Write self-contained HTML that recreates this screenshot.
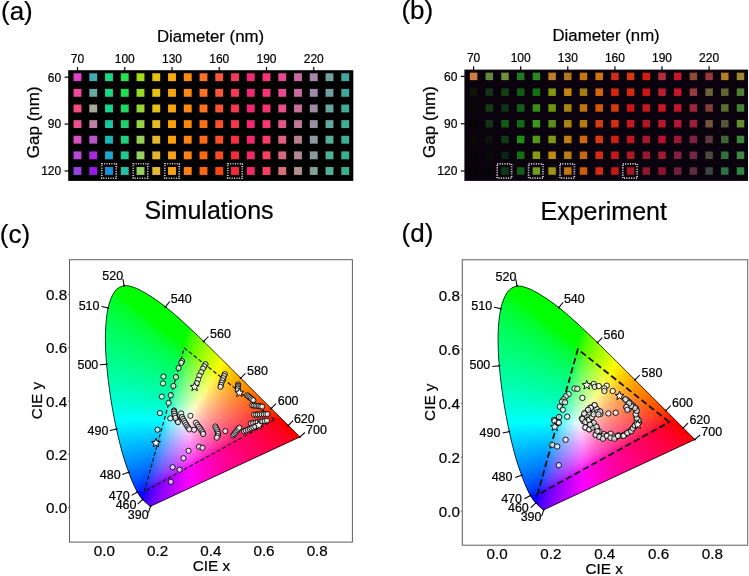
<!DOCTYPE html>
<html><head><meta charset="utf-8"><title>figure</title>
<style>html,body{margin:0;padding:0;background:#fff}svg{display:block}svg{will-change:transform}g.t{filter:grayscale(1)}text{font-family:"Liberation Sans",sans-serif;fill:#000;stroke:#000;stroke-width:0.22px}</style></head><body>
<svg width="749" height="576" viewBox="0 0 749 576">
<defs>
<linearGradient id="g0" gradientUnits="userSpaceOnUse" x1="164.2" x2="183.4" y1="0" y2="0"><stop offset="0" stop-color="#5300ff"/><stop offset="1" stop-color="#6e00ff"/></linearGradient>
<linearGradient id="g1" gradientUnits="userSpaceOnUse" x1="155.7" x2="199.6" y1="0" y2="0"><stop offset="0" stop-color="#4200ff"/><stop offset="0.5" stop-color="#6400ff"/><stop offset="1" stop-color="#8000ff"/></linearGradient>
<linearGradient id="g2" gradientUnits="userSpaceOnUse" x1="147.2" x2="215.7" y1="0" y2="0"><stop offset="0" stop-color="#2b00ff"/><stop offset="0.3333" stop-color="#5700ff"/><stop offset="0.6667" stop-color="#7600ff"/><stop offset="1" stop-color="#9100ff"/></linearGradient>
<linearGradient id="g3" gradientUnits="userSpaceOnUse" x1="139.7" x2="231.9" y1="0" y2="0"><stop offset="0" stop-color="#0000ff"/><stop offset="0.25" stop-color="#4800ff"/><stop offset="0.5" stop-color="#6b00ff"/><stop offset="0.75" stop-color="#8800ff"/><stop offset="1" stop-color="#a200ff"/></linearGradient>
<linearGradient id="g4" gradientUnits="userSpaceOnUse" x1="133.5" x2="248.0" y1="0" y2="0"><stop offset="0" stop-color="#0000ff"/><stop offset="0.2" stop-color="#3800ff"/><stop offset="0.4" stop-color="#6000ff"/><stop offset="0.6" stop-color="#7f00ff"/><stop offset="0.8" stop-color="#9900ff"/><stop offset="1" stop-color="#b200ff"/></linearGradient>
<linearGradient id="g5" gradientUnits="userSpaceOnUse" x1="128.3" x2="264.2" y1="0" y2="0"><stop offset="0" stop-color="#0000ff"/><stop offset="0.1667" stop-color="#2400ff"/><stop offset="0.3333" stop-color="#5400ff"/><stop offset="0.5" stop-color="#7500ff"/><stop offset="0.6667" stop-color="#9100ff"/><stop offset="0.8333" stop-color="#aa00ff"/><stop offset="1" stop-color="#c200ff"/></linearGradient>
<linearGradient id="g6" gradientUnits="userSpaceOnUse" x1="123.5" x2="280.3" y1="0" y2="0"><stop offset="0" stop-color="#0012ff"/><stop offset="0.1429" stop-color="#0000ff"/><stop offset="0.2857" stop-color="#4800ff"/><stop offset="0.4286" stop-color="#6c00ff"/><stop offset="0.5714" stop-color="#8900ff"/><stop offset="0.7143" stop-color="#a300ff"/><stop offset="0.8571" stop-color="#bb00ff"/><stop offset="1" stop-color="#d200ff"/></linearGradient>
<linearGradient id="g7" gradientUnits="userSpaceOnUse" x1="119.0" x2="296.5" y1="0" y2="0"><stop offset="0" stop-color="#0025ff"/><stop offset="0.125" stop-color="#000aff"/><stop offset="0.25" stop-color="#3a00ff"/><stop offset="0.375" stop-color="#6200ff"/><stop offset="0.5" stop-color="#8100ff"/><stop offset="0.625" stop-color="#9c00ff"/><stop offset="0.75" stop-color="#b400ff"/><stop offset="0.875" stop-color="#cb00ff"/><stop offset="1" stop-color="#e200ff"/></linearGradient>
<linearGradient id="g8" gradientUnits="userSpaceOnUse" x1="115.2" x2="312.6" y1="0" y2="0"><stop offset="0" stop-color="#0032ff"/><stop offset="0.125" stop-color="#001fff"/><stop offset="0.25" stop-color="#3900ff"/><stop offset="0.375" stop-color="#6500ff"/><stop offset="0.5" stop-color="#8700ff"/><stop offset="0.625" stop-color="#a400ff"/><stop offset="0.75" stop-color="#bf00ff"/><stop offset="0.875" stop-color="#d900ff"/><stop offset="1" stop-color="#f200ff"/></linearGradient>
<linearGradient id="g9" gradientUnits="userSpaceOnUse" x1="111.5" x2="328.8" y1="0" y2="0"><stop offset="0" stop-color="#003cff"/><stop offset="0.1111" stop-color="#002eff"/><stop offset="0.2222" stop-color="#2719ff"/><stop offset="0.3333" stop-color="#5a00ff"/><stop offset="0.4444" stop-color="#7e00ff"/><stop offset="0.5556" stop-color="#9c00ff"/><stop offset="0.6667" stop-color="#b700ff"/><stop offset="0.7778" stop-color="#d100ff"/><stop offset="0.8889" stop-color="#ea00ff"/><stop offset="1" stop-color="#ff00fb"/></linearGradient>
<linearGradient id="g10" gradientUnits="userSpaceOnUse" x1="107.7" x2="344.9" y1="0" y2="0"><stop offset="0" stop-color="#0046ff"/><stop offset="0.1" stop-color="#003aff"/><stop offset="0.2" stop-color="#002aff"/><stop offset="0.3" stop-color="#4f11ff"/><stop offset="0.4" stop-color="#7500ff"/><stop offset="0.5" stop-color="#9400ff"/><stop offset="0.6" stop-color="#b000ff"/><stop offset="0.7" stop-color="#ca00ff"/><stop offset="0.8" stop-color="#e300ff"/><stop offset="0.9" stop-color="#fc00ff"/><stop offset="1" stop-color="#ff00eb"/></linearGradient>
<linearGradient id="g11" gradientUnits="userSpaceOnUse" x1="104.3" x2="361.1" y1="0" y2="0"><stop offset="0" stop-color="#004eff"/><stop offset="0.09091" stop-color="#0044ff"/><stop offset="0.1818" stop-color="#0037ff"/><stop offset="0.2727" stop-color="#4227ff"/><stop offset="0.3636" stop-color="#6b00ff"/><stop offset="0.4545" stop-color="#8c00ff"/><stop offset="0.5455" stop-color="#a800ff"/><stop offset="0.6364" stop-color="#c300ff"/><stop offset="0.7273" stop-color="#dc00ff"/><stop offset="0.8182" stop-color="#f500ff"/><stop offset="0.9091" stop-color="#ff00f1"/><stop offset="1" stop-color="#ff00dd"/></linearGradient>
<linearGradient id="g12" gradientUnits="userSpaceOnUse" x1="101.3" x2="377.3" y1="0" y2="0"><stop offset="0" stop-color="#0056ff"/><stop offset="0.08333" stop-color="#004dff"/><stop offset="0.1667" stop-color="#0042ff"/><stop offset="0.25" stop-color="#3435ff"/><stop offset="0.3333" stop-color="#6222ff"/><stop offset="0.4167" stop-color="#8400ff"/><stop offset="0.5" stop-color="#a100ff"/><stop offset="0.5833" stop-color="#bc00ff"/><stop offset="0.6667" stop-color="#d600ff"/><stop offset="0.75" stop-color="#ee00ff"/><stop offset="0.8333" stop-color="#ff00f7"/><stop offset="0.9167" stop-color="#ff00e2"/><stop offset="1" stop-color="#ff00d0"/></linearGradient>
<linearGradient id="g13" gradientUnits="userSpaceOnUse" x1="98.3" x2="393.4" y1="0" y2="0"><stop offset="0" stop-color="#005dff"/><stop offset="0.08333" stop-color="#0054ff"/><stop offset="0.1667" stop-color="#0049ff"/><stop offset="0.25" stop-color="#343dff"/><stop offset="0.3333" stop-color="#652cff"/><stop offset="0.4167" stop-color="#890fff"/><stop offset="0.5" stop-color="#a800ff"/><stop offset="0.5833" stop-color="#c500ff"/><stop offset="0.6667" stop-color="#e000ff"/><stop offset="0.75" stop-color="#fb00ff"/><stop offset="0.8333" stop-color="#ff00ea"/><stop offset="0.9167" stop-color="#ff00d6"/><stop offset="1" stop-color="#ff00c4"/></linearGradient>
<linearGradient id="g14" gradientUnits="userSpaceOnUse" x1="95.4" x2="409.6" y1="0" y2="0"><stop offset="0" stop-color="#0064ff"/><stop offset="0.07692" stop-color="#005cff"/><stop offset="0.1538" stop-color="#0052ff"/><stop offset="0.2308" stop-color="#2047ff"/><stop offset="0.3077" stop-color="#5a3aff"/><stop offset="0.3846" stop-color="#8028ff"/><stop offset="0.4615" stop-color="#a000ff"/><stop offset="0.5385" stop-color="#bd00ff"/><stop offset="0.6154" stop-color="#d900ff"/><stop offset="0.6923" stop-color="#f400ff"/><stop offset="0.7692" stop-color="#ff00f1"/><stop offset="0.8462" stop-color="#ff00db"/><stop offset="0.9231" stop-color="#ff00c9"/><stop offset="1" stop-color="#ff00b9"/></linearGradient>
<linearGradient id="g15" gradientUnits="userSpaceOnUse" x1="92.4" x2="425.7" y1="0" y2="0"><stop offset="0" stop-color="#006aff"/><stop offset="0.07143" stop-color="#0063ff"/><stop offset="0.1429" stop-color="#005aff"/><stop offset="0.2143" stop-color="#0051ff"/><stop offset="0.2857" stop-color="#4f45ff"/><stop offset="0.3571" stop-color="#7737ff"/><stop offset="0.4286" stop-color="#9823ff"/><stop offset="0.5" stop-color="#b600ff"/><stop offset="0.5714" stop-color="#d200ff"/><stop offset="0.6429" stop-color="#ed00ff"/><stop offset="0.7143" stop-color="#ff00f7"/><stop offset="0.7857" stop-color="#ff00e0"/><stop offset="0.8571" stop-color="#ff00cd"/><stop offset="0.9286" stop-color="#ff00bd"/><stop offset="1" stop-color="#ff00af"/></linearGradient>
<linearGradient id="g16" gradientUnits="userSpaceOnUse" x1="89.4" x2="441.9" y1="0" y2="0"><stop offset="0" stop-color="#0070ff"/><stop offset="0.06667" stop-color="#006aff"/><stop offset="0.1333" stop-color="#0062ff"/><stop offset="0.2" stop-color="#005aff"/><stop offset="0.2667" stop-color="#4250ff"/><stop offset="0.3333" stop-color="#6e44ff"/><stop offset="0.4" stop-color="#9034ff"/><stop offset="0.4667" stop-color="#af1eff"/><stop offset="0.5333" stop-color="#cb00ff"/><stop offset="0.6" stop-color="#e700ff"/><stop offset="0.6667" stop-color="#ff00fd"/><stop offset="0.7333" stop-color="#ff00e5"/><stop offset="0.8" stop-color="#ff00d1"/><stop offset="0.8667" stop-color="#ff00c1"/><stop offset="0.9333" stop-color="#ff00b2"/><stop offset="1" stop-color="#ff00a5"/></linearGradient>
<linearGradient id="g17" gradientUnits="userSpaceOnUse" x1="86.5" x2="458.0" y1="0" y2="0"><stop offset="0" stop-color="#0076ff"/><stop offset="0.06667" stop-color="#0070ff"/><stop offset="0.1333" stop-color="#0068ff"/><stop offset="0.2" stop-color="#0060ff"/><stop offset="0.2667" stop-color="#4356ff"/><stop offset="0.3333" stop-color="#714aff"/><stop offset="0.4" stop-color="#953cff"/><stop offset="0.4667" stop-color="#b627ff"/><stop offset="0.5333" stop-color="#d400ff"/><stop offset="0.6" stop-color="#f100ff"/><stop offset="0.6667" stop-color="#ff00f2"/><stop offset="0.7333" stop-color="#ff00db"/><stop offset="0.8" stop-color="#ff00c7"/><stop offset="0.8667" stop-color="#ff00b7"/><stop offset="0.9333" stop-color="#ff00a8"/><stop offset="1" stop-color="#ff009c"/></linearGradient>
<linearGradient id="g18" gradientUnits="userSpaceOnUse" x1="84.0" x2="474.2" y1="0" y2="0"><stop offset="0" stop-color="#007cff"/><stop offset="0.0625" stop-color="#0076ff"/><stop offset="0.125" stop-color="#006fff"/><stop offset="0.1875" stop-color="#0068ff"/><stop offset="0.25" stop-color="#335fff"/><stop offset="0.3125" stop-color="#6755ff"/><stop offset="0.375" stop-color="#8d48ff"/><stop offset="0.4375" stop-color="#ae39ff"/><stop offset="0.5" stop-color="#cd21ff"/><stop offset="0.5625" stop-color="#ea00ff"/><stop offset="0.625" stop-color="#ff00f8"/><stop offset="0.6875" stop-color="#ff00e0"/><stop offset="0.75" stop-color="#ff00cc"/><stop offset="0.8125" stop-color="#ff00bb"/><stop offset="0.875" stop-color="#ff00ac"/><stop offset="0.9375" stop-color="#ff009f"/><stop offset="1" stop-color="#ff0093"/></linearGradient>
<linearGradient id="g19" gradientUnits="userSpaceOnUse" x1="81.6" x2="490.3" y1="0" y2="0"><stop offset="0" stop-color="#0082ff"/><stop offset="0.05882" stop-color="#007cff"/><stop offset="0.1176" stop-color="#0076ff"/><stop offset="0.1765" stop-color="#006fff"/><stop offset="0.2353" stop-color="#1f67ff"/><stop offset="0.2941" stop-color="#5d5eff"/><stop offset="0.3529" stop-color="#8553ff"/><stop offset="0.4118" stop-color="#a746ff"/><stop offset="0.4706" stop-color="#c635ff"/><stop offset="0.5294" stop-color="#e31aff"/><stop offset="0.5882" stop-color="#ff00fe"/><stop offset="0.6471" stop-color="#ff00e5"/><stop offset="0.7059" stop-color="#ff00d0"/><stop offset="0.7647" stop-color="#ff00be"/><stop offset="0.8235" stop-color="#ff00af"/><stop offset="0.8824" stop-color="#ff00a1"/><stop offset="0.9412" stop-color="#ff0095"/><stop offset="1" stop-color="#ff008a"/></linearGradient>
<linearGradient id="g20" gradientUnits="userSpaceOnUse" x1="79.1" x2="506.5" y1="0" y2="0"><stop offset="0" stop-color="#0088ff"/><stop offset="0.05556" stop-color="#0082ff"/><stop offset="0.1111" stop-color="#007dff"/><stop offset="0.1667" stop-color="#0076ff"/><stop offset="0.2222" stop-color="#006fff"/><stop offset="0.2778" stop-color="#5267ff"/><stop offset="0.3333" stop-color="#7c5dff"/><stop offset="0.3889" stop-color="#9f52ff"/><stop offset="0.4444" stop-color="#bf44ff"/><stop offset="0.5" stop-color="#dd32ff"/><stop offset="0.5556" stop-color="#fa11ff"/><stop offset="0.6111" stop-color="#ff00ea"/><stop offset="0.6667" stop-color="#ff00d4"/><stop offset="0.7222" stop-color="#ff00c1"/><stop offset="0.7778" stop-color="#ff00b2"/><stop offset="0.8333" stop-color="#ff00a4"/><stop offset="0.8889" stop-color="#ff0097"/><stop offset="0.9444" stop-color="#ff008c"/><stop offset="1" stop-color="#ff0082"/></linearGradient>
<linearGradient id="g21" gradientUnits="userSpaceOnUse" x1="76.6" x2="522.7" y1="0" y2="0"><stop offset="0" stop-color="#008dff"/><stop offset="0.05556" stop-color="#0088ff"/><stop offset="0.1111" stop-color="#0082ff"/><stop offset="0.1667" stop-color="#007cff"/><stop offset="0.2222" stop-color="#0075ff"/><stop offset="0.2778" stop-color="#546dff"/><stop offset="0.3333" stop-color="#8063ff"/><stop offset="0.3889" stop-color="#a558ff"/><stop offset="0.4444" stop-color="#c64bff"/><stop offset="0.5" stop-color="#e539ff"/><stop offset="0.5556" stop-color="#ff1dfa"/><stop offset="0.6111" stop-color="#ff00e0"/><stop offset="0.6667" stop-color="#ff00cb"/><stop offset="0.7222" stop-color="#ff00b9"/><stop offset="0.7778" stop-color="#ff00a9"/><stop offset="0.8333" stop-color="#ff009c"/><stop offset="0.8889" stop-color="#ff008f"/><stop offset="0.9444" stop-color="#ff0084"/><stop offset="1" stop-color="#ff007a"/></linearGradient>
<linearGradient id="g22" gradientUnits="userSpaceOnUse" x1="74.1" x2="538.8" y1="0" y2="0"><stop offset="0" stop-color="#0093ff"/><stop offset="0.05263" stop-color="#008eff"/><stop offset="0.1053" stop-color="#0088ff"/><stop offset="0.1579" stop-color="#0083ff"/><stop offset="0.2105" stop-color="#007cff"/><stop offset="0.2632" stop-color="#4775ff"/><stop offset="0.3158" stop-color="#776cff"/><stop offset="0.3684" stop-color="#9d63ff"/><stop offset="0.4211" stop-color="#bf57ff"/><stop offset="0.4737" stop-color="#de49ff"/><stop offset="0.5263" stop-color="#fd35ff"/><stop offset="0.5789" stop-color="#ff12e5"/><stop offset="0.6316" stop-color="#ff00cf"/><stop offset="0.6842" stop-color="#ff00bc"/><stop offset="0.7368" stop-color="#ff00ac"/><stop offset="0.7895" stop-color="#ff009e"/><stop offset="0.8421" stop-color="#ff0092"/><stop offset="0.8947" stop-color="#ff0086"/><stop offset="0.9474" stop-color="#ff007c"/><stop offset="1" stop-color="#ff0072"/></linearGradient>
<linearGradient id="g23" gradientUnits="userSpaceOnUse" x1="71.6" x2="555.0" y1="0" y2="0"><stop offset="0" stop-color="#0098ff"/><stop offset="0.05" stop-color="#0093ff"/><stop offset="0.1" stop-color="#008fff"/><stop offset="0.15" stop-color="#0089ff"/><stop offset="0.2" stop-color="#0083ff"/><stop offset="0.25" stop-color="#377cff"/><stop offset="0.3" stop-color="#6d75ff"/><stop offset="0.35" stop-color="#956cff"/><stop offset="0.4" stop-color="#b762ff"/><stop offset="0.45" stop-color="#d756ff"/><stop offset="0.5" stop-color="#f746ff"/><stop offset="0.55" stop-color="#ff2deb"/><stop offset="0.6" stop-color="#ff00d3"/><stop offset="0.65" stop-color="#ff00c0"/><stop offset="0.7" stop-color="#ff00af"/><stop offset="0.75" stop-color="#ff00a1"/><stop offset="0.8" stop-color="#ff0094"/><stop offset="0.85" stop-color="#ff0088"/><stop offset="0.9" stop-color="#ff007e"/><stop offset="0.95" stop-color="#ff0074"/><stop offset="1" stop-color="#ff006b"/></linearGradient>
<linearGradient id="g24" gradientUnits="userSpaceOnUse" x1="69.1" x2="571.1" y1="0" y2="0"><stop offset="0" stop-color="#009dff"/><stop offset="0.04762" stop-color="#0099ff"/><stop offset="0.09524" stop-color="#0094ff"/><stop offset="0.1429" stop-color="#0090ff"/><stop offset="0.1905" stop-color="#008aff"/><stop offset="0.2381" stop-color="#2384ff"/><stop offset="0.2857" stop-color="#627dff"/><stop offset="0.3333" stop-color="#8c75ff"/><stop offset="0.381" stop-color="#b06cff"/><stop offset="0.4286" stop-color="#d162ff"/><stop offset="0.4762" stop-color="#f055ff"/><stop offset="0.5238" stop-color="#ff40f0"/><stop offset="0.5714" stop-color="#ff26d7"/><stop offset="0.619" stop-color="#ff00c3"/><stop offset="0.6667" stop-color="#ff00b2"/><stop offset="0.7143" stop-color="#ff00a3"/><stop offset="0.7619" stop-color="#ff0096"/><stop offset="0.8095" stop-color="#ff008a"/><stop offset="0.8571" stop-color="#ff007f"/><stop offset="0.9048" stop-color="#ff0075"/><stop offset="0.9524" stop-color="#ff006c"/><stop offset="1" stop-color="#ff0063"/></linearGradient>
<linearGradient id="g25" gradientUnits="userSpaceOnUse" x1="66.6" x2="587.3" y1="0" y2="0"><stop offset="0" stop-color="#00a2ff"/><stop offset="0.04762" stop-color="#009eff"/><stop offset="0.09524" stop-color="#009aff"/><stop offset="0.1429" stop-color="#0095ff"/><stop offset="0.1905" stop-color="#0090ff"/><stop offset="0.2381" stop-color="#228aff"/><stop offset="0.2857" stop-color="#6583ff"/><stop offset="0.3333" stop-color="#907bff"/><stop offset="0.381" stop-color="#b572ff"/><stop offset="0.4286" stop-color="#d868ff"/><stop offset="0.4762" stop-color="#f95bff"/><stop offset="0.5238" stop-color="#ff44e7"/><stop offset="0.5714" stop-color="#ff2bcf"/><stop offset="0.619" stop-color="#ff00bb"/><stop offset="0.6667" stop-color="#ff00aa"/><stop offset="0.7143" stop-color="#ff009b"/><stop offset="0.7619" stop-color="#ff008e"/><stop offset="0.8095" stop-color="#ff0083"/><stop offset="0.8571" stop-color="#ff0078"/><stop offset="0.9048" stop-color="#ff006e"/><stop offset="0.9524" stop-color="#ff0065"/><stop offset="1" stop-color="#ff005c"/></linearGradient>
<linearGradient id="g26" gradientUnits="userSpaceOnUse" x1="64.3" x2="603.4" y1="0" y2="0"><stop offset="0" stop-color="#00a8ff"/><stop offset="0.04545" stop-color="#00a4ff"/><stop offset="0.09091" stop-color="#00a0ff"/><stop offset="0.1364" stop-color="#009bff"/><stop offset="0.1818" stop-color="#0096ff"/><stop offset="0.2273" stop-color="#0091ff"/><stop offset="0.2727" stop-color="#598bff"/><stop offset="0.3182" stop-color="#8784ff"/><stop offset="0.3636" stop-color="#ae7cff"/><stop offset="0.4091" stop-color="#d172ff"/><stop offset="0.4545" stop-color="#f267ff"/><stop offset="0.5" stop-color="#ff53ec"/><stop offset="0.5455" stop-color="#ff3cd3"/><stop offset="0.5909" stop-color="#ff24be"/><stop offset="0.6364" stop-color="#ff00ad"/><stop offset="0.6818" stop-color="#ff009e"/><stop offset="0.7273" stop-color="#ff0090"/><stop offset="0.7727" stop-color="#ff0084"/><stop offset="0.8182" stop-color="#ff0079"/><stop offset="0.8636" stop-color="#ff006f"/><stop offset="0.9091" stop-color="#ff0066"/><stop offset="0.9545" stop-color="#ff005d"/><stop offset="1" stop-color="#ff0055"/></linearGradient>
<linearGradient id="g27" gradientUnits="userSpaceOnUse" x1="62.4" x2="619.6" y1="0" y2="0"><stop offset="0" stop-color="#00adff"/><stop offset="0.04348" stop-color="#00a9ff"/><stop offset="0.08696" stop-color="#00a5ff"/><stop offset="0.1304" stop-color="#00a1ff"/><stop offset="0.1739" stop-color="#009dff"/><stop offset="0.2174" stop-color="#0098ff"/><stop offset="0.2609" stop-color="#4d92ff"/><stop offset="0.3043" stop-color="#7f8cff"/><stop offset="0.3478" stop-color="#a685ff"/><stop offset="0.3913" stop-color="#ca7cff"/><stop offset="0.4348" stop-color="#ec73ff"/><stop offset="0.4783" stop-color="#ff62f2"/><stop offset="0.5217" stop-color="#ff4bd7"/><stop offset="0.5652" stop-color="#ff35c2"/><stop offset="0.6087" stop-color="#ff1daf"/><stop offset="0.6522" stop-color="#ff00a0"/><stop offset="0.6957" stop-color="#ff0092"/><stop offset="0.7391" stop-color="#ff0086"/><stop offset="0.7826" stop-color="#ff007b"/><stop offset="0.8261" stop-color="#ff0071"/><stop offset="0.8696" stop-color="#ff0067"/><stop offset="0.913" stop-color="#ff005e"/><stop offset="0.9565" stop-color="#ff0056"/><stop offset="1" stop-color="#ff004d"/></linearGradient>
<linearGradient id="g28" gradientUnits="userSpaceOnUse" x1="60.5" x2="635.7" y1="0" y2="0"><stop offset="0" stop-color="#00b2ff"/><stop offset="0.04167" stop-color="#00aeff"/><stop offset="0.08333" stop-color="#00abff"/><stop offset="0.125" stop-color="#00a7ff"/><stop offset="0.1667" stop-color="#00a3ff"/><stop offset="0.2083" stop-color="#009eff"/><stop offset="0.25" stop-color="#3f99ff"/><stop offset="0.2917" stop-color="#7593ff"/><stop offset="0.3333" stop-color="#9f8dff"/><stop offset="0.375" stop-color="#c386ff"/><stop offset="0.4167" stop-color="#e67dff"/><stop offset="0.4583" stop-color="#ff6ff7"/><stop offset="0.5" stop-color="#ff58db"/><stop offset="0.5417" stop-color="#ff44c5"/><stop offset="0.5833" stop-color="#ff2fb2"/><stop offset="0.625" stop-color="#ff16a2"/><stop offset="0.6667" stop-color="#ff0094"/><stop offset="0.7083" stop-color="#ff0087"/><stop offset="0.75" stop-color="#ff007c"/><stop offset="0.7917" stop-color="#ff0072"/><stop offset="0.8333" stop-color="#ff0068"/><stop offset="0.875" stop-color="#ff005f"/><stop offset="0.9167" stop-color="#ff0056"/><stop offset="0.9583" stop-color="#ff004e"/><stop offset="1" stop-color="#ff0046"/></linearGradient>
<linearGradient id="g29" gradientUnits="userSpaceOnUse" x1="58.7" x2="651.9" y1="0" y2="0"><stop offset="0" stop-color="#00b7ff"/><stop offset="0.04167" stop-color="#00b4ff"/><stop offset="0.08333" stop-color="#00b0ff"/><stop offset="0.125" stop-color="#00adff"/><stop offset="0.1667" stop-color="#00a8ff"/><stop offset="0.2083" stop-color="#00a4ff"/><stop offset="0.25" stop-color="#419fff"/><stop offset="0.2917" stop-color="#7999ff"/><stop offset="0.3333" stop-color="#a493ff"/><stop offset="0.375" stop-color="#ca8cff"/><stop offset="0.4167" stop-color="#ee83ff"/><stop offset="0.4583" stop-color="#ff71ee"/><stop offset="0.5" stop-color="#ff5bd3"/><stop offset="0.5417" stop-color="#ff46bd"/><stop offset="0.5833" stop-color="#ff32aa"/><stop offset="0.625" stop-color="#ff1b9b"/><stop offset="0.6667" stop-color="#ff008d"/><stop offset="0.7083" stop-color="#ff0080"/><stop offset="0.75" stop-color="#ff0075"/><stop offset="0.7917" stop-color="#ff006b"/><stop offset="0.8333" stop-color="#ff0061"/><stop offset="0.875" stop-color="#ff0058"/><stop offset="0.9167" stop-color="#ff004f"/><stop offset="0.9583" stop-color="#ff0047"/><stop offset="1" stop-color="#ff003e"/></linearGradient>
<linearGradient id="g30" gradientUnits="userSpaceOnUse" x1="56.8" x2="668.0" y1="0" y2="0"><stop offset="0" stop-color="#00bcff"/><stop offset="0.04" stop-color="#00b9ff"/><stop offset="0.08" stop-color="#00b6ff"/><stop offset="0.12" stop-color="#00b2ff"/><stop offset="0.16" stop-color="#00afff"/><stop offset="0.2" stop-color="#00abff"/><stop offset="0.24" stop-color="#2fa6ff"/><stop offset="0.28" stop-color="#6fa1ff"/><stop offset="0.32" stop-color="#9c9bff"/><stop offset="0.36" stop-color="#c395ff"/><stop offset="0.4" stop-color="#e88dff"/><stop offset="0.44" stop-color="#ff7ff3"/><stop offset="0.48" stop-color="#ff67d7"/><stop offset="0.52" stop-color="#ff53c0"/><stop offset="0.56" stop-color="#ff40ad"/><stop offset="0.6" stop-color="#ff2c9d"/><stop offset="0.64" stop-color="#ff148e"/><stop offset="0.68" stop-color="#ff0082"/><stop offset="0.72" stop-color="#ff0076"/><stop offset="0.76" stop-color="#ff006c"/><stop offset="0.8" stop-color="#ff0062"/><stop offset="0.84" stop-color="#ff0059"/><stop offset="0.88" stop-color="#ff0050"/><stop offset="0.92" stop-color="#ff0047"/><stop offset="0.96" stop-color="#ff003f"/><stop offset="1" stop-color="#ff0036"/></linearGradient>
<linearGradient id="g31" gradientUnits="userSpaceOnUse" x1="55.0" x2="684.2" y1="0" y2="0"><stop offset="0" stop-color="#00c1ff"/><stop offset="0.03846" stop-color="#00beff"/><stop offset="0.07692" stop-color="#00bbff"/><stop offset="0.1154" stop-color="#00b8ff"/><stop offset="0.1538" stop-color="#00b5ff"/><stop offset="0.1923" stop-color="#00b1ff"/><stop offset="0.2308" stop-color="#13adff"/><stop offset="0.2692" stop-color="#64a8ff"/><stop offset="0.3077" stop-color="#94a3ff"/><stop offset="0.3462" stop-color="#bc9dff"/><stop offset="0.3846" stop-color="#e197ff"/><stop offset="0.4231" stop-color="#ff8cf9"/><stop offset="0.4615" stop-color="#ff73db"/><stop offset="0.5" stop-color="#ff5ec3"/><stop offset="0.5385" stop-color="#ff4caf"/><stop offset="0.5769" stop-color="#ff3a9f"/><stop offset="0.6154" stop-color="#ff2790"/><stop offset="0.6538" stop-color="#ff0c83"/><stop offset="0.6923" stop-color="#ff0077"/><stop offset="0.7308" stop-color="#ff006d"/><stop offset="0.7692" stop-color="#ff0063"/><stop offset="0.8077" stop-color="#ff0059"/><stop offset="0.8462" stop-color="#ff0050"/><stop offset="0.8846" stop-color="#ff0047"/><stop offset="0.9231" stop-color="#ff003f"/><stop offset="0.9615" stop-color="#ff0036"/><stop offset="1" stop-color="#ff002d"/></linearGradient>
<linearGradient id="g32" gradientUnits="userSpaceOnUse" x1="53.1" x2="700.4" y1="0" y2="0"><stop offset="0" stop-color="#00c6ff"/><stop offset="0.03846" stop-color="#00c3ff"/><stop offset="0.07692" stop-color="#00c1ff"/><stop offset="0.1154" stop-color="#00beff"/><stop offset="0.1538" stop-color="#00baff"/><stop offset="0.1923" stop-color="#00b7ff"/><stop offset="0.2308" stop-color="#15b3ff"/><stop offset="0.2692" stop-color="#68afff"/><stop offset="0.3077" stop-color="#98aaff"/><stop offset="0.3462" stop-color="#c2a4ff"/><stop offset="0.3846" stop-color="#e99eff"/><stop offset="0.4231" stop-color="#ff8df0"/><stop offset="0.4615" stop-color="#ff75d3"/><stop offset="0.5" stop-color="#ff60bc"/><stop offset="0.5385" stop-color="#ff4da8"/><stop offset="0.5769" stop-color="#ff3c98"/><stop offset="0.6154" stop-color="#ff2989"/><stop offset="0.6538" stop-color="#ff127c"/><stop offset="0.6923" stop-color="#ff0071"/><stop offset="0.7308" stop-color="#ff0066"/><stop offset="0.7692" stop-color="#ff005c"/><stop offset="0.8077" stop-color="#ff0052"/><stop offset="0.8462" stop-color="#ff0049"/><stop offset="0.8846" stop-color="#ff0040"/><stop offset="0.9231" stop-color="#ff0037"/><stop offset="0.9615" stop-color="#ff002e"/><stop offset="1" stop-color="#ff0023"/></linearGradient>
<linearGradient id="g33" gradientUnits="userSpaceOnUse" x1="51.3" x2="716.5" y1="0" y2="0"><stop offset="0" stop-color="#00cbff"/><stop offset="0.03704" stop-color="#00c8ff"/><stop offset="0.07407" stop-color="#00c6ff"/><stop offset="0.1111" stop-color="#00c3ff"/><stop offset="0.1481" stop-color="#00c1ff"/><stop offset="0.1852" stop-color="#00bdff"/><stop offset="0.2222" stop-color="#00baff"/><stop offset="0.2593" stop-color="#5bb6ff"/><stop offset="0.2963" stop-color="#8fb1ff"/><stop offset="0.3333" stop-color="#baacff"/><stop offset="0.3704" stop-color="#e2a7ff"/><stop offset="0.4074" stop-color="#ff9bf6"/><stop offset="0.4444" stop-color="#ff81d7"/><stop offset="0.4815" stop-color="#ff6bbf"/><stop offset="0.5185" stop-color="#ff59ab"/><stop offset="0.5556" stop-color="#ff479a"/><stop offset="0.5926" stop-color="#ff378b"/><stop offset="0.6296" stop-color="#ff247e"/><stop offset="0.6667" stop-color="#ff0972"/><stop offset="0.7037" stop-color="#ff0067"/><stop offset="0.7407" stop-color="#ff005d"/><stop offset="0.7778" stop-color="#ff0053"/><stop offset="0.8148" stop-color="#ff0049"/><stop offset="0.8519" stop-color="#ff0040"/><stop offset="0.8889" stop-color="#ff0037"/><stop offset="0.9259" stop-color="#ff002e"/><stop offset="0.963" stop-color="#ff0023"/><stop offset="1" stop-color="#ff0017"/></linearGradient>
<linearGradient id="g34" gradientUnits="userSpaceOnUse" x1="49.4" x2="732.7" y1="0" y2="0"><stop offset="0" stop-color="#00d0ff"/><stop offset="0.03571" stop-color="#00ceff"/><stop offset="0.07143" stop-color="#00ccff"/><stop offset="0.1071" stop-color="#00c9ff"/><stop offset="0.1429" stop-color="#00c7ff"/><stop offset="0.1786" stop-color="#00c4ff"/><stop offset="0.2143" stop-color="#00c1ff"/><stop offset="0.25" stop-color="#4dbdff"/><stop offset="0.2857" stop-color="#86b9ff"/><stop offset="0.3214" stop-color="#b3b5ff"/><stop offset="0.3571" stop-color="#dbb0ff"/><stop offset="0.3929" stop-color="#ffa8fc"/><stop offset="0.4286" stop-color="#ff8ddb"/><stop offset="0.4643" stop-color="#ff76c2"/><stop offset="0.5" stop-color="#ff63ad"/><stop offset="0.5357" stop-color="#ff529b"/><stop offset="0.5714" stop-color="#ff428c"/><stop offset="0.6071" stop-color="#ff327f"/><stop offset="0.6429" stop-color="#ff2073"/><stop offset="0.6786" stop-color="#ff0067"/><stop offset="0.7143" stop-color="#ff005d"/><stop offset="0.75" stop-color="#ff0053"/><stop offset="0.7857" stop-color="#ff004a"/><stop offset="0.8214" stop-color="#ff0041"/><stop offset="0.8571" stop-color="#ff0037"/><stop offset="0.8929" stop-color="#ff002e"/><stop offset="0.9286" stop-color="#ff0023"/><stop offset="0.9643" stop-color="#ff0017"/><stop offset="1" stop-color="#ff0000"/></linearGradient>
<linearGradient id="g35" gradientUnits="userSpaceOnUse" x1="47.6" x2="737.7" y1="0" y2="0"><stop offset="0" stop-color="#00d5ff"/><stop offset="0.03571" stop-color="#00d3ff"/><stop offset="0.07143" stop-color="#00d1ff"/><stop offset="0.1071" stop-color="#00cfff"/><stop offset="0.1429" stop-color="#00cdff"/><stop offset="0.1786" stop-color="#00caff"/><stop offset="0.2143" stop-color="#00c7ff"/><stop offset="0.25" stop-color="#48c4ff"/><stop offset="0.2857" stop-color="#84c0ff"/><stop offset="0.3214" stop-color="#b2bcff"/><stop offset="0.3571" stop-color="#dcb8ff"/><stop offset="0.3929" stop-color="#ffaffa"/><stop offset="0.4286" stop-color="#ff93d9"/><stop offset="0.4643" stop-color="#ff7cbf"/><stop offset="0.5" stop-color="#ff69aa"/><stop offset="0.5357" stop-color="#ff5799"/><stop offset="0.5714" stop-color="#ff4789"/><stop offset="0.6071" stop-color="#ff387c"/><stop offset="0.6429" stop-color="#ff276f"/><stop offset="0.6786" stop-color="#ff1264"/><stop offset="0.7143" stop-color="#ff005a"/><stop offset="0.75" stop-color="#ff0050"/><stop offset="0.7857" stop-color="#ff0046"/><stop offset="0.8214" stop-color="#ff003c"/><stop offset="0.8571" stop-color="#ff0033"/><stop offset="0.8929" stop-color="#ff0028"/><stop offset="0.9286" stop-color="#ff001d"/><stop offset="0.9643" stop-color="#ff000d"/><stop offset="1" stop-color="#ff0000"/></linearGradient>
<linearGradient id="g36" gradientUnits="userSpaceOnUse" x1="45.7" x2="734.0" y1="0" y2="0"><stop offset="0" stop-color="#00daff"/><stop offset="0.03571" stop-color="#00d8ff"/><stop offset="0.07143" stop-color="#00d6ff"/><stop offset="0.1071" stop-color="#00d5ff"/><stop offset="0.1429" stop-color="#00d3ff"/><stop offset="0.1786" stop-color="#00d0ff"/><stop offset="0.2143" stop-color="#00ceff"/><stop offset="0.25" stop-color="#3acbff"/><stop offset="0.2857" stop-color="#7cc8ff"/><stop offset="0.3214" stop-color="#acc4ff"/><stop offset="0.3571" stop-color="#d7c0ff"/><stop offset="0.3929" stop-color="#ffbbfe"/><stop offset="0.4286" stop-color="#ff9ddb"/><stop offset="0.4643" stop-color="#ff85c0"/><stop offset="0.5" stop-color="#ff71ab"/><stop offset="0.5357" stop-color="#ff6099"/><stop offset="0.5714" stop-color="#ff5089"/><stop offset="0.6071" stop-color="#ff417b"/><stop offset="0.6429" stop-color="#ff326f"/><stop offset="0.6786" stop-color="#ff2163"/><stop offset="0.7143" stop-color="#ff0559"/><stop offset="0.75" stop-color="#ff004f"/><stop offset="0.7857" stop-color="#ff0045"/><stop offset="0.8214" stop-color="#ff003b"/><stop offset="0.8571" stop-color="#ff0031"/><stop offset="0.8929" stop-color="#ff0026"/><stop offset="0.9286" stop-color="#ff001a"/><stop offset="0.9643" stop-color="#ff0005"/><stop offset="1" stop-color="#ff0000"/></linearGradient>
<linearGradient id="g37" gradientUnits="userSpaceOnUse" x1="43.9" x2="726.5" y1="0" y2="0"><stop offset="0" stop-color="#00dfff"/><stop offset="0.03571" stop-color="#00ddff"/><stop offset="0.07143" stop-color="#00dcff"/><stop offset="0.1071" stop-color="#00daff"/><stop offset="0.1429" stop-color="#00d9ff"/><stop offset="0.1786" stop-color="#00d7ff"/><stop offset="0.2143" stop-color="#00d4ff"/><stop offset="0.25" stop-color="#22d2ff"/><stop offset="0.2857" stop-color="#71cfff"/><stop offset="0.3214" stop-color="#a4ccff"/><stop offset="0.3571" stop-color="#d0c9ff"/><stop offset="0.3929" stop-color="#fac5ff"/><stop offset="0.4286" stop-color="#ffa9df"/><stop offset="0.4643" stop-color="#ff90c3"/><stop offset="0.5" stop-color="#ff7bad"/><stop offset="0.5357" stop-color="#ff699a"/><stop offset="0.5714" stop-color="#ff598a"/><stop offset="0.6071" stop-color="#ff4a7c"/><stop offset="0.6429" stop-color="#ff3c6f"/><stop offset="0.6786" stop-color="#ff2d64"/><stop offset="0.7143" stop-color="#ff1c59"/><stop offset="0.75" stop-color="#ff004f"/><stop offset="0.7857" stop-color="#ff0045"/><stop offset="0.8214" stop-color="#ff003b"/><stop offset="0.8571" stop-color="#ff0031"/><stop offset="0.8929" stop-color="#ff0026"/><stop offset="0.9286" stop-color="#ff0019"/><stop offset="0.9643" stop-color="#ff0000"/><stop offset="1" stop-color="#ff0000"/></linearGradient>
<linearGradient id="g38" gradientUnits="userSpaceOnUse" x1="42.0" x2="718.9" y1="0" y2="0"><stop offset="0" stop-color="#00e4ff"/><stop offset="0.03571" stop-color="#00e3ff"/><stop offset="0.07143" stop-color="#00e1ff"/><stop offset="0.1071" stop-color="#00e0ff"/><stop offset="0.1429" stop-color="#00dfff"/><stop offset="0.1786" stop-color="#00ddff"/><stop offset="0.2143" stop-color="#00dbff"/><stop offset="0.25" stop-color="#00d9ff"/><stop offset="0.2857" stop-color="#65d7ff"/><stop offset="0.3214" stop-color="#9bd4ff"/><stop offset="0.3571" stop-color="#c9d2ff"/><stop offset="0.3929" stop-color="#f3ceff"/><stop offset="0.4286" stop-color="#ffb5e4"/><stop offset="0.4643" stop-color="#ff9ac7"/><stop offset="0.5" stop-color="#ff85af"/><stop offset="0.5357" stop-color="#ff729c"/><stop offset="0.5714" stop-color="#ff628b"/><stop offset="0.6071" stop-color="#ff537d"/><stop offset="0.6429" stop-color="#ff4670"/><stop offset="0.6786" stop-color="#ff3864"/><stop offset="0.7143" stop-color="#ff2959"/><stop offset="0.75" stop-color="#ff184f"/><stop offset="0.7857" stop-color="#ff0044"/><stop offset="0.8214" stop-color="#ff003a"/><stop offset="0.8571" stop-color="#ff0030"/><stop offset="0.8929" stop-color="#ff0025"/><stop offset="0.9286" stop-color="#ff0018"/><stop offset="0.9643" stop-color="#ff0000"/><stop offset="1" stop-color="#ff0000"/></linearGradient>
<linearGradient id="g39" gradientUnits="userSpaceOnUse" x1="40.5" x2="711.4" y1="0" y2="0"><stop offset="0" stop-color="#00e9ff"/><stop offset="0.03704" stop-color="#00e8ff"/><stop offset="0.07407" stop-color="#00e7ff"/><stop offset="0.1111" stop-color="#00e6ff"/><stop offset="0.1481" stop-color="#00e5ff"/><stop offset="0.1852" stop-color="#00e3ff"/><stop offset="0.2222" stop-color="#00e2ff"/><stop offset="0.2593" stop-color="#00e0ff"/><stop offset="0.2963" stop-color="#6bdeff"/><stop offset="0.3333" stop-color="#a2dcff"/><stop offset="0.3704" stop-color="#d2d9ff"/><stop offset="0.4074" stop-color="#fed6ff"/><stop offset="0.4444" stop-color="#ffb4da"/><stop offset="0.4815" stop-color="#ff9abe"/><stop offset="0.5185" stop-color="#ff85a7"/><stop offset="0.5556" stop-color="#ff7294"/><stop offset="0.5926" stop-color="#ff6284"/><stop offset="0.6296" stop-color="#ff5375"/><stop offset="0.6667" stop-color="#ff4668"/><stop offset="0.7037" stop-color="#ff385d"/><stop offset="0.7407" stop-color="#ff2a51"/><stop offset="0.7778" stop-color="#ff1847"/><stop offset="0.8148" stop-color="#ff003c"/><stop offset="0.8519" stop-color="#ff0031"/><stop offset="0.8889" stop-color="#ff0026"/><stop offset="0.9259" stop-color="#ff0018"/><stop offset="0.963" stop-color="#ff0000"/><stop offset="1" stop-color="#ff0000"/></linearGradient>
<linearGradient id="g40" gradientUnits="userSpaceOnUse" x1="39.1" x2="703.9" y1="0" y2="0"><stop offset="0" stop-color="#00eeff"/><stop offset="0.03704" stop-color="#00edff"/><stop offset="0.07407" stop-color="#00edff"/><stop offset="0.1111" stop-color="#00ecff"/><stop offset="0.1481" stop-color="#00ebff"/><stop offset="0.1852" stop-color="#00eaff"/><stop offset="0.2222" stop-color="#00e8ff"/><stop offset="0.2593" stop-color="#00e7ff"/><stop offset="0.2963" stop-color="#5ee6ff"/><stop offset="0.3333" stop-color="#99e4ff"/><stop offset="0.3704" stop-color="#cae2ff"/><stop offset="0.4074" stop-color="#f8e0ff"/><stop offset="0.4444" stop-color="#ffc1de"/><stop offset="0.4815" stop-color="#ffa5c0"/><stop offset="0.5185" stop-color="#ff8ea9"/><stop offset="0.5556" stop-color="#ff7b95"/><stop offset="0.5926" stop-color="#ff6b85"/><stop offset="0.6296" stop-color="#ff5c76"/><stop offset="0.6667" stop-color="#ff4e69"/><stop offset="0.7037" stop-color="#ff415d"/><stop offset="0.7407" stop-color="#ff3451"/><stop offset="0.7778" stop-color="#ff2646"/><stop offset="0.8148" stop-color="#ff143c"/><stop offset="0.8519" stop-color="#ff0031"/><stop offset="0.8889" stop-color="#ff0025"/><stop offset="0.9259" stop-color="#ff0017"/><stop offset="0.963" stop-color="#ff0000"/><stop offset="1" stop-color="#ff0000"/></linearGradient>
<linearGradient id="g41" gradientUnits="userSpaceOnUse" x1="37.7" x2="696.3" y1="0" y2="0"><stop offset="0" stop-color="#00f3ff"/><stop offset="0.03704" stop-color="#00f3ff"/><stop offset="0.07407" stop-color="#00f2ff"/><stop offset="0.1111" stop-color="#00f1ff"/><stop offset="0.1481" stop-color="#00f1ff"/><stop offset="0.1852" stop-color="#00f0ff"/><stop offset="0.2222" stop-color="#00efff"/><stop offset="0.2593" stop-color="#00eeff"/><stop offset="0.2963" stop-color="#4eedff"/><stop offset="0.3333" stop-color="#8fecff"/><stop offset="0.3704" stop-color="#c2ebff"/><stop offset="0.4074" stop-color="#f1e9ff"/><stop offset="0.4444" stop-color="#ffcee3"/><stop offset="0.4815" stop-color="#ffb0c4"/><stop offset="0.5185" stop-color="#ff98ab"/><stop offset="0.5556" stop-color="#ff8497"/><stop offset="0.5926" stop-color="#ff7486"/><stop offset="0.6296" stop-color="#ff6577"/><stop offset="0.6667" stop-color="#ff5769"/><stop offset="0.7037" stop-color="#ff4a5d"/><stop offset="0.7407" stop-color="#ff3d51"/><stop offset="0.7778" stop-color="#ff3046"/><stop offset="0.8148" stop-color="#ff223b"/><stop offset="0.8519" stop-color="#ff0f30"/><stop offset="0.8889" stop-color="#ff0024"/><stop offset="0.9259" stop-color="#ff0015"/><stop offset="0.963" stop-color="#ff0000"/><stop offset="1" stop-color="#ff0000"/></linearGradient>
<linearGradient id="g42" gradientUnits="userSpaceOnUse" x1="36.3" x2="688.8" y1="0" y2="0"><stop offset="0" stop-color="#00f8ff"/><stop offset="0.03704" stop-color="#00f8ff"/><stop offset="0.07407" stop-color="#00f8ff"/><stop offset="0.1111" stop-color="#00f7ff"/><stop offset="0.1481" stop-color="#00f7ff"/><stop offset="0.1852" stop-color="#00f6ff"/><stop offset="0.2222" stop-color="#00f6ff"/><stop offset="0.2593" stop-color="#00f5ff"/><stop offset="0.2963" stop-color="#3cf5ff"/><stop offset="0.3333" stop-color="#84f4ff"/><stop offset="0.3704" stop-color="#baf3ff"/><stop offset="0.4074" stop-color="#eaf2ff"/><stop offset="0.4444" stop-color="#ffdce8"/><stop offset="0.4815" stop-color="#ffbbc7"/><stop offset="0.5185" stop-color="#ffa2ad"/><stop offset="0.5556" stop-color="#ff8e99"/><stop offset="0.5926" stop-color="#ff7c87"/><stop offset="0.6296" stop-color="#ff6d78"/><stop offset="0.6667" stop-color="#ff5f6a"/><stop offset="0.7037" stop-color="#ff525d"/><stop offset="0.7407" stop-color="#ff4651"/><stop offset="0.7778" stop-color="#ff3a46"/><stop offset="0.8148" stop-color="#ff2d3b"/><stop offset="0.8519" stop-color="#ff1f30"/><stop offset="0.8889" stop-color="#ff0a23"/><stop offset="0.9259" stop-color="#ff0014"/><stop offset="0.963" stop-color="#ff0000"/><stop offset="1" stop-color="#ff0000"/></linearGradient>
<linearGradient id="g43" gradientUnits="userSpaceOnUse" x1="34.9" x2="681.3" y1="0" y2="0"><stop offset="0" stop-color="#00feff"/><stop offset="0.03846" stop-color="#00feff"/><stop offset="0.07692" stop-color="#00fdff"/><stop offset="0.1154" stop-color="#00fdff"/><stop offset="0.1538" stop-color="#00fdff"/><stop offset="0.1923" stop-color="#00fdff"/><stop offset="0.2308" stop-color="#00fdff"/><stop offset="0.2692" stop-color="#00fdff"/><stop offset="0.3077" stop-color="#45fcff"/><stop offset="0.3462" stop-color="#8dfcff"/><stop offset="0.3846" stop-color="#c4fcff"/><stop offset="0.4231" stop-color="#f6fcff"/><stop offset="0.4615" stop-color="#ffd9dc"/><stop offset="0.5" stop-color="#ffb9bd"/><stop offset="0.5385" stop-color="#ffa1a4"/><stop offset="0.5769" stop-color="#ff8c8f"/><stop offset="0.6154" stop-color="#ff7b7e"/><stop offset="0.6538" stop-color="#ff6c6f"/><stop offset="0.6923" stop-color="#ff5e61"/><stop offset="0.7308" stop-color="#ff5155"/><stop offset="0.7692" stop-color="#ff4549"/><stop offset="0.8077" stop-color="#ff393d"/><stop offset="0.8462" stop-color="#ff2c31"/><stop offset="0.8846" stop-color="#ff1e24"/><stop offset="0.9231" stop-color="#ff0714"/><stop offset="0.9615" stop-color="#ff0000"/><stop offset="1" stop-color="#ff0000"/></linearGradient>
<linearGradient id="g44" gradientUnits="userSpaceOnUse" x1="33.5" x2="673.8" y1="0" y2="0"><stop offset="0" stop-color="#00fffb"/><stop offset="0.03846" stop-color="#00fffb"/><stop offset="0.07692" stop-color="#00fffb"/><stop offset="0.1154" stop-color="#00fffb"/><stop offset="0.1538" stop-color="#00fffb"/><stop offset="0.1923" stop-color="#00fffa"/><stop offset="0.2308" stop-color="#00fffa"/><stop offset="0.2692" stop-color="#00fffa"/><stop offset="0.3077" stop-color="#2dfffa"/><stop offset="0.3462" stop-color="#7ffffa"/><stop offset="0.3846" stop-color="#b7fff9"/><stop offset="0.4231" stop-color="#e9fff9"/><stop offset="0.4615" stop-color="#ffe7e1"/><stop offset="0.5" stop-color="#ffc5c0"/><stop offset="0.5385" stop-color="#ffaba6"/><stop offset="0.5769" stop-color="#ff9691"/><stop offset="0.6154" stop-color="#ff847f"/><stop offset="0.6538" stop-color="#ff7470"/><stop offset="0.6923" stop-color="#ff6662"/><stop offset="0.7308" stop-color="#ff5955"/><stop offset="0.7692" stop-color="#ff4d48"/><stop offset="0.8077" stop-color="#ff413c"/><stop offset="0.8462" stop-color="#ff3530"/><stop offset="0.8846" stop-color="#ff2923"/><stop offset="0.9231" stop-color="#ff1b12"/><stop offset="0.9615" stop-color="#ff0000"/><stop offset="1" stop-color="#ff0000"/></linearGradient>
<linearGradient id="g45" gradientUnits="userSpaceOnUse" x1="32.1" x2="666.3" y1="0" y2="0"><stop offset="0" stop-color="#00fff6"/><stop offset="0.03846" stop-color="#00fff6"/><stop offset="0.07692" stop-color="#00fff5"/><stop offset="0.1154" stop-color="#00fff5"/><stop offset="0.1538" stop-color="#00fff5"/><stop offset="0.1923" stop-color="#00fff4"/><stop offset="0.2308" stop-color="#00fff4"/><stop offset="0.2692" stop-color="#00fff3"/><stop offset="0.3077" stop-color="#00fff3"/><stop offset="0.3462" stop-color="#6efff2"/><stop offset="0.3846" stop-color="#a8fff1"/><stop offset="0.4231" stop-color="#d9fff0"/><stop offset="0.4615" stop-color="#fff6e7"/><stop offset="0.5" stop-color="#ffd1c4"/><stop offset="0.5385" stop-color="#ffb6a8"/><stop offset="0.5769" stop-color="#ff9f93"/><stop offset="0.6154" stop-color="#ff8c80"/><stop offset="0.6538" stop-color="#ff7c70"/><stop offset="0.6923" stop-color="#ff6e62"/><stop offset="0.7308" stop-color="#ff6155"/><stop offset="0.7692" stop-color="#ff5548"/><stop offset="0.8077" stop-color="#ff493c"/><stop offset="0.8462" stop-color="#ff3e30"/><stop offset="0.8846" stop-color="#ff3222"/><stop offset="0.9231" stop-color="#ff2610"/><stop offset="0.9615" stop-color="#ff1800"/><stop offset="1" stop-color="#ff0000"/></linearGradient>
<linearGradient id="g46" gradientUnits="userSpaceOnUse" x1="30.7" x2="658.7" y1="0" y2="0"><stop offset="0" stop-color="#00fff1"/><stop offset="0.03846" stop-color="#00fff1"/><stop offset="0.07692" stop-color="#00fff0"/><stop offset="0.1154" stop-color="#00fff0"/><stop offset="0.1538" stop-color="#00ffef"/><stop offset="0.1923" stop-color="#00ffee"/><stop offset="0.2308" stop-color="#00ffed"/><stop offset="0.2692" stop-color="#00ffed"/><stop offset="0.3077" stop-color="#00ffec"/><stop offset="0.3462" stop-color="#5dffeb"/><stop offset="0.3846" stop-color="#99ffe9"/><stop offset="0.4231" stop-color="#caffe8"/><stop offset="0.4615" stop-color="#f7ffe6"/><stop offset="0.5" stop-color="#ffdfc8"/><stop offset="0.5385" stop-color="#ffc1ab"/><stop offset="0.5769" stop-color="#ffa994"/><stop offset="0.6154" stop-color="#ff9581"/><stop offset="0.6538" stop-color="#ff8571"/><stop offset="0.6923" stop-color="#ff7662"/><stop offset="0.7308" stop-color="#ff6955"/><stop offset="0.7692" stop-color="#ff5c48"/><stop offset="0.8077" stop-color="#ff513c"/><stop offset="0.8462" stop-color="#ff462f"/><stop offset="0.8846" stop-color="#ff3b21"/><stop offset="0.9231" stop-color="#ff300d"/><stop offset="0.9615" stop-color="#ff2400"/><stop offset="1" stop-color="#ff1500"/></linearGradient>
<linearGradient id="g47" gradientUnits="userSpaceOnUse" x1="29.3" x2="651.1" y1="0" y2="0"><stop offset="0" stop-color="#00ffec"/><stop offset="0.04" stop-color="#00ffec"/><stop offset="0.08" stop-color="#00ffeb"/><stop offset="0.12" stop-color="#00ffea"/><stop offset="0.16" stop-color="#00ffe9"/><stop offset="0.2" stop-color="#00ffe8"/><stop offset="0.24" stop-color="#00ffe7"/><stop offset="0.28" stop-color="#00ffe6"/><stop offset="0.32" stop-color="#00ffe5"/><stop offset="0.36" stop-color="#64ffe3"/><stop offset="0.4" stop-color="#9effe1"/><stop offset="0.44" stop-color="#cfffdf"/><stop offset="0.48" stop-color="#fcffdd"/><stop offset="0.52" stop-color="#ffdbbb"/><stop offset="0.56" stop-color="#ffbea0"/><stop offset="0.6" stop-color="#ffa68a"/><stop offset="0.64" stop-color="#ff9378"/><stop offset="0.68" stop-color="#ff8368"/><stop offset="0.72" stop-color="#ff7459"/><stop offset="0.76" stop-color="#ff674b"/><stop offset="0.8" stop-color="#ff5b3e"/><stop offset="0.84" stop-color="#ff4f31"/><stop offset="0.88" stop-color="#ff4422"/><stop offset="0.92" stop-color="#ff390d"/><stop offset="0.96" stop-color="#ff2e00"/><stop offset="1" stop-color="#ff2200"/></linearGradient>
<linearGradient id="g48" gradientUnits="userSpaceOnUse" x1="27.9" x2="643.6" y1="0" y2="0"><stop offset="0" stop-color="#00ffe8"/><stop offset="0.04" stop-color="#00ffe7"/><stop offset="0.08" stop-color="#00ffe6"/><stop offset="0.12" stop-color="#00ffe5"/><stop offset="0.16" stop-color="#00ffe4"/><stop offset="0.2" stop-color="#00ffe3"/><stop offset="0.24" stop-color="#00ffe1"/><stop offset="0.28" stop-color="#00ffe0"/><stop offset="0.32" stop-color="#00ffde"/><stop offset="0.36" stop-color="#53ffdc"/><stop offset="0.4" stop-color="#8fffda"/><stop offset="0.44" stop-color="#c0ffd8"/><stop offset="0.48" stop-color="#edffd5"/><stop offset="0.52" stop-color="#ffe8bf"/><stop offset="0.56" stop-color="#ffc9a3"/><stop offset="0.6" stop-color="#ffb08c"/><stop offset="0.64" stop-color="#ff9c79"/><stop offset="0.68" stop-color="#ff8b68"/><stop offset="0.72" stop-color="#ff7c59"/><stop offset="0.76" stop-color="#ff6e4b"/><stop offset="0.8" stop-color="#ff623e"/><stop offset="0.84" stop-color="#ff5730"/><stop offset="0.88" stop-color="#ff4c21"/><stop offset="0.92" stop-color="#ff410a"/><stop offset="0.96" stop-color="#ff3700"/><stop offset="1" stop-color="#ff2c00"/></linearGradient>
<linearGradient id="g49" gradientUnits="userSpaceOnUse" x1="26.5" x2="636.0" y1="0" y2="0"><stop offset="0" stop-color="#00ffe3"/><stop offset="0.04" stop-color="#00ffe2"/><stop offset="0.08" stop-color="#00ffe1"/><stop offset="0.12" stop-color="#00ffe0"/><stop offset="0.16" stop-color="#00ffdf"/><stop offset="0.2" stop-color="#00ffdd"/><stop offset="0.24" stop-color="#00ffdc"/><stop offset="0.28" stop-color="#00ffda"/><stop offset="0.32" stop-color="#00ffd8"/><stop offset="0.36" stop-color="#3fffd6"/><stop offset="0.4" stop-color="#81ffd4"/><stop offset="0.44" stop-color="#b2ffd1"/><stop offset="0.48" stop-color="#deffce"/><stop offset="0.52" stop-color="#fff6c4"/><stop offset="0.56" stop-color="#ffd5a5"/><stop offset="0.6" stop-color="#ffba8e"/><stop offset="0.64" stop-color="#ffa57a"/><stop offset="0.68" stop-color="#ff9369"/><stop offset="0.72" stop-color="#ff8459"/><stop offset="0.76" stop-color="#ff764b"/><stop offset="0.8" stop-color="#ff6a3d"/><stop offset="0.84" stop-color="#ff5e2f"/><stop offset="0.88" stop-color="#ff531f"/><stop offset="0.92" stop-color="#ff4905"/><stop offset="0.96" stop-color="#ff3f00"/><stop offset="1" stop-color="#ff3400"/></linearGradient>
<linearGradient id="g50" gradientUnits="userSpaceOnUse" x1="25.1" x2="628.5" y1="0" y2="0"><stop offset="0" stop-color="#00ffdf"/><stop offset="0.04" stop-color="#00ffde"/><stop offset="0.08" stop-color="#00ffdc"/><stop offset="0.12" stop-color="#00ffdb"/><stop offset="0.16" stop-color="#00ffda"/><stop offset="0.2" stop-color="#00ffd8"/><stop offset="0.24" stop-color="#00ffd6"/><stop offset="0.28" stop-color="#00ffd4"/><stop offset="0.32" stop-color="#00ffd2"/><stop offset="0.36" stop-color="#25ffd0"/><stop offset="0.4" stop-color="#71ffcd"/><stop offset="0.44" stop-color="#a4ffca"/><stop offset="0.48" stop-color="#cfffc7"/><stop offset="0.52" stop-color="#f8ffc3"/><stop offset="0.56" stop-color="#ffe1a8"/><stop offset="0.6" stop-color="#ffc58f"/><stop offset="0.64" stop-color="#ffaf7b"/><stop offset="0.68" stop-color="#ff9c69"/><stop offset="0.72" stop-color="#ff8c5a"/><stop offset="0.76" stop-color="#ff7e4b"/><stop offset="0.8" stop-color="#ff713d"/><stop offset="0.84" stop-color="#ff652e"/><stop offset="0.88" stop-color="#ff5a1e"/><stop offset="0.92" stop-color="#ff5000"/><stop offset="0.96" stop-color="#ff4600"/><stop offset="1" stop-color="#ff3c00"/></linearGradient>
<linearGradient id="g51" gradientUnits="userSpaceOnUse" x1="23.7" x2="621.0" y1="0" y2="0"><stop offset="0" stop-color="#00ffdb"/><stop offset="0.04167" stop-color="#00ffd9"/><stop offset="0.08333" stop-color="#00ffd8"/><stop offset="0.125" stop-color="#00ffd6"/><stop offset="0.1667" stop-color="#00ffd5"/><stop offset="0.2083" stop-color="#00ffd3"/><stop offset="0.25" stop-color="#00ffd1"/><stop offset="0.2917" stop-color="#00ffce"/><stop offset="0.3333" stop-color="#00ffcc"/><stop offset="0.375" stop-color="#34ffc9"/><stop offset="0.4167" stop-color="#79ffc6"/><stop offset="0.4583" stop-color="#aaffc2"/><stop offset="0.5" stop-color="#d6ffbe"/><stop offset="0.5417" stop-color="#ffffba"/><stop offset="0.5833" stop-color="#ffdc9c"/><stop offset="0.625" stop-color="#ffc184"/><stop offset="0.6667" stop-color="#ffab70"/><stop offset="0.7083" stop-color="#ff995e"/><stop offset="0.75" stop-color="#ff894e"/><stop offset="0.7917" stop-color="#ff7b3f"/><stop offset="0.8333" stop-color="#ff6e30"/><stop offset="0.875" stop-color="#ff631f"/><stop offset="0.9167" stop-color="#ff5800"/><stop offset="0.9583" stop-color="#ff4e00"/><stop offset="1" stop-color="#ff4400"/></linearGradient>
<linearGradient id="g52" gradientUnits="userSpaceOnUse" x1="22.3" x2="613.4" y1="0" y2="0"><stop offset="0" stop-color="#00ffd6"/><stop offset="0.04167" stop-color="#00ffd5"/><stop offset="0.08333" stop-color="#00ffd3"/><stop offset="0.125" stop-color="#00ffd2"/><stop offset="0.1667" stop-color="#00ffd0"/><stop offset="0.2083" stop-color="#00ffce"/><stop offset="0.25" stop-color="#00ffcc"/><stop offset="0.2917" stop-color="#00ffc9"/><stop offset="0.3333" stop-color="#00ffc6"/><stop offset="0.375" stop-color="#14ffc3"/><stop offset="0.4167" stop-color="#6affc0"/><stop offset="0.4583" stop-color="#9cffbc"/><stop offset="0.5" stop-color="#c8ffb8"/><stop offset="0.5417" stop-color="#f0ffb3"/><stop offset="0.5833" stop-color="#ffe99e"/><stop offset="0.625" stop-color="#ffcc85"/><stop offset="0.6667" stop-color="#ffb571"/><stop offset="0.7083" stop-color="#ffa15f"/><stop offset="0.75" stop-color="#ff914e"/><stop offset="0.7917" stop-color="#ff833f"/><stop offset="0.8333" stop-color="#ff762f"/><stop offset="0.875" stop-color="#ff6a1d"/><stop offset="0.9167" stop-color="#ff5f00"/><stop offset="0.9583" stop-color="#ff5500"/><stop offset="1" stop-color="#ff4b00"/></linearGradient>
<linearGradient id="g53" gradientUnits="userSpaceOnUse" x1="20.9" x2="605.9" y1="0" y2="0"><stop offset="0" stop-color="#00ffd2"/><stop offset="0.04167" stop-color="#00ffd1"/><stop offset="0.08333" stop-color="#00ffcf"/><stop offset="0.125" stop-color="#00ffcd"/><stop offset="0.1667" stop-color="#00ffcb"/><stop offset="0.2083" stop-color="#00ffc9"/><stop offset="0.25" stop-color="#00ffc7"/><stop offset="0.2917" stop-color="#00ffc4"/><stop offset="0.3333" stop-color="#00ffc1"/><stop offset="0.375" stop-color="#00ffbe"/><stop offset="0.4167" stop-color="#5affbb"/><stop offset="0.4583" stop-color="#8fffb7"/><stop offset="0.5" stop-color="#baffb2"/><stop offset="0.5417" stop-color="#e2ffad"/><stop offset="0.5833" stop-color="#fff6a1"/><stop offset="0.625" stop-color="#ffd787"/><stop offset="0.6667" stop-color="#ffbf72"/><stop offset="0.7083" stop-color="#ffaa5f"/><stop offset="0.75" stop-color="#ff994e"/><stop offset="0.7917" stop-color="#ff8a3f"/><stop offset="0.8333" stop-color="#ff7d2e"/><stop offset="0.875" stop-color="#ff711c"/><stop offset="0.9167" stop-color="#ff6600"/><stop offset="0.9583" stop-color="#ff5c00"/><stop offset="1" stop-color="#ff5200"/></linearGradient>
<linearGradient id="g54" gradientUnits="userSpaceOnUse" x1="19.5" x2="598.4" y1="0" y2="0"><stop offset="0" stop-color="#00ffce"/><stop offset="0.04167" stop-color="#00ffcd"/><stop offset="0.08333" stop-color="#00ffcb"/><stop offset="0.125" stop-color="#00ffc9"/><stop offset="0.1667" stop-color="#00ffc7"/><stop offset="0.2083" stop-color="#00ffc5"/><stop offset="0.25" stop-color="#00ffc2"/><stop offset="0.2917" stop-color="#00ffbf"/><stop offset="0.3333" stop-color="#00ffbc"/><stop offset="0.375" stop-color="#00ffb9"/><stop offset="0.4167" stop-color="#49ffb5"/><stop offset="0.4583" stop-color="#81ffb1"/><stop offset="0.5" stop-color="#acffac"/><stop offset="0.5417" stop-color="#d4ffa7"/><stop offset="0.5833" stop-color="#f9ffa1"/><stop offset="0.625" stop-color="#ffe389"/><stop offset="0.6667" stop-color="#ffc973"/><stop offset="0.7083" stop-color="#ffb460"/><stop offset="0.75" stop-color="#ffa24e"/><stop offset="0.7917" stop-color="#ff923e"/><stop offset="0.8333" stop-color="#ff852d"/><stop offset="0.875" stop-color="#ff781a"/><stop offset="0.9167" stop-color="#ff6d00"/><stop offset="0.9583" stop-color="#ff6300"/><stop offset="1" stop-color="#ff5900"/></linearGradient>
<linearGradient id="g55" gradientUnits="userSpaceOnUse" x1="18.6" x2="590.9" y1="0" y2="0"><stop offset="0" stop-color="#00ffcb"/><stop offset="0.04348" stop-color="#00ffc9"/><stop offset="0.08696" stop-color="#00ffc7"/><stop offset="0.1304" stop-color="#00ffc4"/><stop offset="0.1739" stop-color="#00ffc2"/><stop offset="0.2174" stop-color="#00ffc0"/><stop offset="0.2609" stop-color="#00ffbd"/><stop offset="0.3043" stop-color="#00ffba"/><stop offset="0.3478" stop-color="#00ffb6"/><stop offset="0.3913" stop-color="#00ffb2"/><stop offset="0.4348" stop-color="#54ffae"/><stop offset="0.4783" stop-color="#89ffa9"/><stop offset="0.5217" stop-color="#b4ffa4"/><stop offset="0.5652" stop-color="#dcff9e"/><stop offset="0.6087" stop-color="#fffd96"/><stop offset="0.6522" stop-color="#ffdd7c"/><stop offset="0.6957" stop-color="#ffc466"/><stop offset="0.7391" stop-color="#ffaf53"/><stop offset="0.7826" stop-color="#ff9e41"/><stop offset="0.8261" stop-color="#ff8e2f"/><stop offset="0.8696" stop-color="#ff811b"/><stop offset="0.913" stop-color="#ff7500"/><stop offset="0.9565" stop-color="#ff6a00"/><stop offset="1" stop-color="#ff6000"/></linearGradient>
<linearGradient id="g56" gradientUnits="userSpaceOnUse" x1="17.7" x2="583.4" y1="0" y2="0"><stop offset="0" stop-color="#00ffc7"/><stop offset="0.04348" stop-color="#00ffc5"/><stop offset="0.08696" stop-color="#00ffc3"/><stop offset="0.1304" stop-color="#00ffc0"/><stop offset="0.1739" stop-color="#00ffbe"/><stop offset="0.2174" stop-color="#00ffbb"/><stop offset="0.2609" stop-color="#00ffb8"/><stop offset="0.3043" stop-color="#00ffb5"/><stop offset="0.3478" stop-color="#00ffb1"/><stop offset="0.3913" stop-color="#00ffae"/><stop offset="0.4348" stop-color="#43ffa9"/><stop offset="0.4783" stop-color="#7cffa4"/><stop offset="0.5217" stop-color="#a8ff9f"/><stop offset="0.5652" stop-color="#ceff99"/><stop offset="0.6087" stop-color="#f3ff91"/><stop offset="0.6522" stop-color="#ffe97d"/><stop offset="0.6957" stop-color="#ffce66"/><stop offset="0.7391" stop-color="#ffb853"/><stop offset="0.7826" stop-color="#ffa641"/><stop offset="0.8261" stop-color="#ff962e"/><stop offset="0.8696" stop-color="#ff8818"/><stop offset="0.913" stop-color="#ff7c00"/><stop offset="0.9565" stop-color="#ff7100"/><stop offset="1" stop-color="#ff6600"/></linearGradient>
<linearGradient id="g57" gradientUnits="userSpaceOnUse" x1="16.8" x2="575.9" y1="0" y2="0"><stop offset="0" stop-color="#00ffc3"/><stop offset="0.04348" stop-color="#00ffc1"/><stop offset="0.08696" stop-color="#00ffbf"/><stop offset="0.1304" stop-color="#00ffbc"/><stop offset="0.1739" stop-color="#00ffba"/><stop offset="0.2174" stop-color="#00ffb7"/><stop offset="0.2609" stop-color="#00ffb4"/><stop offset="0.3043" stop-color="#00ffb1"/><stop offset="0.3478" stop-color="#00ffad"/><stop offset="0.3913" stop-color="#00ffa9"/><stop offset="0.4348" stop-color="#2fffa4"/><stop offset="0.4783" stop-color="#6eff9f"/><stop offset="0.5217" stop-color="#9bff9a"/><stop offset="0.5652" stop-color="#c2ff93"/><stop offset="0.6087" stop-color="#e6ff8c"/><stop offset="0.6522" stop-color="#fff67f"/><stop offset="0.6957" stop-color="#ffd967"/><stop offset="0.7391" stop-color="#ffc253"/><stop offset="0.7826" stop-color="#ffaf40"/><stop offset="0.8261" stop-color="#ff9e2d"/><stop offset="0.8696" stop-color="#ff9015"/><stop offset="0.913" stop-color="#ff8300"/><stop offset="0.9565" stop-color="#ff7800"/><stop offset="1" stop-color="#ff6d00"/></linearGradient>
<linearGradient id="g58" gradientUnits="userSpaceOnUse" x1="15.9" x2="568.3" y1="0" y2="0"><stop offset="0" stop-color="#00ffbf"/><stop offset="0.04348" stop-color="#00ffbd"/><stop offset="0.08696" stop-color="#00ffbb"/><stop offset="0.1304" stop-color="#00ffb8"/><stop offset="0.1739" stop-color="#00ffb6"/><stop offset="0.2174" stop-color="#00ffb3"/><stop offset="0.2609" stop-color="#00ffb0"/><stop offset="0.3043" stop-color="#00ffac"/><stop offset="0.3478" stop-color="#00ffa8"/><stop offset="0.3913" stop-color="#00ffa4"/><stop offset="0.4348" stop-color="#0fffa0"/><stop offset="0.4783" stop-color="#60ff9b"/><stop offset="0.5217" stop-color="#8eff95"/><stop offset="0.5652" stop-color="#b5ff8e"/><stop offset="0.6087" stop-color="#d9ff87"/><stop offset="0.6522" stop-color="#fbff7e"/><stop offset="0.6957" stop-color="#ffe468"/><stop offset="0.7391" stop-color="#ffcc53"/><stop offset="0.7826" stop-color="#ffb83f"/><stop offset="0.8261" stop-color="#ffa72c"/><stop offset="0.8696" stop-color="#ff9812"/><stop offset="0.913" stop-color="#ff8b00"/><stop offset="0.9565" stop-color="#ff7f00"/><stop offset="1" stop-color="#ff7400"/></linearGradient>
<linearGradient id="g59" gradientUnits="userSpaceOnUse" x1="15.0" x2="560.8" y1="0" y2="0"><stop offset="0" stop-color="#00ffbc"/><stop offset="0.04545" stop-color="#00ffb9"/><stop offset="0.09091" stop-color="#00ffb7"/><stop offset="0.1364" stop-color="#00ffb4"/><stop offset="0.1818" stop-color="#00ffb1"/><stop offset="0.2273" stop-color="#00ffae"/><stop offset="0.2727" stop-color="#00ffab"/><stop offset="0.3182" stop-color="#00ffa7"/><stop offset="0.3636" stop-color="#00ffa3"/><stop offset="0.4091" stop-color="#00ff9e"/><stop offset="0.4545" stop-color="#2aff99"/><stop offset="0.5" stop-color="#6bff93"/><stop offset="0.5455" stop-color="#97ff8d"/><stop offset="0.5909" stop-color="#beff85"/><stop offset="0.6364" stop-color="#e1ff7d"/><stop offset="0.6818" stop-color="#fffa70"/><stop offset="0.7273" stop-color="#ffdd59"/><stop offset="0.7727" stop-color="#ffc643"/><stop offset="0.8182" stop-color="#ffb22e"/><stop offset="0.8636" stop-color="#ffa213"/><stop offset="0.9091" stop-color="#ff9300"/><stop offset="0.9545" stop-color="#ff8600"/><stop offset="1" stop-color="#ff7b00"/></linearGradient>
<linearGradient id="g60" gradientUnits="userSpaceOnUse" x1="14.0" x2="553.2" y1="0" y2="0"><stop offset="0" stop-color="#00ffb8"/><stop offset="0.04545" stop-color="#00ffb6"/><stop offset="0.09091" stop-color="#00ffb3"/><stop offset="0.1364" stop-color="#00ffb0"/><stop offset="0.1818" stop-color="#00ffad"/><stop offset="0.2273" stop-color="#00ffaa"/><stop offset="0.2727" stop-color="#00ffa7"/><stop offset="0.3182" stop-color="#00ffa3"/><stop offset="0.3636" stop-color="#00ff9e"/><stop offset="0.4091" stop-color="#00ff9a"/><stop offset="0.4545" stop-color="#00ff95"/><stop offset="0.5" stop-color="#5dff8f"/><stop offset="0.5455" stop-color="#8bff88"/><stop offset="0.5909" stop-color="#b1ff81"/><stop offset="0.6364" stop-color="#d4ff78"/><stop offset="0.6818" stop-color="#f6ff6e"/><stop offset="0.7273" stop-color="#ffe959"/><stop offset="0.7727" stop-color="#ffd043"/><stop offset="0.8182" stop-color="#ffbb2d"/><stop offset="0.8636" stop-color="#ffaa0f"/><stop offset="0.9091" stop-color="#ff9b00"/><stop offset="0.9545" stop-color="#ff8e00"/><stop offset="1" stop-color="#ff8200"/></linearGradient>
<linearGradient id="g61" gradientUnits="userSpaceOnUse" x1="13.1" x2="545.7" y1="0" y2="0"><stop offset="0" stop-color="#00ffb5"/><stop offset="0.04545" stop-color="#00ffb2"/><stop offset="0.09091" stop-color="#00ffb0"/><stop offset="0.1364" stop-color="#00ffad"/><stop offset="0.1818" stop-color="#00ffaa"/><stop offset="0.2273" stop-color="#00ffa6"/><stop offset="0.2727" stop-color="#00ffa3"/><stop offset="0.3182" stop-color="#00ff9f"/><stop offset="0.3636" stop-color="#00ff9a"/><stop offset="0.4091" stop-color="#00ff96"/><stop offset="0.4545" stop-color="#00ff90"/><stop offset="0.5" stop-color="#4eff8a"/><stop offset="0.5455" stop-color="#7eff84"/><stop offset="0.5909" stop-color="#a5ff7c"/><stop offset="0.6364" stop-color="#c8ff73"/><stop offset="0.6818" stop-color="#e9ff69"/><stop offset="0.7273" stop-color="#fff559"/><stop offset="0.7727" stop-color="#ffda42"/><stop offset="0.8182" stop-color="#ffc52b"/><stop offset="0.8636" stop-color="#ffb309"/><stop offset="0.9091" stop-color="#ffa300"/><stop offset="0.9545" stop-color="#ff9500"/><stop offset="1" stop-color="#ff8900"/></linearGradient>
<linearGradient id="g62" gradientUnits="userSpaceOnUse" x1="12.2" x2="538.2" y1="0" y2="0"><stop offset="0" stop-color="#00ffb1"/><stop offset="0.04545" stop-color="#00ffaf"/><stop offset="0.09091" stop-color="#00ffac"/><stop offset="0.1364" stop-color="#00ffa9"/><stop offset="0.1818" stop-color="#00ffa6"/><stop offset="0.2273" stop-color="#00ffa3"/><stop offset="0.2727" stop-color="#00ff9f"/><stop offset="0.3182" stop-color="#00ff9b"/><stop offset="0.3636" stop-color="#00ff96"/><stop offset="0.4091" stop-color="#00ff92"/><stop offset="0.4545" stop-color="#00ff8c"/><stop offset="0.5" stop-color="#3dff86"/><stop offset="0.5455" stop-color="#71ff80"/><stop offset="0.5909" stop-color="#99ff78"/><stop offset="0.6364" stop-color="#bbff6f"/><stop offset="0.6818" stop-color="#dcff65"/><stop offset="0.7273" stop-color="#fcff58"/><stop offset="0.7727" stop-color="#ffe641"/><stop offset="0.8182" stop-color="#ffcf29"/><stop offset="0.8636" stop-color="#ffbc00"/><stop offset="0.9091" stop-color="#ffab00"/><stop offset="0.9545" stop-color="#ff9d00"/><stop offset="1" stop-color="#ff9000"/></linearGradient>
<linearGradient id="g63" gradientUnits="userSpaceOnUse" x1="11.3" x2="530.6" y1="0" y2="0"><stop offset="0" stop-color="#00ffae"/><stop offset="0.04762" stop-color="#00ffab"/><stop offset="0.09524" stop-color="#00ffa8"/><stop offset="0.1429" stop-color="#00ffa5"/><stop offset="0.1905" stop-color="#00ffa2"/><stop offset="0.2381" stop-color="#00ff9e"/><stop offset="0.2857" stop-color="#00ff9a"/><stop offset="0.3333" stop-color="#00ff96"/><stop offset="0.381" stop-color="#00ff91"/><stop offset="0.4286" stop-color="#00ff8b"/><stop offset="0.4762" stop-color="#00ff86"/><stop offset="0.5238" stop-color="#4cff7f"/><stop offset="0.5714" stop-color="#7cff77"/><stop offset="0.619" stop-color="#a2ff6e"/><stop offset="0.6667" stop-color="#c5ff64"/><stop offset="0.7143" stop-color="#e6ff58"/><stop offset="0.7619" stop-color="#fff846"/><stop offset="0.8095" stop-color="#ffde2c"/><stop offset="0.8571" stop-color="#ffc800"/><stop offset="0.9048" stop-color="#ffb500"/><stop offset="0.9524" stop-color="#ffa600"/><stop offset="1" stop-color="#ff9800"/></linearGradient>
<linearGradient id="g64" gradientUnits="userSpaceOnUse" x1="10.4" x2="523.1" y1="0" y2="0"><stop offset="0" stop-color="#00ffab"/><stop offset="0.04762" stop-color="#00ffa8"/><stop offset="0.09524" stop-color="#00ffa5"/><stop offset="0.1429" stop-color="#00ffa2"/><stop offset="0.1905" stop-color="#00ff9e"/><stop offset="0.2381" stop-color="#00ff9a"/><stop offset="0.2857" stop-color="#00ff96"/><stop offset="0.3333" stop-color="#00ff92"/><stop offset="0.381" stop-color="#00ff8d"/><stop offset="0.4286" stop-color="#00ff88"/><stop offset="0.4762" stop-color="#00ff82"/><stop offset="0.5238" stop-color="#3aff7b"/><stop offset="0.5714" stop-color="#6fff73"/><stop offset="0.619" stop-color="#96ff6a"/><stop offset="0.6667" stop-color="#b9ff60"/><stop offset="0.7143" stop-color="#d9ff54"/><stop offset="0.7619" stop-color="#f8ff44"/><stop offset="0.8095" stop-color="#ffe92a"/><stop offset="0.8571" stop-color="#ffd200"/><stop offset="0.9048" stop-color="#ffbe00"/><stop offset="0.9524" stop-color="#ffae00"/><stop offset="1" stop-color="#ff9f00"/></linearGradient>
<linearGradient id="g65" gradientUnits="userSpaceOnUse" x1="9.5" x2="515.6" y1="0" y2="0"><stop offset="0" stop-color="#00ffa7"/><stop offset="0.04762" stop-color="#00ffa5"/><stop offset="0.09524" stop-color="#00ffa1"/><stop offset="0.1429" stop-color="#00ff9e"/><stop offset="0.1905" stop-color="#00ff9b"/><stop offset="0.2381" stop-color="#00ff97"/><stop offset="0.2857" stop-color="#00ff93"/><stop offset="0.3333" stop-color="#00ff8e"/><stop offset="0.381" stop-color="#00ff89"/><stop offset="0.4286" stop-color="#00ff84"/><stop offset="0.4762" stop-color="#00ff7e"/><stop offset="0.5238" stop-color="#24ff77"/><stop offset="0.5714" stop-color="#61ff6f"/><stop offset="0.619" stop-color="#8aff67"/><stop offset="0.6667" stop-color="#adff5c"/><stop offset="0.7143" stop-color="#cdff50"/><stop offset="0.7619" stop-color="#ebff40"/><stop offset="0.8095" stop-color="#fff528"/><stop offset="0.8571" stop-color="#ffdc00"/><stop offset="0.9048" stop-color="#ffc800"/><stop offset="0.9524" stop-color="#ffb600"/><stop offset="1" stop-color="#ffa700"/></linearGradient>
<linearGradient id="g66" gradientUnits="userSpaceOnUse" x1="8.6" x2="508.1" y1="0" y2="0"><stop offset="0" stop-color="#00ffa4"/><stop offset="0.05" stop-color="#00ffa1"/><stop offset="0.1" stop-color="#00ff9e"/><stop offset="0.15" stop-color="#00ff9a"/><stop offset="0.2" stop-color="#00ff97"/><stop offset="0.25" stop-color="#00ff92"/><stop offset="0.3" stop-color="#00ff8e"/><stop offset="0.35" stop-color="#00ff89"/><stop offset="0.4" stop-color="#00ff84"/><stop offset="0.45" stop-color="#00ff7e"/><stop offset="0.5" stop-color="#00ff77"/><stop offset="0.55" stop-color="#3aff6f"/><stop offset="0.6" stop-color="#6eff66"/><stop offset="0.65" stop-color="#95ff5c"/><stop offset="0.7" stop-color="#b7ff50"/><stop offset="0.75" stop-color="#d7ff40"/><stop offset="0.8" stop-color="#f6ff2a"/><stop offset="0.85" stop-color="#ffeb00"/><stop offset="0.9" stop-color="#ffd400"/><stop offset="0.95" stop-color="#ffc000"/><stop offset="1" stop-color="#ffb000"/></linearGradient>
<linearGradient id="g67" gradientUnits="userSpaceOnUse" x1="7.7" x2="500.6" y1="0" y2="0"><stop offset="0" stop-color="#00ffa1"/><stop offset="0.05" stop-color="#00ff9e"/><stop offset="0.1" stop-color="#00ff9b"/><stop offset="0.15" stop-color="#00ff97"/><stop offset="0.2" stop-color="#00ff93"/><stop offset="0.25" stop-color="#00ff8f"/><stop offset="0.3" stop-color="#00ff8b"/><stop offset="0.35" stop-color="#00ff86"/><stop offset="0.4" stop-color="#00ff80"/><stop offset="0.45" stop-color="#00ff7a"/><stop offset="0.5" stop-color="#00ff73"/><stop offset="0.55" stop-color="#23ff6c"/><stop offset="0.6" stop-color="#61ff63"/><stop offset="0.65" stop-color="#89ff58"/><stop offset="0.7" stop-color="#abff4c"/><stop offset="0.75" stop-color="#cbff3c"/><stop offset="0.8" stop-color="#e9ff25"/><stop offset="0.85" stop-color="#fff700"/><stop offset="0.9" stop-color="#ffde00"/><stop offset="0.95" stop-color="#ffca00"/><stop offset="1" stop-color="#ffb800"/></linearGradient>
<linearGradient id="g68" gradientUnits="userSpaceOnUse" x1="6.7" x2="493.0" y1="0" y2="0"><stop offset="0" stop-color="#00ff9e"/><stop offset="0.05" stop-color="#00ff9b"/><stop offset="0.1" stop-color="#00ff97"/><stop offset="0.15" stop-color="#00ff94"/><stop offset="0.2" stop-color="#00ff90"/><stop offset="0.25" stop-color="#00ff8c"/><stop offset="0.3" stop-color="#00ff87"/><stop offset="0.35" stop-color="#00ff82"/><stop offset="0.4" stop-color="#00ff7d"/><stop offset="0.45" stop-color="#00ff77"/><stop offset="0.5" stop-color="#00ff70"/><stop offset="0.55" stop-color="#00ff68"/><stop offset="0.6" stop-color="#52ff5f"/><stop offset="0.65" stop-color="#7dff55"/><stop offset="0.7" stop-color="#a0ff48"/><stop offset="0.75" stop-color="#bfff38"/><stop offset="0.8" stop-color="#ddff20"/><stop offset="0.85" stop-color="#faff00"/><stop offset="0.9" stop-color="#ffe900"/><stop offset="0.95" stop-color="#ffd400"/><stop offset="1" stop-color="#ffc100"/></linearGradient>
<linearGradient id="g69" gradientUnits="userSpaceOnUse" x1="5.8" x2="485.5" y1="0" y2="0"><stop offset="0" stop-color="#00ff9b"/><stop offset="0.05" stop-color="#00ff98"/><stop offset="0.1" stop-color="#00ff94"/><stop offset="0.15" stop-color="#00ff91"/><stop offset="0.2" stop-color="#00ff8d"/><stop offset="0.25" stop-color="#00ff88"/><stop offset="0.3" stop-color="#00ff84"/><stop offset="0.35" stop-color="#00ff7f"/><stop offset="0.4" stop-color="#00ff79"/><stop offset="0.45" stop-color="#00ff73"/><stop offset="0.5" stop-color="#00ff6c"/><stop offset="0.55" stop-color="#00ff65"/><stop offset="0.6" stop-color="#42ff5c"/><stop offset="0.65" stop-color="#70ff51"/><stop offset="0.7" stop-color="#94ff45"/><stop offset="0.75" stop-color="#b3ff34"/><stop offset="0.8" stop-color="#d1ff1b"/><stop offset="0.85" stop-color="#edff00"/><stop offset="0.9" stop-color="#fff500"/><stop offset="0.95" stop-color="#ffde00"/><stop offset="1" stop-color="#ffcb00"/></linearGradient>
<linearGradient id="g70" gradientUnits="userSpaceOnUse" x1="4.9" x2="478.0" y1="0" y2="0"><stop offset="0" stop-color="#00ff98"/><stop offset="0.05263" stop-color="#00ff94"/><stop offset="0.1053" stop-color="#00ff91"/><stop offset="0.1579" stop-color="#00ff8d"/><stop offset="0.2105" stop-color="#00ff89"/><stop offset="0.2632" stop-color="#00ff84"/><stop offset="0.3158" stop-color="#00ff7f"/><stop offset="0.3684" stop-color="#00ff7a"/><stop offset="0.4211" stop-color="#00ff73"/><stop offset="0.4737" stop-color="#00ff6d"/><stop offset="0.5263" stop-color="#00ff65"/><stop offset="0.5789" stop-color="#00ff5c"/><stop offset="0.6316" stop-color="#53ff52"/><stop offset="0.6842" stop-color="#7dff45"/><stop offset="0.7368" stop-color="#9fff35"/><stop offset="0.7895" stop-color="#bfff1d"/><stop offset="0.8421" stop-color="#dcff00"/><stop offset="0.8947" stop-color="#f9ff00"/><stop offset="0.9474" stop-color="#ffeb00"/><stop offset="1" stop-color="#ffd500"/></linearGradient>
<linearGradient id="g71" gradientUnits="userSpaceOnUse" x1="4.1" x2="470.4" y1="0" y2="0"><stop offset="0" stop-color="#00ff95"/><stop offset="0.05263" stop-color="#00ff91"/><stop offset="0.1053" stop-color="#00ff8e"/><stop offset="0.1579" stop-color="#00ff8a"/><stop offset="0.2105" stop-color="#00ff85"/><stop offset="0.2632" stop-color="#00ff81"/><stop offset="0.3158" stop-color="#00ff7c"/><stop offset="0.3684" stop-color="#00ff76"/><stop offset="0.4211" stop-color="#00ff70"/><stop offset="0.4737" stop-color="#00ff69"/><stop offset="0.5263" stop-color="#00ff62"/><stop offset="0.5789" stop-color="#00ff59"/><stop offset="0.6316" stop-color="#43ff4e"/><stop offset="0.6842" stop-color="#70ff42"/><stop offset="0.7368" stop-color="#93ff32"/><stop offset="0.7895" stop-color="#b3ff18"/><stop offset="0.8421" stop-color="#d0ff00"/><stop offset="0.8947" stop-color="#ecff00"/><stop offset="0.9474" stop-color="#fff700"/><stop offset="1" stop-color="#ffdf00"/></linearGradient>
<linearGradient id="g72" gradientUnits="userSpaceOnUse" x1="3.9" x2="462.9" y1="0" y2="0"><stop offset="0" stop-color="#00ff92"/><stop offset="0.05263" stop-color="#00ff8e"/><stop offset="0.1053" stop-color="#00ff8b"/><stop offset="0.1579" stop-color="#00ff87"/><stop offset="0.2105" stop-color="#00ff82"/><stop offset="0.2632" stop-color="#00ff7e"/><stop offset="0.3158" stop-color="#00ff79"/><stop offset="0.3684" stop-color="#00ff73"/><stop offset="0.4211" stop-color="#00ff6d"/><stop offset="0.4737" stop-color="#00ff66"/><stop offset="0.5263" stop-color="#00ff5e"/><stop offset="0.5789" stop-color="#00ff55"/><stop offset="0.6316" stop-color="#31ff4b"/><stop offset="0.6842" stop-color="#63ff3e"/><stop offset="0.7368" stop-color="#88ff2e"/><stop offset="0.7895" stop-color="#a7ff11"/><stop offset="0.8421" stop-color="#c4ff00"/><stop offset="0.8947" stop-color="#e0ff00"/><stop offset="0.9474" stop-color="#fbff00"/><stop offset="1" stop-color="#ffea00"/></linearGradient>
<linearGradient id="g73" gradientUnits="userSpaceOnUse" x1="3.6" x2="455.3" y1="0" y2="0"><stop offset="0" stop-color="#00ff8f"/><stop offset="0.05263" stop-color="#00ff8b"/><stop offset="0.1053" stop-color="#00ff87"/><stop offset="0.1579" stop-color="#00ff83"/><stop offset="0.2105" stop-color="#00ff7f"/><stop offset="0.2632" stop-color="#00ff7a"/><stop offset="0.3158" stop-color="#00ff75"/><stop offset="0.3684" stop-color="#00ff70"/><stop offset="0.4211" stop-color="#00ff6a"/><stop offset="0.4737" stop-color="#00ff63"/><stop offset="0.5263" stop-color="#00ff5b"/><stop offset="0.5789" stop-color="#00ff52"/><stop offset="0.6316" stop-color="#17ff48"/><stop offset="0.6842" stop-color="#56ff3b"/><stop offset="0.7368" stop-color="#7cff2a"/><stop offset="0.7895" stop-color="#9cff08"/><stop offset="0.8421" stop-color="#b8ff00"/><stop offset="0.8947" stop-color="#d4ff00"/><stop offset="0.9474" stop-color="#eeff00"/><stop offset="1" stop-color="#fff600"/></linearGradient>
<linearGradient id="g74" gradientUnits="userSpaceOnUse" x1="3.3" x2="447.8" y1="0" y2="0"><stop offset="0" stop-color="#00ff8c"/><stop offset="0.05556" stop-color="#00ff88"/><stop offset="0.1111" stop-color="#00ff84"/><stop offset="0.1667" stop-color="#00ff80"/><stop offset="0.2222" stop-color="#00ff7b"/><stop offset="0.2778" stop-color="#00ff76"/><stop offset="0.3333" stop-color="#00ff70"/><stop offset="0.3889" stop-color="#00ff6a"/><stop offset="0.4444" stop-color="#00ff63"/><stop offset="0.5" stop-color="#00ff5c"/><stop offset="0.5556" stop-color="#00ff53"/><stop offset="0.6111" stop-color="#00ff49"/><stop offset="0.6667" stop-color="#35ff3c"/><stop offset="0.7222" stop-color="#65ff2b"/><stop offset="0.7778" stop-color="#89ff0d"/><stop offset="0.8333" stop-color="#a8ff00"/><stop offset="0.8889" stop-color="#c5ff00"/><stop offset="0.9444" stop-color="#e0ff00"/><stop offset="1" stop-color="#fbff00"/></linearGradient>
<linearGradient id="g75" gradientUnits="userSpaceOnUse" x1="3.0" x2="440.2" y1="0" y2="0"><stop offset="0" stop-color="#00ff89"/><stop offset="0.05556" stop-color="#00ff85"/><stop offset="0.1111" stop-color="#00ff81"/><stop offset="0.1667" stop-color="#00ff7d"/><stop offset="0.2222" stop-color="#00ff78"/><stop offset="0.2778" stop-color="#00ff73"/><stop offset="0.3333" stop-color="#00ff6d"/><stop offset="0.3889" stop-color="#00ff67"/><stop offset="0.4444" stop-color="#00ff60"/><stop offset="0.5" stop-color="#00ff59"/><stop offset="0.5556" stop-color="#00ff50"/><stop offset="0.6111" stop-color="#00ff45"/><stop offset="0.6667" stop-color="#1dff38"/><stop offset="0.7222" stop-color="#58ff27"/><stop offset="0.7778" stop-color="#7dff00"/><stop offset="0.8333" stop-color="#9cff00"/><stop offset="0.8889" stop-color="#b9ff00"/><stop offset="0.9444" stop-color="#d4ff00"/><stop offset="1" stop-color="#eeff00"/></linearGradient>
<linearGradient id="g76" gradientUnits="userSpaceOnUse" x1="2.8" x2="432.6" y1="0" y2="0"><stop offset="0" stop-color="#00ff86"/><stop offset="0.05556" stop-color="#00ff82"/><stop offset="0.1111" stop-color="#00ff7e"/><stop offset="0.1667" stop-color="#00ff7a"/><stop offset="0.2222" stop-color="#00ff75"/><stop offset="0.2778" stop-color="#00ff70"/><stop offset="0.3333" stop-color="#00ff6a"/><stop offset="0.3889" stop-color="#00ff64"/><stop offset="0.4444" stop-color="#00ff5d"/><stop offset="0.5" stop-color="#00ff55"/><stop offset="0.5556" stop-color="#00ff4d"/><stop offset="0.6111" stop-color="#00ff42"/><stop offset="0.6667" stop-color="#00ff35"/><stop offset="0.7222" stop-color="#49ff23"/><stop offset="0.7778" stop-color="#71ff00"/><stop offset="0.8333" stop-color="#91ff00"/><stop offset="0.8889" stop-color="#adff00"/><stop offset="0.9444" stop-color="#c8ff00"/><stop offset="1" stop-color="#e1ff00"/></linearGradient>
<linearGradient id="g77" gradientUnits="userSpaceOnUse" x1="2.5" x2="425.0" y1="0" y2="0"><stop offset="0" stop-color="#00ff83"/><stop offset="0.05882" stop-color="#00ff7f"/><stop offset="0.1176" stop-color="#00ff7b"/><stop offset="0.1765" stop-color="#00ff76"/><stop offset="0.2353" stop-color="#00ff71"/><stop offset="0.2941" stop-color="#00ff6b"/><stop offset="0.3529" stop-color="#00ff65"/><stop offset="0.4118" stop-color="#00ff5e"/><stop offset="0.4706" stop-color="#00ff57"/><stop offset="0.5294" stop-color="#00ff4e"/><stop offset="0.5882" stop-color="#00ff43"/><stop offset="0.6471" stop-color="#00ff37"/><stop offset="0.7059" stop-color="#25ff25"/><stop offset="0.7647" stop-color="#5bff00"/><stop offset="0.8235" stop-color="#7fff00"/><stop offset="0.8824" stop-color="#9eff00"/><stop offset="0.9412" stop-color="#baff00"/><stop offset="1" stop-color="#d5ff00"/></linearGradient>
<linearGradient id="g78" gradientUnits="userSpaceOnUse" x1="2.2" x2="417.4" y1="0" y2="0"><stop offset="0" stop-color="#00ff80"/><stop offset="0.05882" stop-color="#00ff7c"/><stop offset="0.1176" stop-color="#00ff78"/><stop offset="0.1765" stop-color="#00ff73"/><stop offset="0.2353" stop-color="#00ff6e"/><stop offset="0.2941" stop-color="#00ff68"/><stop offset="0.3529" stop-color="#00ff62"/><stop offset="0.4118" stop-color="#00ff5b"/><stop offset="0.4706" stop-color="#00ff53"/><stop offset="0.5294" stop-color="#00ff4b"/><stop offset="0.5882" stop-color="#00ff40"/><stop offset="0.6471" stop-color="#00ff33"/><stop offset="0.7059" stop-color="#00ff21"/><stop offset="0.7647" stop-color="#4cff00"/><stop offset="0.8235" stop-color="#73ff00"/><stop offset="0.8824" stop-color="#92ff00"/><stop offset="0.9412" stop-color="#afff00"/><stop offset="1" stop-color="#c9ff00"/></linearGradient>
<linearGradient id="g79" gradientUnits="userSpaceOnUse" x1="1.9" x2="409.7" y1="0" y2="0"><stop offset="0" stop-color="#00ff7d"/><stop offset="0.05882" stop-color="#00ff79"/><stop offset="0.1176" stop-color="#00ff75"/><stop offset="0.1765" stop-color="#00ff70"/><stop offset="0.2353" stop-color="#00ff6b"/><stop offset="0.2941" stop-color="#00ff65"/><stop offset="0.3529" stop-color="#00ff5f"/><stop offset="0.4118" stop-color="#00ff58"/><stop offset="0.4706" stop-color="#00ff50"/><stop offset="0.5294" stop-color="#00ff47"/><stop offset="0.5882" stop-color="#00ff3d"/><stop offset="0.6471" stop-color="#00ff30"/><stop offset="0.7059" stop-color="#00ff1d"/><stop offset="0.7647" stop-color="#3cff00"/><stop offset="0.8235" stop-color="#66ff00"/><stop offset="0.8824" stop-color="#86ff00"/><stop offset="0.9412" stop-color="#a3ff00"/><stop offset="1" stop-color="#bdff00"/></linearGradient>
<linearGradient id="g80" gradientUnits="userSpaceOnUse" x1="1.6" x2="402.1" y1="0" y2="0"><stop offset="0" stop-color="#00ff7a"/><stop offset="0.05882" stop-color="#00ff76"/><stop offset="0.1176" stop-color="#00ff72"/><stop offset="0.1765" stop-color="#00ff6d"/><stop offset="0.2353" stop-color="#00ff68"/><stop offset="0.2941" stop-color="#00ff62"/><stop offset="0.3529" stop-color="#00ff5c"/><stop offset="0.4118" stop-color="#00ff55"/><stop offset="0.4706" stop-color="#00ff4d"/><stop offset="0.5294" stop-color="#00ff44"/><stop offset="0.5882" stop-color="#00ff3a"/><stop offset="0.6471" stop-color="#00ff2c"/><stop offset="0.7059" stop-color="#00ff18"/><stop offset="0.7647" stop-color="#27ff00"/><stop offset="0.8235" stop-color="#58ff00"/><stop offset="0.8824" stop-color="#7aff00"/><stop offset="0.9412" stop-color="#97ff00"/><stop offset="1" stop-color="#b1ff00"/></linearGradient>
<linearGradient id="g81" gradientUnits="userSpaceOnUse" x1="1.4" x2="394.4" y1="0" y2="0"><stop offset="0" stop-color="#00ff77"/><stop offset="0.0625" stop-color="#00ff73"/><stop offset="0.125" stop-color="#00ff6e"/><stop offset="0.1875" stop-color="#00ff69"/><stop offset="0.25" stop-color="#00ff64"/><stop offset="0.3125" stop-color="#00ff5d"/><stop offset="0.375" stop-color="#00ff57"/><stop offset="0.4375" stop-color="#00ff4f"/><stop offset="0.5" stop-color="#00ff46"/><stop offset="0.5625" stop-color="#00ff3b"/><stop offset="0.625" stop-color="#00ff2e"/><stop offset="0.6875" stop-color="#00ff1b"/><stop offset="0.75" stop-color="#00ff00"/><stop offset="0.8125" stop-color="#40ff00"/><stop offset="0.875" stop-color="#69ff00"/><stop offset="0.9375" stop-color="#89ff00"/><stop offset="1" stop-color="#a5ff00"/></linearGradient>
<linearGradient id="g82" gradientUnits="userSpaceOnUse" x1="1.1" x2="386.8" y1="0" y2="0"><stop offset="0" stop-color="#00ff74"/><stop offset="0.0625" stop-color="#00ff70"/><stop offset="0.125" stop-color="#00ff6b"/><stop offset="0.1875" stop-color="#00ff66"/><stop offset="0.25" stop-color="#00ff61"/><stop offset="0.3125" stop-color="#00ff5a"/><stop offset="0.375" stop-color="#00ff54"/><stop offset="0.4375" stop-color="#00ff4c"/><stop offset="0.5" stop-color="#00ff43"/><stop offset="0.5625" stop-color="#00ff38"/><stop offset="0.625" stop-color="#00ff2b"/><stop offset="0.6875" stop-color="#00ff16"/><stop offset="0.75" stop-color="#00ff00"/><stop offset="0.8125" stop-color="#2dff00"/><stop offset="0.875" stop-color="#5bff00"/><stop offset="0.9375" stop-color="#7cff00"/><stop offset="1" stop-color="#99ff00"/></linearGradient>
<linearGradient id="g83" gradientUnits="userSpaceOnUse" x1="0.8" x2="379.1" y1="0" y2="0"><stop offset="0" stop-color="#00ff72"/><stop offset="0.0625" stop-color="#00ff6d"/><stop offset="0.125" stop-color="#00ff68"/><stop offset="0.1875" stop-color="#00ff63"/><stop offset="0.25" stop-color="#00ff5e"/><stop offset="0.3125" stop-color="#00ff58"/><stop offset="0.375" stop-color="#00ff51"/><stop offset="0.4375" stop-color="#00ff49"/><stop offset="0.5" stop-color="#00ff40"/><stop offset="0.5625" stop-color="#00ff35"/><stop offset="0.625" stop-color="#00ff27"/><stop offset="0.6875" stop-color="#00ff11"/><stop offset="0.75" stop-color="#00ff00"/><stop offset="0.8125" stop-color="#0dff00"/><stop offset="0.875" stop-color="#4cff00"/><stop offset="0.9375" stop-color="#70ff00"/><stop offset="1" stop-color="#8dff00"/></linearGradient>
<linearGradient id="g84" gradientUnits="userSpaceOnUse" x1="0.5" x2="371.4" y1="0" y2="0"><stop offset="0" stop-color="#00ff6f"/><stop offset="0.06667" stop-color="#00ff6a"/><stop offset="0.1333" stop-color="#00ff65"/><stop offset="0.2" stop-color="#00ff5f"/><stop offset="0.2667" stop-color="#00ff59"/><stop offset="0.3333" stop-color="#00ff52"/><stop offset="0.4" stop-color="#00ff4b"/><stop offset="0.4667" stop-color="#00ff42"/><stop offset="0.5333" stop-color="#00ff37"/><stop offset="0.6" stop-color="#00ff2a"/><stop offset="0.6667" stop-color="#00ff15"/><stop offset="0.7333" stop-color="#00ff00"/><stop offset="0.8" stop-color="#00ff00"/><stop offset="0.8667" stop-color="#34ff00"/><stop offset="0.9333" stop-color="#60ff00"/><stop offset="1" stop-color="#80ff00"/></linearGradient>
<linearGradient id="g85" gradientUnits="userSpaceOnUse" x1="0.3" x2="363.6" y1="0" y2="0"><stop offset="0" stop-color="#00ff6c"/><stop offset="0.06667" stop-color="#00ff67"/><stop offset="0.1333" stop-color="#00ff62"/><stop offset="0.2" stop-color="#00ff5d"/><stop offset="0.2667" stop-color="#00ff56"/><stop offset="0.3333" stop-color="#00ff50"/><stop offset="0.4" stop-color="#00ff48"/><stop offset="0.4667" stop-color="#00ff3f"/><stop offset="0.5333" stop-color="#00ff34"/><stop offset="0.6" stop-color="#00ff26"/><stop offset="0.6667" stop-color="#00ff10"/><stop offset="0.7333" stop-color="#00ff00"/><stop offset="0.8" stop-color="#00ff00"/><stop offset="0.8667" stop-color="#1bff00"/><stop offset="0.9333" stop-color="#51ff00"/><stop offset="1" stop-color="#73ff00"/></linearGradient>
<linearGradient id="g86" gradientUnits="userSpaceOnUse" x1="-0.0" x2="355.8" y1="0" y2="0"><stop offset="0" stop-color="#00ff69"/><stop offset="0.06667" stop-color="#00ff64"/><stop offset="0.1333" stop-color="#00ff5f"/><stop offset="0.2" stop-color="#00ff5a"/><stop offset="0.2667" stop-color="#00ff53"/><stop offset="0.3333" stop-color="#00ff4d"/><stop offset="0.4" stop-color="#00ff45"/><stop offset="0.4667" stop-color="#00ff3c"/><stop offset="0.5333" stop-color="#00ff31"/><stop offset="0.6" stop-color="#00ff23"/><stop offset="0.6667" stop-color="#00ff07"/><stop offset="0.7333" stop-color="#00ff00"/><stop offset="0.8" stop-color="#00ff00"/><stop offset="0.8667" stop-color="#00ff00"/><stop offset="0.9333" stop-color="#40ff00"/><stop offset="1" stop-color="#65ff00"/></linearGradient>
<linearGradient id="g87" gradientUnits="userSpaceOnUse" x1="-0.0" x2="348.0" y1="0" y2="0"><stop offset="0" stop-color="#00ff66"/><stop offset="0.07143" stop-color="#00ff61"/><stop offset="0.1429" stop-color="#00ff5c"/><stop offset="0.2143" stop-color="#00ff55"/><stop offset="0.2857" stop-color="#00ff4f"/><stop offset="0.3571" stop-color="#00ff47"/><stop offset="0.4286" stop-color="#00ff3e"/><stop offset="0.5" stop-color="#00ff33"/><stop offset="0.5714" stop-color="#00ff26"/><stop offset="0.6429" stop-color="#00ff0f"/><stop offset="0.7143" stop-color="#00ff00"/><stop offset="0.7857" stop-color="#00ff00"/><stop offset="0.8571" stop-color="#00ff00"/><stop offset="0.9286" stop-color="#27ff00"/><stop offset="1" stop-color="#56ff00"/></linearGradient>
<linearGradient id="g88" gradientUnits="userSpaceOnUse" x1="0.4" x2="340.1" y1="0" y2="0"><stop offset="0" stop-color="#00ff63"/><stop offset="0.07143" stop-color="#00ff5e"/><stop offset="0.1429" stop-color="#00ff59"/><stop offset="0.2143" stop-color="#00ff52"/><stop offset="0.2857" stop-color="#00ff4c"/><stop offset="0.3571" stop-color="#00ff44"/><stop offset="0.4286" stop-color="#00ff3b"/><stop offset="0.5" stop-color="#00ff30"/><stop offset="0.5714" stop-color="#00ff22"/><stop offset="0.6429" stop-color="#00ff06"/><stop offset="0.7143" stop-color="#00ff00"/><stop offset="0.7857" stop-color="#00ff00"/><stop offset="0.8571" stop-color="#00ff00"/><stop offset="0.9286" stop-color="#00ff00"/><stop offset="1" stop-color="#46ff00"/></linearGradient>
<linearGradient id="g89" gradientUnits="userSpaceOnUse" x1="1.2" x2="332.1" y1="0" y2="0"><stop offset="0" stop-color="#00ff60"/><stop offset="0.07143" stop-color="#00ff5b"/><stop offset="0.1429" stop-color="#00ff55"/><stop offset="0.2143" stop-color="#00ff4f"/><stop offset="0.2857" stop-color="#00ff48"/><stop offset="0.3571" stop-color="#00ff41"/><stop offset="0.4286" stop-color="#00ff38"/><stop offset="0.5" stop-color="#00ff2c"/><stop offset="0.5714" stop-color="#00ff1e"/><stop offset="0.6429" stop-color="#00ff00"/><stop offset="0.7143" stop-color="#00ff00"/><stop offset="0.7857" stop-color="#00ff00"/><stop offset="0.8571" stop-color="#00ff00"/><stop offset="0.9286" stop-color="#00ff00"/><stop offset="1" stop-color="#32ff00"/></linearGradient>
<linearGradient id="g90" gradientUnits="userSpaceOnUse" x1="2.0" x2="324.1" y1="0" y2="0"><stop offset="0" stop-color="#00ff5d"/><stop offset="0.07692" stop-color="#00ff58"/><stop offset="0.1538" stop-color="#00ff51"/><stop offset="0.2308" stop-color="#00ff4b"/><stop offset="0.3077" stop-color="#00ff43"/><stop offset="0.3846" stop-color="#00ff3a"/><stop offset="0.4615" stop-color="#00ff2f"/><stop offset="0.5385" stop-color="#00ff21"/><stop offset="0.6154" stop-color="#00ff05"/><stop offset="0.6923" stop-color="#00ff00"/><stop offset="0.7692" stop-color="#00ff00"/><stop offset="0.8462" stop-color="#00ff00"/><stop offset="0.9231" stop-color="#00ff00"/><stop offset="1" stop-color="#14ff00"/></linearGradient>
<linearGradient id="g91" gradientUnits="userSpaceOnUse" x1="2.8" x2="316.1" y1="0" y2="0"><stop offset="0" stop-color="#00ff5a"/><stop offset="0.07692" stop-color="#00ff54"/><stop offset="0.1538" stop-color="#00ff4e"/><stop offset="0.2308" stop-color="#00ff47"/><stop offset="0.3077" stop-color="#00ff40"/><stop offset="0.3846" stop-color="#00ff37"/><stop offset="0.4615" stop-color="#00ff2c"/><stop offset="0.5385" stop-color="#00ff1d"/><stop offset="0.6154" stop-color="#00ff00"/><stop offset="0.6923" stop-color="#00ff00"/><stop offset="0.7692" stop-color="#00ff00"/><stop offset="0.8462" stop-color="#00ff00"/><stop offset="0.9231" stop-color="#00ff00"/><stop offset="1" stop-color="#00ff00"/></linearGradient>
<linearGradient id="g92" gradientUnits="userSpaceOnUse" x1="3.6" x2="308.1" y1="0" y2="0"><stop offset="0" stop-color="#00ff57"/><stop offset="0.07692" stop-color="#00ff51"/><stop offset="0.1538" stop-color="#00ff4b"/><stop offset="0.2308" stop-color="#00ff44"/><stop offset="0.3077" stop-color="#00ff3c"/><stop offset="0.3846" stop-color="#00ff33"/><stop offset="0.4615" stop-color="#00ff28"/><stop offset="0.5385" stop-color="#00ff18"/><stop offset="0.6154" stop-color="#00ff00"/><stop offset="0.6923" stop-color="#00ff00"/><stop offset="0.7692" stop-color="#00ff00"/><stop offset="0.8462" stop-color="#00ff00"/><stop offset="0.9231" stop-color="#00ff00"/><stop offset="1" stop-color="#00ff00"/></linearGradient>
<linearGradient id="g93" gradientUnits="userSpaceOnUse" x1="4.4" x2="299.8" y1="0" y2="0"><stop offset="0" stop-color="#00ff54"/><stop offset="0.08333" stop-color="#00ff4e"/><stop offset="0.1667" stop-color="#00ff47"/><stop offset="0.25" stop-color="#00ff3f"/><stop offset="0.3333" stop-color="#00ff36"/><stop offset="0.4167" stop-color="#00ff2b"/><stop offset="0.5" stop-color="#00ff1d"/><stop offset="0.5833" stop-color="#00ff00"/><stop offset="0.6667" stop-color="#00ff00"/><stop offset="0.75" stop-color="#00ff00"/><stop offset="0.8333" stop-color="#00ff00"/><stop offset="0.9167" stop-color="#00ff00"/><stop offset="1" stop-color="#00ff00"/></linearGradient>
<linearGradient id="g94" gradientUnits="userSpaceOnUse" x1="5.2" x2="291.4" y1="0" y2="0"><stop offset="0" stop-color="#00ff50"/><stop offset="0.08333" stop-color="#00ff4a"/><stop offset="0.1667" stop-color="#00ff44"/><stop offset="0.25" stop-color="#00ff3c"/><stop offset="0.3333" stop-color="#00ff33"/><stop offset="0.4167" stop-color="#00ff28"/><stop offset="0.5" stop-color="#00ff18"/><stop offset="0.5833" stop-color="#00ff00"/><stop offset="0.6667" stop-color="#00ff00"/><stop offset="0.75" stop-color="#00ff00"/><stop offset="0.8333" stop-color="#00ff00"/><stop offset="0.9167" stop-color="#00ff00"/><stop offset="1" stop-color="#00ff00"/></linearGradient>
<linearGradient id="g95" gradientUnits="userSpaceOnUse" x1="5.9" x2="283.0" y1="0" y2="0"><stop offset="0" stop-color="#00ff4d"/><stop offset="0.08333" stop-color="#00ff47"/><stop offset="0.1667" stop-color="#00ff40"/><stop offset="0.25" stop-color="#00ff38"/><stop offset="0.3333" stop-color="#00ff2f"/><stop offset="0.4167" stop-color="#00ff24"/><stop offset="0.5" stop-color="#00ff12"/><stop offset="0.5833" stop-color="#00ff00"/><stop offset="0.6667" stop-color="#00ff00"/><stop offset="0.75" stop-color="#00ff00"/><stop offset="0.8333" stop-color="#00ff00"/><stop offset="0.9167" stop-color="#00ff00"/><stop offset="1" stop-color="#00ff00"/></linearGradient>
<linearGradient id="g96" gradientUnits="userSpaceOnUse" x1="6.7" x2="274.6" y1="0" y2="0"><stop offset="0" stop-color="#00ff4a"/><stop offset="0.09091" stop-color="#00ff43"/><stop offset="0.1818" stop-color="#00ff3b"/><stop offset="0.2727" stop-color="#00ff33"/><stop offset="0.3636" stop-color="#00ff27"/><stop offset="0.4545" stop-color="#00ff18"/><stop offset="0.5455" stop-color="#00ff00"/><stop offset="0.6364" stop-color="#00ff00"/><stop offset="0.7273" stop-color="#00ff00"/><stop offset="0.8182" stop-color="#00ff00"/><stop offset="0.9091" stop-color="#00ff00"/><stop offset="1" stop-color="#00ff00"/></linearGradient>
<linearGradient id="g97" gradientUnits="userSpaceOnUse" x1="7.5" x2="265.9" y1="0" y2="0"><stop offset="0" stop-color="#00ff46"/><stop offset="0.09091" stop-color="#00ff40"/><stop offset="0.1818" stop-color="#00ff38"/><stop offset="0.2727" stop-color="#00ff2f"/><stop offset="0.3636" stop-color="#00ff23"/><stop offset="0.4545" stop-color="#00ff12"/><stop offset="0.5455" stop-color="#00ff00"/><stop offset="0.6364" stop-color="#00ff00"/><stop offset="0.7273" stop-color="#00ff00"/><stop offset="0.8182" stop-color="#00ff00"/><stop offset="0.9091" stop-color="#00ff00"/><stop offset="1" stop-color="#00ff00"/></linearGradient>
<linearGradient id="g98" gradientUnits="userSpaceOnUse" x1="8.3" x2="256.9" y1="0" y2="0"><stop offset="0" stop-color="#00ff43"/><stop offset="0.1" stop-color="#00ff3b"/><stop offset="0.2" stop-color="#00ff33"/><stop offset="0.3" stop-color="#00ff28"/><stop offset="0.4" stop-color="#00ff19"/><stop offset="0.5" stop-color="#00ff00"/><stop offset="0.6" stop-color="#00ff00"/><stop offset="0.7" stop-color="#00ff00"/><stop offset="0.8" stop-color="#00ff00"/><stop offset="0.9" stop-color="#00ff00"/><stop offset="1" stop-color="#00ff00"/></linearGradient>
<linearGradient id="g99" gradientUnits="userSpaceOnUse" x1="9.1" x2="247.8" y1="0" y2="0"><stop offset="0" stop-color="#00ff3f"/><stop offset="0.1" stop-color="#00ff38"/><stop offset="0.2" stop-color="#00ff2f"/><stop offset="0.3" stop-color="#00ff24"/><stop offset="0.4" stop-color="#00ff14"/><stop offset="0.5" stop-color="#00ff00"/><stop offset="0.6" stop-color="#00ff00"/><stop offset="0.7" stop-color="#00ff00"/><stop offset="0.8" stop-color="#00ff00"/><stop offset="0.9" stop-color="#00ff00"/><stop offset="1" stop-color="#00ff00"/></linearGradient>
<linearGradient id="g100" gradientUnits="userSpaceOnUse" x1="9.9" x2="238.8" y1="0" y2="0"><stop offset="0" stop-color="#00ff3c"/><stop offset="0.1" stop-color="#00ff34"/><stop offset="0.2" stop-color="#00ff2b"/><stop offset="0.3" stop-color="#00ff1f"/><stop offset="0.4" stop-color="#00ff0c"/><stop offset="0.5" stop-color="#00ff00"/><stop offset="0.6" stop-color="#00ff00"/><stop offset="0.7" stop-color="#00ff00"/><stop offset="0.8" stop-color="#00ff00"/><stop offset="0.9" stop-color="#00ff00"/><stop offset="1" stop-color="#00ff00"/></linearGradient>
<linearGradient id="g101" gradientUnits="userSpaceOnUse" x1="12.9" x2="229.3" y1="0" y2="0"><stop offset="0" stop-color="#00ff37"/><stop offset="0.1111" stop-color="#00ff2e"/><stop offset="0.2222" stop-color="#00ff24"/><stop offset="0.3333" stop-color="#00ff14"/><stop offset="0.4444" stop-color="#00ff00"/><stop offset="0.5556" stop-color="#00ff00"/><stop offset="0.6667" stop-color="#00ff00"/><stop offset="0.7778" stop-color="#00ff00"/><stop offset="0.8889" stop-color="#00ff00"/><stop offset="1" stop-color="#00ff00"/></linearGradient>
<linearGradient id="g102" gradientUnits="userSpaceOnUse" x1="15.9" x2="219.2" y1="0" y2="0"><stop offset="0" stop-color="#00ff32"/><stop offset="0.1111" stop-color="#00ff29"/><stop offset="0.2222" stop-color="#00ff1e"/><stop offset="0.3333" stop-color="#00ff0b"/><stop offset="0.4444" stop-color="#00ff00"/><stop offset="0.5556" stop-color="#00ff00"/><stop offset="0.6667" stop-color="#00ff00"/><stop offset="0.7778" stop-color="#00ff00"/><stop offset="0.8889" stop-color="#00ff00"/><stop offset="1" stop-color="#00ff00"/></linearGradient>
<linearGradient id="g103" gradientUnits="userSpaceOnUse" x1="18.9" x2="209.1" y1="0" y2="0"><stop offset="0" stop-color="#00ff2d"/><stop offset="0.125" stop-color="#00ff23"/><stop offset="0.25" stop-color="#00ff13"/><stop offset="0.375" stop-color="#00ff00"/><stop offset="0.5" stop-color="#00ff00"/><stop offset="0.625" stop-color="#00ff00"/><stop offset="0.75" stop-color="#00ff00"/><stop offset="0.875" stop-color="#00ff00"/><stop offset="1" stop-color="#00ff00"/></linearGradient>
<linearGradient id="g104" gradientUnits="userSpaceOnUse" x1="22.0" x2="199.1" y1="0" y2="0"><stop offset="0" stop-color="#00ff28"/><stop offset="0.125" stop-color="#00ff1c"/><stop offset="0.25" stop-color="#00ff08"/><stop offset="0.375" stop-color="#00ff00"/><stop offset="0.5" stop-color="#00ff00"/><stop offset="0.625" stop-color="#00ff00"/><stop offset="0.75" stop-color="#00ff00"/><stop offset="0.875" stop-color="#00ff00"/><stop offset="1" stop-color="#00ff00"/></linearGradient>
<linearGradient id="g105" gradientUnits="userSpaceOnUse" x1="25.0" x2="187.6" y1="0" y2="0"><stop offset="0" stop-color="#00ff21"/><stop offset="0.1429" stop-color="#00ff12"/><stop offset="0.2857" stop-color="#00ff00"/><stop offset="0.4286" stop-color="#00ff00"/><stop offset="0.5714" stop-color="#00ff00"/><stop offset="0.7143" stop-color="#00ff00"/><stop offset="0.8571" stop-color="#00ff00"/><stop offset="1" stop-color="#00ff00"/></linearGradient>
<linearGradient id="g106" gradientUnits="userSpaceOnUse" x1="28.0" x2="175.8" y1="0" y2="0"><stop offset="0" stop-color="#00ff1a"/><stop offset="0.1667" stop-color="#00ff00"/><stop offset="0.3333" stop-color="#00ff00"/><stop offset="0.5" stop-color="#00ff00"/><stop offset="0.6667" stop-color="#00ff00"/><stop offset="0.8333" stop-color="#00ff00"/><stop offset="1" stop-color="#00ff00"/></linearGradient>
<linearGradient id="g107" gradientUnits="userSpaceOnUse" x1="31.1" x2="164.0" y1="0" y2="0"><stop offset="0" stop-color="#00ff10"/><stop offset="0.1667" stop-color="#00ff00"/><stop offset="0.3333" stop-color="#00ff00"/><stop offset="0.5" stop-color="#00ff00"/><stop offset="0.6667" stop-color="#00ff00"/><stop offset="0.8333" stop-color="#00ff00"/><stop offset="1" stop-color="#00ff00"/></linearGradient>
<linearGradient id="g108" gradientUnits="userSpaceOnUse" x1="34.1" x2="150.5" y1="0" y2="0"><stop offset="0" stop-color="#00ff00"/><stop offset="0.2" stop-color="#00ff00"/><stop offset="0.4" stop-color="#00ff00"/><stop offset="0.6" stop-color="#00ff00"/><stop offset="0.8" stop-color="#00ff00"/><stop offset="1" stop-color="#00ff00"/></linearGradient>
<linearGradient id="g109" gradientUnits="userSpaceOnUse" x1="43.8" x2="135.6" y1="0" y2="0"><stop offset="0" stop-color="#00ff00"/><stop offset="0.25" stop-color="#00ff00"/><stop offset="0.5" stop-color="#00ff00"/><stop offset="0.75" stop-color="#00ff00"/><stop offset="1" stop-color="#00ff00"/></linearGradient>
<linearGradient id="g110" gradientUnits="userSpaceOnUse" x1="56.0" x2="120.6" y1="0" y2="0"><stop offset="0" stop-color="#00ff00"/><stop offset="0.3333" stop-color="#00ff00"/><stop offset="0.6667" stop-color="#00ff00"/><stop offset="1" stop-color="#00ff00"/></linearGradient>
<linearGradient id="g111" gradientUnits="userSpaceOnUse" x1="68.2" x2="85.1" y1="0" y2="0"><stop offset="0" stop-color="#00ff00"/><stop offset="1" stop-color="#00ff00"/></linearGradient>
<clipPath id="lc"><path d="M173.8 -4.9 C173.8 -4.9 173.7 -4.9 173.6 -4.9 C173.5 -4.9 173.4 -4.8 173.3 -4.8 C173.2 -4.8 173.1 -4.8 173.0 -4.8 C172.9 -4.8 172.8 -4.8 172.6 -4.8 C172.4 -4.8 172.3 -4.8 172.1 -4.8 C171.9 -4.8 171.7 -4.9 171.4 -5.1 C171.1 -5.3 170.7 -5.5 170.3 -5.8 C169.9 -6.1 169.5 -6.4 168.9 -6.9 C168.3 -7.4 167.7 -7.9 166.9 -8.6 C166.2 -9.3 165.4 -10.0 164.4 -10.9 C163.4 -11.8 162.4 -12.7 161.1 -13.8 C159.8 -14.9 158.3 -16.2 156.6 -17.7 C154.9 -19.2 153.1 -20.7 151.0 -22.7 C148.9 -24.7 146.6 -26.8 144.0 -29.7 C141.4 -32.6 138.8 -35.2 135.5 -39.9 C132.2 -44.6 128.4 -50.0 124.1 -57.8 C119.8 -65.6 115.1 -74.3 109.6 -86.8 C104.1 -99.3 98.1 -113.7 91.3 -132.7 C84.5 -151.7 76.4 -173.6 68.7 -200.7 C61.1 -227.8 52.9 -259.7 45.4 -295.0 C37.9 -330.3 29.7 -372.1 23.5 -412.7 C17.3 -453.3 11.5 -498.0 8.2 -538.4 C4.9 -578.8 3.0 -619.5 3.9 -654.8 C4.8 -690.1 8.1 -724.0 13.9 -750.2 C19.7 -776.4 28.8 -798.1 38.9 -812.0 C49.0 -825.9 61.8 -831.4 74.3 -833.8 C86.9 -836.2 100.8 -830.9 114.2 -826.2 C127.6 -821.6 141.6 -813.3 154.7 -805.9 C167.8 -798.5 180.4 -790.2 192.9 -781.6 C205.4 -773.0 217.4 -763.8 229.6 -754.3 C241.8 -744.8 253.8 -734.6 265.8 -724.3 C277.8 -714.0 289.7 -703.2 301.6 -692.3 C313.5 -681.4 325.4 -670.2 337.3 -658.9 C349.2 -647.6 361.2 -636.0 373.1 -624.5 C385.0 -613.0 396.9 -601.2 408.7 -589.6 C420.5 -578.0 432.4 -566.3 444.1 -554.7 C455.8 -543.1 467.4 -531.6 478.8 -520.2 C490.2 -508.9 501.5 -497.6 512.5 -486.6 C523.5 -475.6 534.3 -464.8 544.8 -454.4 C555.2 -444.0 565.5 -433.9 575.2 -424.2 C584.9 -414.6 594.3 -405.1 602.9 -396.5 C611.5 -387.9 619.5 -380.0 627.0 -372.5 C634.5 -365.0 641.7 -357.8 648.2 -351.4 C654.7 -345.0 660.5 -339.3 665.8 -334.0 C671.1 -328.7 675.8 -324.0 680.1 -319.7 C684.4 -315.4 688.1 -311.7 691.5 -308.3 C694.9 -304.9 697.9 -302.0 700.6 -299.3 C703.3 -296.6 705.7 -294.2 707.9 -292.0 C710.1 -289.8 712.1 -287.8 714.0 -285.9 C715.9 -284.0 717.5 -282.4 719.0 -280.9 C720.5 -279.4 721.8 -278.1 723.0 -277.0 C724.2 -275.9 725.1 -274.9 726.0 -274.0 C726.9 -273.1 727.6 -272.4 728.3 -271.7 C729.0 -271.0 729.5 -270.5 730.0 -270.0 C730.5 -269.5 730.8 -269.2 731.1 -268.9 C731.4 -268.6 731.7 -268.3 732.0 -268.0 C732.3 -267.7 732.5 -267.5 732.7 -267.3 C732.9 -267.1 733.2 -266.8 733.4 -266.6 C733.6 -266.4 733.8 -266.2 734.0 -266.0 C734.2 -265.8 734.3 -265.7 734.4 -265.6 C734.5 -265.5 734.6 -265.5 734.6 -265.4 C734.6 -265.4 734.7 -265.3 734.7 -265.3 Z"/></clipPath>
<g id="cie"><g clip-path="url(#lc)"><rect x="134.2" y="-15.0" width="79.2" height="15.0" fill="url(#g0)"/>
<rect x="125.7" y="-22.5" width="103.8" height="15.0" fill="url(#g1)"/>
<rect x="117.2" y="-30.0" width="128.5" height="15.0" fill="url(#g2)"/>
<rect x="109.7" y="-37.5" width="152.1" height="15.0" fill="url(#g3)"/>
<rect x="103.5" y="-45.0" width="174.5" height="15.0" fill="url(#g4)"/>
<rect x="98.3" y="-52.5" width="195.9" height="15.0" fill="url(#g5)"/>
<rect x="93.5" y="-60.0" width="216.9" height="15.0" fill="url(#g6)"/>
<rect x="89.0" y="-67.5" width="237.5" height="15.0" fill="url(#g7)"/>
<rect x="85.2" y="-75.0" width="257.4" height="15.0" fill="url(#g8)"/>
<rect x="81.5" y="-82.5" width="277.3" height="15.0" fill="url(#g9)"/>
<rect x="77.7" y="-90.0" width="297.2" height="15.0" fill="url(#g10)"/>
<rect x="74.3" y="-97.5" width="316.8" height="15.0" fill="url(#g11)"/>
<rect x="71.3" y="-105.0" width="335.9" height="15.0" fill="url(#g12)"/>
<rect x="68.3" y="-112.5" width="355.1" height="15.0" fill="url(#g13)"/>
<rect x="65.4" y="-120.0" width="374.2" height="15.0" fill="url(#g14)"/>
<rect x="62.4" y="-127.5" width="393.4" height="15.0" fill="url(#g15)"/>
<rect x="59.4" y="-135.0" width="412.5" height="15.0" fill="url(#g16)"/>
<rect x="56.5" y="-142.5" width="431.5" height="15.0" fill="url(#g17)"/>
<rect x="54.0" y="-150.0" width="450.1" height="15.0" fill="url(#g18)"/>
<rect x="51.6" y="-157.5" width="468.8" height="15.0" fill="url(#g19)"/>
<rect x="49.1" y="-165.0" width="487.4" height="15.0" fill="url(#g20)"/>
<rect x="46.6" y="-172.5" width="506.1" height="15.0" fill="url(#g21)"/>
<rect x="44.1" y="-180.0" width="524.7" height="15.0" fill="url(#g22)"/>
<rect x="41.6" y="-187.5" width="543.4" height="15.0" fill="url(#g23)"/>
<rect x="39.1" y="-195.0" width="562.0" height="15.0" fill="url(#g24)"/>
<rect x="36.6" y="-202.5" width="580.7" height="15.0" fill="url(#g25)"/>
<rect x="34.3" y="-210.0" width="599.2" height="15.0" fill="url(#g26)"/>
<rect x="32.4" y="-217.5" width="617.2" height="15.0" fill="url(#g27)"/>
<rect x="30.5" y="-225.0" width="635.2" height="15.0" fill="url(#g28)"/>
<rect x="28.7" y="-232.5" width="653.2" height="15.0" fill="url(#g29)"/>
<rect x="26.8" y="-240.0" width="671.2" height="15.0" fill="url(#g30)"/>
<rect x="25.0" y="-247.5" width="689.2" height="15.0" fill="url(#g31)"/>
<rect x="23.1" y="-255.0" width="707.2" height="15.0" fill="url(#g32)"/>
<rect x="21.3" y="-262.5" width="725.2" height="15.0" fill="url(#g33)"/>
<rect x="19.4" y="-270.0" width="743.2" height="15.0" fill="url(#g34)"/>
<rect x="17.6" y="-277.5" width="750.2" height="15.0" fill="url(#g35)"/>
<rect x="15.7" y="-285.0" width="748.3" height="15.0" fill="url(#g36)"/>
<rect x="13.9" y="-292.5" width="742.6" height="15.0" fill="url(#g37)"/>
<rect x="12.0" y="-300.0" width="736.9" height="15.0" fill="url(#g38)"/>
<rect x="10.5" y="-307.5" width="730.9" height="15.0" fill="url(#g39)"/>
<rect x="9.1" y="-315.0" width="724.8" height="15.0" fill="url(#g40)"/>
<rect x="7.7" y="-322.5" width="718.6" height="15.0" fill="url(#g41)"/>
<rect x="6.3" y="-330.0" width="712.5" height="15.0" fill="url(#g42)"/>
<rect x="4.9" y="-337.5" width="706.4" height="15.0" fill="url(#g43)"/>
<rect x="3.5" y="-345.0" width="700.3" height="15.0" fill="url(#g44)"/>
<rect x="2.1" y="-352.5" width="694.2" height="15.0" fill="url(#g45)"/>
<rect x="0.7" y="-360.0" width="688.0" height="15.0" fill="url(#g46)"/>
<rect x="-0.7" y="-367.5" width="681.8" height="15.0" fill="url(#g47)"/>
<rect x="-2.1" y="-375.0" width="675.6" height="15.0" fill="url(#g48)"/>
<rect x="-3.5" y="-382.5" width="669.5" height="15.0" fill="url(#g49)"/>
<rect x="-4.9" y="-390.0" width="663.4" height="15.0" fill="url(#g50)"/>
<rect x="-6.3" y="-397.5" width="657.2" height="15.0" fill="url(#g51)"/>
<rect x="-7.7" y="-405.0" width="651.1" height="15.0" fill="url(#g52)"/>
<rect x="-9.1" y="-412.5" width="645.0" height="15.0" fill="url(#g53)"/>
<rect x="-10.5" y="-420.0" width="638.9" height="15.0" fill="url(#g54)"/>
<rect x="-11.4" y="-427.5" width="632.3" height="15.0" fill="url(#g55)"/>
<rect x="-12.3" y="-435.0" width="625.7" height="15.0" fill="url(#g56)"/>
<rect x="-13.2" y="-442.5" width="619.1" height="15.0" fill="url(#g57)"/>
<rect x="-14.1" y="-450.0" width="612.5" height="15.0" fill="url(#g58)"/>
<rect x="-15.0" y="-457.5" width="605.8" height="15.0" fill="url(#g59)"/>
<rect x="-16.0" y="-465.0" width="599.2" height="15.0" fill="url(#g60)"/>
<rect x="-16.9" y="-472.5" width="592.6" height="15.0" fill="url(#g61)"/>
<rect x="-17.8" y="-480.0" width="585.9" height="15.0" fill="url(#g62)"/>
<rect x="-18.7" y="-487.5" width="579.3" height="15.0" fill="url(#g63)"/>
<rect x="-19.6" y="-495.0" width="572.7" height="15.0" fill="url(#g64)"/>
<rect x="-20.5" y="-502.5" width="566.1" height="15.0" fill="url(#g65)"/>
<rect x="-21.4" y="-510.0" width="559.5" height="15.0" fill="url(#g66)"/>
<rect x="-22.3" y="-517.5" width="552.9" height="15.0" fill="url(#g67)"/>
<rect x="-23.3" y="-525.0" width="546.3" height="15.0" fill="url(#g68)"/>
<rect x="-24.2" y="-532.5" width="539.7" height="15.0" fill="url(#g69)"/>
<rect x="-25.1" y="-540.0" width="533.1" height="15.0" fill="url(#g70)"/>
<rect x="-25.9" y="-547.5" width="526.3" height="15.0" fill="url(#g71)"/>
<rect x="-26.1" y="-555.0" width="519.0" height="15.0" fill="url(#g72)"/>
<rect x="-26.4" y="-562.5" width="511.8" height="15.0" fill="url(#g73)"/>
<rect x="-26.7" y="-570.0" width="504.5" height="15.0" fill="url(#g74)"/>
<rect x="-27.0" y="-577.5" width="497.2" height="15.0" fill="url(#g75)"/>
<rect x="-27.2" y="-585.0" width="489.8" height="15.0" fill="url(#g76)"/>
<rect x="-27.5" y="-592.5" width="482.5" height="15.0" fill="url(#g77)"/>
<rect x="-27.8" y="-600.0" width="475.2" height="15.0" fill="url(#g78)"/>
<rect x="-28.1" y="-607.5" width="467.8" height="15.0" fill="url(#g79)"/>
<rect x="-28.4" y="-615.0" width="460.4" height="15.0" fill="url(#g80)"/>
<rect x="-28.6" y="-622.5" width="453.1" height="15.0" fill="url(#g81)"/>
<rect x="-28.9" y="-630.0" width="445.7" height="15.0" fill="url(#g82)"/>
<rect x="-29.2" y="-637.5" width="438.3" height="15.0" fill="url(#g83)"/>
<rect x="-29.5" y="-645.0" width="430.8" height="15.0" fill="url(#g84)"/>
<rect x="-29.7" y="-652.5" width="423.3" height="15.0" fill="url(#g85)"/>
<rect x="-30.0" y="-660.0" width="415.8" height="15.0" fill="url(#g86)"/>
<rect x="-30.0" y="-667.5" width="408.0" height="15.0" fill="url(#g87)"/>
<rect x="-29.6" y="-675.0" width="399.7" height="15.0" fill="url(#g88)"/>
<rect x="-28.8" y="-682.5" width="390.9" height="15.0" fill="url(#g89)"/>
<rect x="-28.0" y="-690.0" width="382.1" height="15.0" fill="url(#g90)"/>
<rect x="-27.2" y="-697.5" width="373.3" height="15.0" fill="url(#g91)"/>
<rect x="-26.4" y="-705.0" width="364.5" height="15.0" fill="url(#g92)"/>
<rect x="-25.6" y="-712.5" width="355.4" height="15.0" fill="url(#g93)"/>
<rect x="-24.8" y="-720.0" width="346.2" height="15.0" fill="url(#g94)"/>
<rect x="-24.1" y="-727.5" width="337.1" height="15.0" fill="url(#g95)"/>
<rect x="-23.3" y="-735.0" width="327.9" height="15.0" fill="url(#g96)"/>
<rect x="-22.5" y="-742.5" width="318.4" height="15.0" fill="url(#g97)"/>
<rect x="-21.7" y="-750.0" width="308.6" height="15.0" fill="url(#g98)"/>
<rect x="-20.9" y="-757.5" width="298.7" height="15.0" fill="url(#g99)"/>
<rect x="-20.1" y="-765.0" width="288.9" height="15.0" fill="url(#g100)"/>
<rect x="-17.1" y="-772.5" width="276.4" height="15.0" fill="url(#g101)"/>
<rect x="-14.1" y="-780.0" width="263.3" height="15.0" fill="url(#g102)"/>
<rect x="-11.1" y="-787.5" width="250.2" height="15.0" fill="url(#g103)"/>
<rect x="-8.0" y="-795.0" width="237.1" height="15.0" fill="url(#g104)"/>
<rect x="-5.0" y="-802.5" width="222.6" height="15.0" fill="url(#g105)"/>
<rect x="-2.0" y="-810.0" width="207.8" height="15.0" fill="url(#g106)"/>
<rect x="1.1" y="-817.5" width="193.0" height="15.0" fill="url(#g107)"/>
<rect x="4.1" y="-825.0" width="176.4" height="15.0" fill="url(#g108)"/>
<rect x="13.8" y="-832.5" width="151.7" height="15.0" fill="url(#g109)"/>
<rect x="26.0" y="-840.0" width="124.6" height="15.0" fill="url(#g110)"/>
<rect x="38.2" y="-847.5" width="76.9" height="15.0" fill="url(#g111)"/></g><path d="M173.8 -4.9 C173.8 -4.9 173.7 -4.9 173.6 -4.9 C173.5 -4.9 173.4 -4.8 173.3 -4.8 C173.2 -4.8 173.1 -4.8 173.0 -4.8 C172.9 -4.8 172.8 -4.8 172.6 -4.8 C172.4 -4.8 172.3 -4.8 172.1 -4.8 C171.9 -4.8 171.7 -4.9 171.4 -5.1 C171.1 -5.3 170.7 -5.5 170.3 -5.8 C169.9 -6.1 169.5 -6.4 168.9 -6.9 C168.3 -7.4 167.7 -7.9 166.9 -8.6 C166.2 -9.3 165.4 -10.0 164.4 -10.9 C163.4 -11.8 162.4 -12.7 161.1 -13.8 C159.8 -14.9 158.3 -16.2 156.6 -17.7 C154.9 -19.2 153.1 -20.7 151.0 -22.7 C148.9 -24.7 146.6 -26.8 144.0 -29.7 C141.4 -32.6 138.8 -35.2 135.5 -39.9 C132.2 -44.6 128.4 -50.0 124.1 -57.8 C119.8 -65.6 115.1 -74.3 109.6 -86.8 C104.1 -99.3 98.1 -113.7 91.3 -132.7 C84.5 -151.7 76.4 -173.6 68.7 -200.7 C61.1 -227.8 52.9 -259.7 45.4 -295.0 C37.9 -330.3 29.7 -372.1 23.5 -412.7 C17.3 -453.3 11.5 -498.0 8.2 -538.4 C4.9 -578.8 3.0 -619.5 3.9 -654.8 C4.8 -690.1 8.1 -724.0 13.9 -750.2 C19.7 -776.4 28.8 -798.1 38.9 -812.0 C49.0 -825.9 61.8 -831.4 74.3 -833.8 C86.9 -836.2 100.8 -830.9 114.2 -826.2 C127.6 -821.6 141.6 -813.3 154.7 -805.9 C167.8 -798.5 180.4 -790.2 192.9 -781.6 C205.4 -773.0 217.4 -763.8 229.6 -754.3 C241.8 -744.8 253.8 -734.6 265.8 -724.3 C277.8 -714.0 289.7 -703.2 301.6 -692.3 C313.5 -681.4 325.4 -670.2 337.3 -658.9 C349.2 -647.6 361.2 -636.0 373.1 -624.5 C385.0 -613.0 396.9 -601.2 408.7 -589.6 C420.5 -578.0 432.4 -566.3 444.1 -554.7 C455.8 -543.1 467.4 -531.6 478.8 -520.2 C490.2 -508.9 501.5 -497.6 512.5 -486.6 C523.5 -475.6 534.3 -464.8 544.8 -454.4 C555.2 -444.0 565.5 -433.9 575.2 -424.2 C584.9 -414.6 594.3 -405.1 602.9 -396.5 C611.5 -387.9 619.5 -380.0 627.0 -372.5 C634.5 -365.0 641.7 -357.8 648.2 -351.4 C654.7 -345.0 660.5 -339.3 665.8 -334.0 C671.1 -328.7 675.8 -324.0 680.1 -319.7 C684.4 -315.4 688.1 -311.7 691.5 -308.3 C694.9 -304.9 697.9 -302.0 700.6 -299.3 C703.3 -296.6 705.7 -294.2 707.9 -292.0 C710.1 -289.8 712.1 -287.8 714.0 -285.9 C715.9 -284.0 717.5 -282.4 719.0 -280.9 C720.5 -279.4 721.8 -278.1 723.0 -277.0 C724.2 -275.9 725.1 -274.9 726.0 -274.0 C726.9 -273.1 727.6 -272.4 728.3 -271.7 C729.0 -271.0 729.5 -270.5 730.0 -270.0 C730.5 -269.5 730.8 -269.2 731.1 -268.9 C731.4 -268.6 731.7 -268.3 732.0 -268.0 C732.3 -267.7 732.5 -267.5 732.7 -267.3 C732.9 -267.1 733.2 -266.8 733.4 -266.6 C733.6 -266.4 733.8 -266.2 734.0 -266.0 C734.2 -265.8 734.3 -265.7 734.4 -265.6 C734.5 -265.5 734.6 -265.5 734.6 -265.4 C734.6 -265.4 734.7 -265.3 734.7 -265.3 Z" fill="none" stroke="#000" stroke-width="2.9" stroke-linejoin="round"/></g>
<path id="star" d="M0.000 -1.000 L0.247 -0.340 L0.951 -0.309 L0.399 0.130 L0.588 0.809 L0.000 0.420 L-0.588 0.809 L-0.399 0.130 L-0.951 -0.309 L-0.247 -0.340 Z"/>
</defs>
<rect width="749" height="576" fill="#fff"/>
<rect x="68.2" y="70.2" width="285.1" height="110.7" fill="#000"/>
<rect x="73.55" y="73.25" width="7.90" height="7.90" fill="#E040C8"/>
<rect x="73.55" y="88.88" width="7.90" height="7.90" fill="#F04898"/>
<rect x="73.55" y="104.51" width="7.90" height="7.90" fill="#F84C80"/>
<rect x="73.55" y="120.14" width="7.90" height="7.90" fill="#EC5090"/>
<rect x="73.55" y="135.77" width="7.90" height="7.90" fill="#D850C0"/>
<rect x="73.55" y="151.40" width="7.90" height="7.90" fill="#B848D8"/>
<rect x="73.55" y="167.03" width="7.90" height="7.90" fill="#9840E0"/>
<rect x="89.30" y="73.25" width="7.90" height="7.90" fill="#40A8B0"/>
<rect x="89.30" y="88.88" width="7.90" height="7.90" fill="#68A8A0"/>
<rect x="89.30" y="104.51" width="7.90" height="7.90" fill="#A8A898"/>
<rect x="89.30" y="120.14" width="7.90" height="7.90" fill="#C080A0"/>
<rect x="89.30" y="135.77" width="7.90" height="7.90" fill="#B858C8"/>
<rect x="89.30" y="151.40" width="7.90" height="7.90" fill="#A828E0"/>
<rect x="89.30" y="167.03" width="7.90" height="7.90" fill="#9818E8"/>
<rect x="105.05" y="73.25" width="7.90" height="7.90" fill="#18D888"/>
<rect x="105.05" y="88.88" width="7.90" height="7.90" fill="#18D888"/>
<rect x="105.05" y="104.51" width="7.90" height="7.90" fill="#18D490"/>
<rect x="105.05" y="120.14" width="7.90" height="7.90" fill="#18C8A0"/>
<rect x="105.05" y="135.77" width="7.90" height="7.90" fill="#18B8B8"/>
<rect x="105.05" y="151.40" width="7.90" height="7.90" fill="#18A8C8"/>
<rect x="105.05" y="167.03" width="7.90" height="7.90" fill="#1890D8"/>
<rect x="120.80" y="73.25" width="7.90" height="7.90" fill="#28E050"/>
<rect x="120.80" y="88.88" width="7.90" height="7.90" fill="#20E050"/>
<rect x="120.80" y="104.51" width="7.90" height="7.90" fill="#20D860"/>
<rect x="120.80" y="120.14" width="7.90" height="7.90" fill="#20D070"/>
<rect x="120.80" y="135.77" width="7.90" height="7.90" fill="#20D080"/>
<rect x="120.80" y="151.40" width="7.90" height="7.90" fill="#20C890"/>
<rect x="120.80" y="167.03" width="7.90" height="7.90" fill="#20C0A0"/>
<rect x="136.55" y="73.25" width="7.90" height="7.90" fill="#A0DC18"/>
<rect x="136.55" y="88.88" width="7.90" height="7.90" fill="#98D828"/>
<rect x="136.55" y="104.51" width="7.90" height="7.90" fill="#98D438"/>
<rect x="136.55" y="120.14" width="7.90" height="7.90" fill="#98D048"/>
<rect x="136.55" y="135.77" width="7.90" height="7.90" fill="#98D058"/>
<rect x="136.55" y="151.40" width="7.90" height="7.90" fill="#98D060"/>
<rect x="136.55" y="167.03" width="7.90" height="7.90" fill="#98D060"/>
<rect x="152.30" y="73.25" width="7.90" height="7.90" fill="#E8C010"/>
<rect x="152.30" y="88.88" width="7.90" height="7.90" fill="#E8C010"/>
<rect x="152.30" y="104.51" width="7.90" height="7.90" fill="#E4C018"/>
<rect x="152.30" y="120.14" width="7.90" height="7.90" fill="#E4BC28"/>
<rect x="152.30" y="135.77" width="7.90" height="7.90" fill="#E4B830"/>
<rect x="152.30" y="151.40" width="7.90" height="7.90" fill="#E4B430"/>
<rect x="152.30" y="167.03" width="7.90" height="7.90" fill="#E4B830"/>
<rect x="168.05" y="73.25" width="7.90" height="7.90" fill="#FCA810"/>
<rect x="168.05" y="88.88" width="7.90" height="7.90" fill="#FCA410"/>
<rect x="168.05" y="104.51" width="7.90" height="7.90" fill="#FCA410"/>
<rect x="168.05" y="120.14" width="7.90" height="7.90" fill="#FCA010"/>
<rect x="168.05" y="135.77" width="7.90" height="7.90" fill="#FCA010"/>
<rect x="168.05" y="151.40" width="7.90" height="7.90" fill="#FCA018"/>
<rect x="168.05" y="167.03" width="7.90" height="7.90" fill="#FCA018"/>
<rect x="183.80" y="73.25" width="7.90" height="7.90" fill="#FC8C10"/>
<rect x="183.80" y="88.88" width="7.90" height="7.90" fill="#FC8810"/>
<rect x="183.80" y="104.51" width="7.90" height="7.90" fill="#FC8810"/>
<rect x="183.80" y="120.14" width="7.90" height="7.90" fill="#FC8810"/>
<rect x="183.80" y="135.77" width="7.90" height="7.90" fill="#FC8410"/>
<rect x="183.80" y="151.40" width="7.90" height="7.90" fill="#FC8410"/>
<rect x="183.80" y="167.03" width="7.90" height="7.90" fill="#FC8010"/>
<rect x="199.55" y="73.25" width="7.90" height="7.90" fill="#FC7028"/>
<rect x="199.55" y="88.88" width="7.90" height="7.90" fill="#FC7028"/>
<rect x="199.55" y="104.51" width="7.90" height="7.90" fill="#FC7020"/>
<rect x="199.55" y="120.14" width="7.90" height="7.90" fill="#FC7018"/>
<rect x="199.55" y="135.77" width="7.90" height="7.90" fill="#FC6C18"/>
<rect x="199.55" y="151.40" width="7.90" height="7.90" fill="#FC6810"/>
<rect x="199.55" y="167.03" width="7.90" height="7.90" fill="#FC6810"/>
<rect x="215.30" y="73.25" width="7.90" height="7.90" fill="#F85838"/>
<rect x="215.30" y="88.88" width="7.90" height="7.90" fill="#F85838"/>
<rect x="215.30" y="104.51" width="7.90" height="7.90" fill="#F85430"/>
<rect x="215.30" y="120.14" width="7.90" height="7.90" fill="#F85028"/>
<rect x="215.30" y="135.77" width="7.90" height="7.90" fill="#F85020"/>
<rect x="215.30" y="151.40" width="7.90" height="7.90" fill="#F84C18"/>
<rect x="215.30" y="167.03" width="7.90" height="7.90" fill="#F84810"/>
<rect x="231.05" y="73.25" width="7.90" height="7.90" fill="#F83858"/>
<rect x="231.05" y="88.88" width="7.90" height="7.90" fill="#F83858"/>
<rect x="231.05" y="104.51" width="7.90" height="7.90" fill="#F83850"/>
<rect x="231.05" y="120.14" width="7.90" height="7.90" fill="#F83448"/>
<rect x="231.05" y="135.77" width="7.90" height="7.90" fill="#F83040"/>
<rect x="231.05" y="151.40" width="7.90" height="7.90" fill="#F82C38"/>
<rect x="231.05" y="167.03" width="7.90" height="7.90" fill="#F82838"/>
<rect x="246.80" y="73.25" width="7.90" height="7.90" fill="#F02878"/>
<rect x="246.80" y="88.88" width="7.90" height="7.90" fill="#F02878"/>
<rect x="246.80" y="104.51" width="7.90" height="7.90" fill="#F02874"/>
<rect x="246.80" y="120.14" width="7.90" height="7.90" fill="#F02870"/>
<rect x="246.80" y="135.77" width="7.90" height="7.90" fill="#F02870"/>
<rect x="246.80" y="151.40" width="7.90" height="7.90" fill="#F0286C"/>
<rect x="246.80" y="167.03" width="7.90" height="7.90" fill="#F02868"/>
<rect x="262.55" y="73.25" width="7.90" height="7.90" fill="#F83478"/>
<rect x="262.55" y="88.88" width="7.90" height="7.90" fill="#F83478"/>
<rect x="262.55" y="104.51" width="7.90" height="7.90" fill="#F83470"/>
<rect x="262.55" y="120.14" width="7.90" height="7.90" fill="#F83870"/>
<rect x="262.55" y="135.77" width="7.90" height="7.90" fill="#F83C68"/>
<rect x="262.55" y="151.40" width="7.90" height="7.90" fill="#F84060"/>
<rect x="262.55" y="167.03" width="7.90" height="7.90" fill="#F84060"/>
<rect x="278.30" y="73.25" width="7.90" height="7.90" fill="#E84890"/>
<rect x="278.30" y="88.88" width="7.90" height="7.90" fill="#E84C90"/>
<rect x="278.30" y="104.51" width="7.90" height="7.90" fill="#E85088"/>
<rect x="278.30" y="120.14" width="7.90" height="7.90" fill="#E05888"/>
<rect x="278.30" y="135.77" width="7.90" height="7.90" fill="#E06080"/>
<rect x="278.30" y="151.40" width="7.90" height="7.90" fill="#D86880"/>
<rect x="278.30" y="167.03" width="7.90" height="7.90" fill="#D87078"/>
<rect x="294.05" y="73.25" width="7.90" height="7.90" fill="#C868A0"/>
<rect x="294.05" y="88.88" width="7.90" height="7.90" fill="#C86CA0"/>
<rect x="294.05" y="104.51" width="7.90" height="7.90" fill="#C87098"/>
<rect x="294.05" y="120.14" width="7.90" height="7.90" fill="#C07898"/>
<rect x="294.05" y="135.77" width="7.90" height="7.90" fill="#B88090"/>
<rect x="294.05" y="151.40" width="7.90" height="7.90" fill="#B08890"/>
<rect x="294.05" y="167.03" width="7.90" height="7.90" fill="#B09090"/>
<rect x="309.80" y="73.25" width="7.90" height="7.90" fill="#A888A8"/>
<rect x="309.80" y="88.88" width="7.90" height="7.90" fill="#A088A8"/>
<rect x="309.80" y="104.51" width="7.90" height="7.90" fill="#A08CA0"/>
<rect x="309.80" y="120.14" width="7.90" height="7.90" fill="#9890A0"/>
<rect x="309.80" y="135.77" width="7.90" height="7.90" fill="#9098A0"/>
<rect x="309.80" y="151.40" width="7.90" height="7.90" fill="#889C98"/>
<rect x="309.80" y="167.03" width="7.90" height="7.90" fill="#80A098"/>
<rect x="325.55" y="73.25" width="7.90" height="7.90" fill="#70A0A0"/>
<rect x="325.55" y="88.88" width="7.90" height="7.90" fill="#70A0A0"/>
<rect x="325.55" y="104.51" width="7.90" height="7.90" fill="#68A4A0"/>
<rect x="325.55" y="120.14" width="7.90" height="7.90" fill="#60A8A0"/>
<rect x="325.55" y="135.77" width="7.90" height="7.90" fill="#58AC98"/>
<rect x="325.55" y="151.40" width="7.90" height="7.90" fill="#50B098"/>
<rect x="325.55" y="167.03" width="7.90" height="7.90" fill="#50B098"/>
<rect x="341.30" y="73.25" width="7.90" height="7.90" fill="#40A898"/>
<rect x="341.30" y="88.88" width="7.90" height="7.90" fill="#40A898"/>
<rect x="341.30" y="104.51" width="7.90" height="7.90" fill="#40AC98"/>
<rect x="341.30" y="120.14" width="7.90" height="7.90" fill="#40AC98"/>
<rect x="341.30" y="135.77" width="7.90" height="7.90" fill="#3CB094"/>
<rect x="341.30" y="151.40" width="7.90" height="7.90" fill="#38B090"/>
<rect x="341.30" y="167.03" width="7.90" height="7.90" fill="#38B090"/>
<rect x="101.75" y="163.73" width="14.50" height="14.50" fill="none" stroke="#d8d8d8" stroke-width="1.7" stroke-dasharray="1.05 1.36"/>
<rect x="133.25" y="163.73" width="14.50" height="14.50" fill="none" stroke="#d8d8d8" stroke-width="1.7" stroke-dasharray="1.05 1.36"/>
<rect x="164.75" y="163.73" width="14.50" height="14.50" fill="none" stroke="#d8d8d8" stroke-width="1.7" stroke-dasharray="1.05 1.36"/>
<rect x="227.75" y="163.73" width="14.50" height="14.50" fill="none" stroke="#d8d8d8" stroke-width="1.7" stroke-dasharray="1.05 1.36"/>
<line x1="77.50" y1="66.9" x2="77.50" y2="70.7" stroke="#000" stroke-width="1.2"/>
<line x1="124.75" y1="66.9" x2="124.75" y2="70.7" stroke="#000" stroke-width="1.2"/>
<line x1="172.00" y1="66.9" x2="172.00" y2="70.7" stroke="#000" stroke-width="1.2"/>
<line x1="219.25" y1="66.9" x2="219.25" y2="70.7" stroke="#000" stroke-width="1.2"/>
<line x1="266.50" y1="66.9" x2="266.50" y2="70.7" stroke="#000" stroke-width="1.2"/>
<line x1="313.75" y1="66.9" x2="313.75" y2="70.7" stroke="#000" stroke-width="1.2"/>
<line x1="64.6" y1="77.20" x2="68.7" y2="77.20" stroke="#000" stroke-width="1.2"/>
<line x1="64.6" y1="124.09" x2="68.7" y2="124.09" stroke="#000" stroke-width="1.2"/>
<line x1="64.6" y1="170.98" x2="68.7" y2="170.98" stroke="#000" stroke-width="1.2"/>
<rect x="464.4" y="69.6" width="283.6" height="111.3" fill="#0a020d"/>
<rect x="469.85" y="72.65" width="7.50" height="7.50" fill="#ce7d42"/>
<rect x="469.85" y="88.42" width="7.50" height="7.50" fill="#0e1507"/>
<rect x="469.85" y="104.19" width="7.50" height="7.50" fill="#070700"/>
<rect x="469.85" y="119.96" width="7.50" height="7.50" fill="#040400"/>
<rect x="469.85" y="135.73" width="7.50" height="7.50" fill="#070b03"/>
<rect x="469.85" y="151.50" width="7.50" height="7.50" fill="#040404"/>
<rect x="469.85" y="167.27" width="7.50" height="7.50" fill="#040404"/>
<rect x="485.55" y="72.65" width="7.50" height="7.50" fill="#62873d"/>
<rect x="485.55" y="88.42" width="7.50" height="7.50" fill="#143214"/>
<rect x="485.55" y="104.19" width="7.50" height="7.50" fill="#143914"/>
<rect x="485.55" y="119.96" width="7.50" height="7.50" fill="#143214"/>
<rect x="485.55" y="135.73" width="7.50" height="7.50" fill="#0a150a"/>
<rect x="485.55" y="151.50" width="7.50" height="7.50" fill="#070b07"/>
<rect x="485.55" y="167.27" width="7.50" height="7.50" fill="#050505"/>
<rect x="501.25" y="72.65" width="7.50" height="7.50" fill="#718e3d"/>
<rect x="501.25" y="88.42" width="7.50" height="7.50" fill="#144014"/>
<rect x="501.25" y="104.19" width="7.50" height="7.50" fill="#0d3214"/>
<rect x="501.25" y="119.96" width="7.50" height="7.50" fill="#135d13"/>
<rect x="501.25" y="135.73" width="7.50" height="7.50" fill="#0d3914"/>
<rect x="501.25" y="151.50" width="7.50" height="7.50" fill="#0a2415"/>
<rect x="501.25" y="167.27" width="7.50" height="7.50" fill="#0d391b"/>
<rect x="516.95" y="72.65" width="7.50" height="7.50" fill="#207920"/>
<rect x="516.95" y="88.42" width="7.50" height="7.50" fill="#135d13"/>
<rect x="516.95" y="104.19" width="7.50" height="7.50" fill="#135d1a"/>
<rect x="516.95" y="119.96" width="7.50" height="7.50" fill="#126b12"/>
<rect x="516.95" y="135.73" width="7.50" height="7.50" fill="#1f8e11"/>
<rect x="516.95" y="151.50" width="7.50" height="7.50" fill="#127212"/>
<rect x="516.95" y="167.27" width="7.50" height="7.50" fill="#135d1a"/>
<rect x="532.65" y="72.65" width="7.50" height="7.50" fill="#2e8720"/>
<rect x="532.65" y="88.42" width="7.50" height="7.50" fill="#127212"/>
<rect x="532.65" y="104.19" width="7.50" height="7.50" fill="#368e18"/>
<rect x="532.65" y="119.96" width="7.50" height="7.50" fill="#3d961f"/>
<rect x="532.65" y="135.73" width="7.50" height="7.50" fill="#539618"/>
<rect x="532.65" y="151.50" width="7.50" height="7.50" fill="#869d10"/>
<rect x="532.65" y="167.27" width="7.50" height="7.50" fill="#709d1f"/>
<rect x="548.35" y="72.65" width="7.50" height="7.50" fill="#c07e2c"/>
<rect x="548.35" y="88.42" width="7.50" height="7.50" fill="#879610"/>
<rect x="548.35" y="104.19" width="7.50" height="7.50" fill="#709610"/>
<rect x="548.35" y="119.96" width="7.50" height="7.50" fill="#5b8e18"/>
<rect x="548.35" y="135.73" width="7.50" height="7.50" fill="#7f9618"/>
<rect x="548.35" y="151.50" width="7.50" height="7.50" fill="#c08c0f"/>
<rect x="548.35" y="167.27" width="7.50" height="7.50" fill="#9d9510"/>
<rect x="564.05" y="72.65" width="7.50" height="7.50" fill="#b2771e"/>
<rect x="564.05" y="88.42" width="7.50" height="7.50" fill="#c7850e"/>
<rect x="564.05" y="104.19" width="7.50" height="7.50" fill="#ab860f"/>
<rect x="564.05" y="119.96" width="7.50" height="7.50" fill="#ab860f"/>
<rect x="564.05" y="135.73" width="7.50" height="7.50" fill="#c07e0f"/>
<rect x="564.05" y="151.50" width="7.50" height="7.50" fill="#b97e0f"/>
<rect x="564.05" y="167.27" width="7.50" height="7.50" fill="#c7760e"/>
<rect x="579.75" y="72.65" width="7.50" height="7.50" fill="#c77616"/>
<rect x="579.75" y="88.42" width="7.50" height="7.50" fill="#a47f10"/>
<rect x="579.75" y="104.19" width="7.50" height="7.50" fill="#c0760f"/>
<rect x="579.75" y="119.96" width="7.50" height="7.50" fill="#b27e0f"/>
<rect x="579.75" y="135.73" width="7.50" height="7.50" fill="#ce670e"/>
<rect x="579.75" y="151.50" width="7.50" height="7.50" fill="#c7670e"/>
<rect x="579.75" y="167.27" width="7.50" height="7.50" fill="#ce5f07"/>
<rect x="595.45" y="72.65" width="7.50" height="7.50" fill="#ce760e"/>
<rect x="595.45" y="88.42" width="7.50" height="7.50" fill="#d6670e"/>
<rect x="595.45" y="104.19" width="7.50" height="7.50" fill="#d65806"/>
<rect x="595.45" y="119.96" width="7.50" height="7.50" fill="#d63a0e"/>
<rect x="595.45" y="135.73" width="7.50" height="7.50" fill="#d63a0e"/>
<rect x="595.45" y="151.50" width="7.50" height="7.50" fill="#d62b0e"/>
<rect x="595.45" y="167.27" width="7.50" height="7.50" fill="#d62b0e"/>
<rect x="611.15" y="72.65" width="7.50" height="7.50" fill="#ce2c1d"/>
<rect x="611.15" y="88.42" width="7.50" height="7.50" fill="#d6240e"/>
<rect x="611.15" y="104.19" width="7.50" height="7.50" fill="#d63a0e"/>
<rect x="611.15" y="119.96" width="7.50" height="7.50" fill="#d62b15"/>
<rect x="611.15" y="135.73" width="7.50" height="7.50" fill="#ce1d15"/>
<rect x="611.15" y="151.50" width="7.50" height="7.50" fill="#c7161d"/>
<rect x="611.15" y="167.27" width="7.50" height="7.50" fill="#c71616"/>
<rect x="626.85" y="72.65" width="7.50" height="7.50" fill="#d63a0e"/>
<rect x="626.85" y="88.42" width="7.50" height="7.50" fill="#d62b0e"/>
<rect x="626.85" y="104.19" width="7.50" height="7.50" fill="#ce1515"/>
<rect x="626.85" y="119.96" width="7.50" height="7.50" fill="#c7161d"/>
<rect x="626.85" y="135.73" width="7.50" height="7.50" fill="#c0161d"/>
<rect x="626.85" y="151.50" width="7.50" height="7.50" fill="#b2161e"/>
<rect x="626.85" y="167.27" width="7.50" height="7.50" fill="#ab171e"/>
<rect x="642.55" y="72.65" width="7.50" height="7.50" fill="#d61c0e"/>
<rect x="642.55" y="88.42" width="7.50" height="7.50" fill="#ce1515"/>
<rect x="642.55" y="104.19" width="7.50" height="7.50" fill="#c7161d"/>
<rect x="642.55" y="119.96" width="7.50" height="7.50" fill="#b21625"/>
<rect x="642.55" y="135.73" width="7.50" height="7.50" fill="#a4172d"/>
<rect x="642.55" y="151.50" width="7.50" height="7.50" fill="#96182e"/>
<rect x="642.55" y="167.27" width="7.50" height="7.50" fill="#8e182e"/>
<rect x="658.25" y="72.65" width="7.50" height="7.50" fill="#b22d3c"/>
<rect x="658.25" y="88.42" width="7.50" height="7.50" fill="#b91e34"/>
<rect x="658.25" y="104.19" width="7.50" height="7.50" fill="#c71624"/>
<rect x="658.25" y="119.96" width="7.50" height="7.50" fill="#b9162c"/>
<rect x="658.25" y="135.73" width="7.50" height="7.50" fill="#b90f2c"/>
<rect x="658.25" y="151.50" width="7.50" height="7.50" fill="#a41735"/>
<rect x="658.25" y="167.27" width="7.50" height="7.50" fill="#8e112e"/>
<rect x="673.95" y="72.65" width="7.50" height="7.50" fill="#c7162c"/>
<rect x="673.95" y="88.42" width="7.50" height="7.50" fill="#c7162c"/>
<rect x="673.95" y="104.19" width="7.50" height="7.50" fill="#c0162c"/>
<rect x="673.95" y="119.96" width="7.50" height="7.50" fill="#b21634"/>
<rect x="673.95" y="135.73" width="7.50" height="7.50" fill="#9d1735"/>
<rect x="673.95" y="151.50" width="7.50" height="7.50" fill="#80203e"/>
<rect x="673.95" y="167.27" width="7.50" height="7.50" fill="#72203e"/>
<rect x="689.65" y="72.65" width="7.50" height="7.50" fill="#8e4c36"/>
<rect x="689.65" y="88.42" width="7.50" height="7.50" fill="#963d3d"/>
<rect x="689.65" y="104.19" width="7.50" height="7.50" fill="#9d263c"/>
<rect x="689.65" y="119.96" width="7.50" height="7.50" fill="#9d1f3c"/>
<rect x="689.65" y="135.73" width="7.50" height="7.50" fill="#80203e"/>
<rect x="689.65" y="151.50" width="7.50" height="7.50" fill="#722845"/>
<rect x="689.65" y="167.27" width="7.50" height="7.50" fill="#5d303f"/>
<rect x="705.35" y="72.65" width="7.50" height="7.50" fill="#9d353c"/>
<rect x="705.35" y="88.42" width="7.50" height="7.50" fill="#6b6337"/>
<rect x="705.35" y="104.19" width="7.50" height="7.50" fill="#803e36"/>
<rect x="705.35" y="119.96" width="7.50" height="7.50" fill="#72543e"/>
<rect x="705.35" y="135.73" width="7.50" height="7.50" fill="#5d383f"/>
<rect x="705.35" y="151.50" width="7.50" height="7.50" fill="#4e4740"/>
<rect x="705.35" y="167.27" width="7.50" height="7.50" fill="#384740"/>
<rect x="721.05" y="72.65" width="7.50" height="7.50" fill="#b27e25"/>
<rect x="721.05" y="88.42" width="7.50" height="7.50" fill="#646430"/>
<rect x="721.05" y="104.19" width="7.50" height="7.50" fill="#5c6b30"/>
<rect x="721.05" y="119.96" width="7.50" height="7.50" fill="#555538"/>
<rect x="721.05" y="135.73" width="7.50" height="7.50" fill="#3f6437"/>
<rect x="721.05" y="151.50" width="7.50" height="7.50" fill="#2f723e"/>
<rect x="721.05" y="167.27" width="7.50" height="7.50" fill="#2f7245"/>
<rect x="736.75" y="72.65" width="7.50" height="7.50" fill="#9d862e"/>
<rect x="736.75" y="88.42" width="7.50" height="7.50" fill="#548036"/>
<rect x="736.75" y="104.19" width="7.50" height="7.50" fill="#458036"/>
<rect x="736.75" y="119.96" width="7.50" height="7.50" fill="#628e2e"/>
<rect x="736.75" y="135.73" width="7.50" height="7.50" fill="#3d873d"/>
<rect x="736.75" y="151.50" width="7.50" height="7.50" fill="#3d8745"/>
<rect x="736.75" y="167.27" width="7.50" height="7.50" fill="#2e8745"/>
<rect x="497.20" y="163.82" width="14.40" height="14.40" fill="none" stroke="#d8d8d8" stroke-width="1.7" stroke-dasharray="1.05 1.36"/>
<rect x="528.60" y="163.82" width="14.40" height="14.40" fill="none" stroke="#d8d8d8" stroke-width="1.7" stroke-dasharray="1.05 1.36"/>
<rect x="560.00" y="163.82" width="14.40" height="14.40" fill="none" stroke="#d8d8d8" stroke-width="1.7" stroke-dasharray="1.05 1.36"/>
<rect x="622.80" y="163.82" width="14.40" height="14.40" fill="none" stroke="#d8d8d8" stroke-width="1.7" stroke-dasharray="1.05 1.36"/>
<line x1="473.60" y1="66.3" x2="473.60" y2="70.1" stroke="#000" stroke-width="1.2"/>
<line x1="520.70" y1="66.3" x2="520.70" y2="70.1" stroke="#000" stroke-width="1.2"/>
<line x1="567.80" y1="66.3" x2="567.80" y2="70.1" stroke="#000" stroke-width="1.2"/>
<line x1="614.90" y1="66.3" x2="614.90" y2="70.1" stroke="#000" stroke-width="1.2"/>
<line x1="662.00" y1="66.3" x2="662.00" y2="70.1" stroke="#000" stroke-width="1.2"/>
<line x1="709.10" y1="66.3" x2="709.10" y2="70.1" stroke="#000" stroke-width="1.2"/>
<line x1="460.8" y1="76.40" x2="464.9" y2="76.40" stroke="#000" stroke-width="1.2"/>
<line x1="460.8" y1="123.71" x2="464.9" y2="123.71" stroke="#000" stroke-width="1.2"/>
<line x1="460.8" y1="171.02" x2="464.9" y2="171.02" stroke="#000" stroke-width="1.2"/>
<rect x="69.5" y="259.7" width="282.9" height="282.4" fill="#fff" stroke="#5e5e5e" stroke-width="1"/>
<use href="#cie" transform="translate(104.40,507.50) scale(0.26600,0.26600)"/>
<path d="M274.6 419.7 L184.2 347.9 L144.3 491.5 Z" fill="none" stroke="#111" stroke-width="1.15" stroke-dasharray="4 2.2"/>
<line x1="124.3" y1="286.3" x2="122.9" y2="279.0" stroke="#000" stroke-width="1.05"/>
<circle cx="124.2" cy="285.7" r="1" fill="#000"/>
<line x1="108.7" y1="308.1" x2="101.5" y2="306.5" stroke="#000" stroke-width="1.05"/>
<circle cx="108.1" cy="307.9" r="1" fill="#000"/>
<line x1="107.2" y1="364.2" x2="99.8" y2="364.8" stroke="#000" stroke-width="1.05"/>
<circle cx="106.6" cy="364.3" r="1" fill="#000"/>
<line x1="117.1" y1="428.9" x2="109.8" y2="430.4" stroke="#000" stroke-width="1.05"/>
<circle cx="116.5" cy="429.0" r="1" fill="#000"/>
<line x1="129.3" y1="472.0" x2="122.3" y2="474.5" stroke="#000" stroke-width="1.05"/>
<circle cx="128.7" cy="472.2" r="1" fill="#000"/>
<line x1="137.9" y1="491.8" x2="131.5" y2="495.4" stroke="#000" stroke-width="1.05"/>
<circle cx="137.4" cy="492.1" r="1" fill="#000"/>
<line x1="143.1" y1="499.2" x2="137.7" y2="504.1" stroke="#000" stroke-width="1.05"/>
<circle cx="142.7" cy="499.6" r="1" fill="#000"/>
<line x1="150.8" y1="505.6" x2="148.4" y2="512.6" stroke="#000" stroke-width="1.05"/>
<circle cx="150.6" cy="506.2" r="1" fill="#000"/>
<line x1="165.1" y1="307.3" x2="169.7" y2="301.5" stroke="#000" stroke-width="1.05"/>
<circle cx="165.5" cy="306.9" r="1" fill="#000"/>
<line x1="203.2" y1="341.8" x2="208.4" y2="336.5" stroke="#000" stroke-width="1.05"/>
<circle cx="203.6" cy="341.4" r="1" fill="#000"/>
<line x1="240.3" y1="378.5" x2="245.5" y2="373.3" stroke="#000" stroke-width="1.05"/>
<circle cx="240.7" cy="378.1" r="1" fill="#000"/>
<line x1="270.8" y1="408.8" x2="276.0" y2="403.6" stroke="#000" stroke-width="1.05"/>
<circle cx="271.2" cy="408.4" r="1" fill="#000"/>
<line x1="287.9" y1="425.9" x2="293.1" y2="420.7" stroke="#000" stroke-width="1.05"/>
<circle cx="288.3" cy="425.5" r="1" fill="#000"/>
<line x1="299.4" y1="437.3" x2="304.9" y2="432.5" stroke="#000" stroke-width="1.05"/>
<circle cx="299.8" cy="436.9" r="1" fill="#000"/>
<line x1="67.9" y1="507.5" x2="69.5" y2="507.5" stroke="#555" stroke-width="0.8"/>
<line x1="67.9" y1="454.3" x2="69.5" y2="454.3" stroke="#555" stroke-width="0.8"/>
<line x1="67.9" y1="401.1" x2="69.5" y2="401.1" stroke="#555" stroke-width="0.8"/>
<line x1="67.9" y1="347.9" x2="69.5" y2="347.9" stroke="#555" stroke-width="0.8"/>
<line x1="67.9" y1="294.7" x2="69.5" y2="294.7" stroke="#555" stroke-width="0.8"/>
<circle cx="182.1" cy="361.2" r="2.60" fill="#fff" fill-opacity="0.7" stroke="#000" stroke-width="0.88"/>
<circle cx="181.2" cy="362.8" r="2.60" fill="#fff" fill-opacity="0.7" stroke="#000" stroke-width="0.88"/>
<circle cx="178.6" cy="368.1" r="2.60" fill="#fff" fill-opacity="0.7" stroke="#000" stroke-width="0.88"/>
<circle cx="176.0" cy="377.0" r="2.60" fill="#fff" fill-opacity="0.7" stroke="#000" stroke-width="0.88"/>
<circle cx="173.4" cy="386.0" r="2.60" fill="#fff" fill-opacity="0.7" stroke="#000" stroke-width="0.88"/>
<circle cx="170.8" cy="395.2" r="2.60" fill="#fff" fill-opacity="0.7" stroke="#000" stroke-width="0.88"/>
<circle cx="168.6" cy="402.9" r="2.60" fill="#fff" fill-opacity="0.7" stroke="#000" stroke-width="0.88"/>
<circle cx="163.5" cy="376.5" r="2.60" fill="#fff" fill-opacity="0.7" stroke="#000" stroke-width="0.88"/>
<circle cx="163.0" cy="383.4" r="2.60" fill="#fff" fill-opacity="0.7" stroke="#000" stroke-width="0.88"/>
<circle cx="161.8" cy="396.6" r="2.60" fill="#fff" fill-opacity="0.7" stroke="#000" stroke-width="0.88"/>
<circle cx="159.9" cy="413.1" r="2.60" fill="#fff" fill-opacity="0.7" stroke="#000" stroke-width="0.88"/>
<circle cx="157.5" cy="429.7" r="2.60" fill="#fff" fill-opacity="0.7" stroke="#000" stroke-width="0.88"/>
<circle cx="205.5" cy="364.3" r="2.60" fill="#fff" fill-opacity="0.7" stroke="#000" stroke-width="0.88"/>
<circle cx="204.3" cy="366.4" r="2.60" fill="#fff" fill-opacity="0.7" stroke="#000" stroke-width="0.88"/>
<circle cx="202.9" cy="368.6" r="2.60" fill="#fff" fill-opacity="0.7" stroke="#000" stroke-width="0.88"/>
<circle cx="201.2" cy="372.1" r="2.60" fill="#fff" fill-opacity="0.7" stroke="#000" stroke-width="0.88"/>
<circle cx="199.4" cy="375.6" r="2.60" fill="#fff" fill-opacity="0.7" stroke="#000" stroke-width="0.88"/>
<circle cx="198.1" cy="379.6" r="2.60" fill="#fff" fill-opacity="0.7" stroke="#000" stroke-width="0.88"/>
<circle cx="196.8" cy="383.1" r="2.60" fill="#fff" fill-opacity="0.7" stroke="#000" stroke-width="0.88"/>
<circle cx="224.8" cy="374.1" r="2.60" fill="#fff" fill-opacity="0.7" stroke="#000" stroke-width="0.88"/>
<circle cx="224.0" cy="376.0" r="2.60" fill="#fff" fill-opacity="0.7" stroke="#000" stroke-width="0.88"/>
<circle cx="223.2" cy="378.2" r="2.60" fill="#fff" fill-opacity="0.7" stroke="#000" stroke-width="0.88"/>
<circle cx="222.4" cy="380.4" r="2.60" fill="#fff" fill-opacity="0.7" stroke="#000" stroke-width="0.88"/>
<circle cx="221.6" cy="382.6" r="2.60" fill="#fff" fill-opacity="0.7" stroke="#000" stroke-width="0.88"/>
<circle cx="221.0" cy="384.8" r="2.60" fill="#fff" fill-opacity="0.7" stroke="#000" stroke-width="0.88"/>
<circle cx="220.5" cy="386.8" r="2.60" fill="#fff" fill-opacity="0.7" stroke="#000" stroke-width="0.88"/>
<circle cx="238.1" cy="384.4" r="2.60" fill="#fff" fill-opacity="0.7" stroke="#000" stroke-width="0.88"/>
<circle cx="238.0" cy="385.8" r="2.60" fill="#fff" fill-opacity="0.7" stroke="#000" stroke-width="0.88"/>
<circle cx="237.9" cy="387.2" r="2.60" fill="#fff" fill-opacity="0.7" stroke="#000" stroke-width="0.88"/>
<circle cx="237.9" cy="388.6" r="2.60" fill="#fff" fill-opacity="0.7" stroke="#000" stroke-width="0.88"/>
<circle cx="237.8" cy="390.4" r="2.60" fill="#fff" fill-opacity="0.7" stroke="#000" stroke-width="0.88"/>
<circle cx="247.2" cy="395.3" r="2.60" fill="#fff" fill-opacity="0.7" stroke="#000" stroke-width="0.88"/>
<circle cx="248.4" cy="396.3" r="2.60" fill="#fff" fill-opacity="0.7" stroke="#000" stroke-width="0.88"/>
<circle cx="249.6" cy="397.3" r="2.60" fill="#fff" fill-opacity="0.7" stroke="#000" stroke-width="0.88"/>
<circle cx="250.9" cy="398.3" r="2.60" fill="#fff" fill-opacity="0.7" stroke="#000" stroke-width="0.88"/>
<circle cx="252.2" cy="399.3" r="2.60" fill="#fff" fill-opacity="0.7" stroke="#000" stroke-width="0.88"/>
<circle cx="253.4" cy="400.3" r="2.60" fill="#fff" fill-opacity="0.7" stroke="#000" stroke-width="0.88"/>
<circle cx="252.2" cy="405.3" r="2.60" fill="#fff" fill-opacity="0.7" stroke="#000" stroke-width="0.88"/>
<circle cx="253.9" cy="405.5" r="2.60" fill="#fff" fill-opacity="0.7" stroke="#000" stroke-width="0.88"/>
<circle cx="255.6" cy="405.7" r="2.60" fill="#fff" fill-opacity="0.7" stroke="#000" stroke-width="0.88"/>
<circle cx="257.3" cy="405.9" r="2.60" fill="#fff" fill-opacity="0.7" stroke="#000" stroke-width="0.88"/>
<circle cx="259.0" cy="406.1" r="2.60" fill="#fff" fill-opacity="0.7" stroke="#000" stroke-width="0.88"/>
<circle cx="260.6" cy="406.4" r="2.60" fill="#fff" fill-opacity="0.7" stroke="#000" stroke-width="0.88"/>
<circle cx="262.3" cy="406.6" r="2.60" fill="#fff" fill-opacity="0.7" stroke="#000" stroke-width="0.88"/>
<circle cx="254.1" cy="414.7" r="2.60" fill="#fff" fill-opacity="0.7" stroke="#000" stroke-width="0.88"/>
<circle cx="256.0" cy="414.6" r="2.60" fill="#fff" fill-opacity="0.7" stroke="#000" stroke-width="0.88"/>
<circle cx="257.9" cy="414.5" r="2.60" fill="#fff" fill-opacity="0.7" stroke="#000" stroke-width="0.88"/>
<circle cx="259.8" cy="414.4" r="2.60" fill="#fff" fill-opacity="0.7" stroke="#000" stroke-width="0.88"/>
<circle cx="261.8" cy="414.3" r="2.60" fill="#fff" fill-opacity="0.7" stroke="#000" stroke-width="0.88"/>
<circle cx="263.7" cy="414.2" r="2.60" fill="#fff" fill-opacity="0.7" stroke="#000" stroke-width="0.88"/>
<circle cx="265.6" cy="414.2" r="2.60" fill="#fff" fill-opacity="0.7" stroke="#000" stroke-width="0.88"/>
<circle cx="267.5" cy="414.1" r="2.60" fill="#fff" fill-opacity="0.7" stroke="#000" stroke-width="0.88"/>
<circle cx="250.9" cy="423.4" r="2.60" fill="#fff" fill-opacity="0.7" stroke="#000" stroke-width="0.88"/>
<circle cx="253.2" cy="423.0" r="2.60" fill="#fff" fill-opacity="0.7" stroke="#000" stroke-width="0.88"/>
<circle cx="255.5" cy="422.6" r="2.60" fill="#fff" fill-opacity="0.7" stroke="#000" stroke-width="0.88"/>
<circle cx="257.8" cy="422.2" r="2.60" fill="#fff" fill-opacity="0.7" stroke="#000" stroke-width="0.88"/>
<circle cx="260.1" cy="421.8" r="2.60" fill="#fff" fill-opacity="0.7" stroke="#000" stroke-width="0.88"/>
<circle cx="262.4" cy="421.4" r="2.60" fill="#fff" fill-opacity="0.7" stroke="#000" stroke-width="0.88"/>
<circle cx="264.7" cy="421.0" r="2.60" fill="#fff" fill-opacity="0.7" stroke="#000" stroke-width="0.88"/>
<circle cx="267.0" cy="420.6" r="2.60" fill="#fff" fill-opacity="0.7" stroke="#000" stroke-width="0.88"/>
<circle cx="244.1" cy="431.3" r="2.60" fill="#fff" fill-opacity="0.7" stroke="#000" stroke-width="0.88"/>
<circle cx="245.9" cy="430.5" r="2.60" fill="#fff" fill-opacity="0.7" stroke="#000" stroke-width="0.88"/>
<circle cx="247.8" cy="429.7" r="2.60" fill="#fff" fill-opacity="0.7" stroke="#000" stroke-width="0.88"/>
<circle cx="249.7" cy="428.9" r="2.60" fill="#fff" fill-opacity="0.7" stroke="#000" stroke-width="0.88"/>
<circle cx="251.5" cy="428.2" r="2.60" fill="#fff" fill-opacity="0.7" stroke="#000" stroke-width="0.88"/>
<circle cx="253.4" cy="427.4" r="2.60" fill="#fff" fill-opacity="0.7" stroke="#000" stroke-width="0.88"/>
<circle cx="255.3" cy="426.6" r="2.60" fill="#fff" fill-opacity="0.7" stroke="#000" stroke-width="0.88"/>
<circle cx="233.1" cy="435.5" r="2.60" fill="#fff" fill-opacity="0.7" stroke="#000" stroke-width="0.88"/>
<circle cx="234.1" cy="434.2" r="2.60" fill="#fff" fill-opacity="0.7" stroke="#000" stroke-width="0.88"/>
<circle cx="235.2" cy="432.9" r="2.60" fill="#fff" fill-opacity="0.7" stroke="#000" stroke-width="0.88"/>
<circle cx="236.2" cy="431.6" r="2.60" fill="#fff" fill-opacity="0.7" stroke="#000" stroke-width="0.88"/>
<circle cx="237.3" cy="430.3" r="2.60" fill="#fff" fill-opacity="0.7" stroke="#000" stroke-width="0.88"/>
<circle cx="238.3" cy="429.0" r="2.60" fill="#fff" fill-opacity="0.7" stroke="#000" stroke-width="0.88"/>
<circle cx="239.4" cy="427.7" r="2.60" fill="#fff" fill-opacity="0.7" stroke="#000" stroke-width="0.88"/>
<circle cx="225.3" cy="431.1" r="2.60" fill="#fff" fill-opacity="0.7" stroke="#000" stroke-width="0.88"/>
<circle cx="215.4" cy="426.5" r="2.60" fill="#fff" fill-opacity="0.7" stroke="#000" stroke-width="0.88"/>
<circle cx="216.2" cy="428.3" r="2.60" fill="#fff" fill-opacity="0.7" stroke="#000" stroke-width="0.88"/>
<circle cx="217.1" cy="430.2" r="2.60" fill="#fff" fill-opacity="0.7" stroke="#000" stroke-width="0.88"/>
<circle cx="217.8" cy="432.2" r="2.60" fill="#fff" fill-opacity="0.7" stroke="#000" stroke-width="0.88"/>
<circle cx="218.1" cy="434.0" r="2.60" fill="#fff" fill-opacity="0.7" stroke="#000" stroke-width="0.88"/>
<circle cx="217.5" cy="436.1" r="2.60" fill="#fff" fill-opacity="0.7" stroke="#000" stroke-width="0.88"/>
<circle cx="216.8" cy="437.7" r="2.60" fill="#fff" fill-opacity="0.7" stroke="#000" stroke-width="0.88"/>
<circle cx="195.9" cy="422.8" r="2.60" fill="#fff" fill-opacity="0.7" stroke="#000" stroke-width="0.88"/>
<circle cx="197.5" cy="424.9" r="2.60" fill="#fff" fill-opacity="0.7" stroke="#000" stroke-width="0.88"/>
<circle cx="198.9" cy="426.8" r="2.60" fill="#fff" fill-opacity="0.7" stroke="#000" stroke-width="0.88"/>
<circle cx="200.2" cy="428.6" r="2.60" fill="#fff" fill-opacity="0.7" stroke="#000" stroke-width="0.88"/>
<circle cx="201.5" cy="430.5" r="2.60" fill="#fff" fill-opacity="0.7" stroke="#000" stroke-width="0.88"/>
<circle cx="202.6" cy="432.2" r="2.60" fill="#fff" fill-opacity="0.7" stroke="#000" stroke-width="0.88"/>
<circle cx="203.2" cy="434.0" r="2.60" fill="#fff" fill-opacity="0.7" stroke="#000" stroke-width="0.88"/>
<circle cx="190.4" cy="415.8" r="2.60" fill="#fff" fill-opacity="0.7" stroke="#000" stroke-width="0.88"/>
<circle cx="194.0" cy="429.7" r="2.60" fill="#fff" fill-opacity="0.7" stroke="#000" stroke-width="0.88"/>
<circle cx="181.2" cy="413.4" r="2.60" fill="#fff" fill-opacity="0.7" stroke="#000" stroke-width="0.88"/>
<circle cx="182.0" cy="416.9" r="2.60" fill="#fff" fill-opacity="0.7" stroke="#000" stroke-width="0.88"/>
<circle cx="183.1" cy="419.0" r="2.60" fill="#fff" fill-opacity="0.7" stroke="#000" stroke-width="0.88"/>
<circle cx="184.2" cy="421.0" r="2.60" fill="#fff" fill-opacity="0.7" stroke="#000" stroke-width="0.88"/>
<circle cx="185.2" cy="422.8" r="2.60" fill="#fff" fill-opacity="0.7" stroke="#000" stroke-width="0.88"/>
<circle cx="186.3" cy="424.7" r="2.60" fill="#fff" fill-opacity="0.7" stroke="#000" stroke-width="0.88"/>
<circle cx="187.4" cy="426.5" r="2.60" fill="#fff" fill-opacity="0.7" stroke="#000" stroke-width="0.88"/>
<circle cx="188.5" cy="428.1" r="2.60" fill="#fff" fill-opacity="0.7" stroke="#000" stroke-width="0.88"/>
<circle cx="189.3" cy="429.4" r="2.60" fill="#fff" fill-opacity="0.7" stroke="#000" stroke-width="0.88"/>
<circle cx="174.0" cy="410.5" r="2.60" fill="#fff" fill-opacity="0.7" stroke="#000" stroke-width="0.88"/>
<circle cx="174.4" cy="412.6" r="2.60" fill="#fff" fill-opacity="0.7" stroke="#000" stroke-width="0.88"/>
<circle cx="174.8" cy="414.8" r="2.60" fill="#fff" fill-opacity="0.7" stroke="#000" stroke-width="0.88"/>
<circle cx="175.4" cy="416.9" r="2.60" fill="#fff" fill-opacity="0.7" stroke="#000" stroke-width="0.88"/>
<circle cx="176.2" cy="418.7" r="2.60" fill="#fff" fill-opacity="0.7" stroke="#000" stroke-width="0.88"/>
<circle cx="177.2" cy="420.6" r="2.60" fill="#fff" fill-opacity="0.7" stroke="#000" stroke-width="0.88"/>
<circle cx="178.0" cy="422.2" r="2.60" fill="#fff" fill-opacity="0.7" stroke="#000" stroke-width="0.88"/>
<circle cx="174.0" cy="411.5" r="2.60" fill="#fff" fill-opacity="0.7" stroke="#000" stroke-width="0.88"/>
<circle cx="174.4" cy="413.6" r="2.60" fill="#fff" fill-opacity="0.7" stroke="#000" stroke-width="0.88"/>
<circle cx="174.8" cy="415.8" r="2.60" fill="#fff" fill-opacity="0.7" stroke="#000" stroke-width="0.88"/>
<circle cx="175.4" cy="417.9" r="2.60" fill="#fff" fill-opacity="0.7" stroke="#000" stroke-width="0.88"/>
<circle cx="170.3" cy="418.3" r="2.60" fill="#fff" fill-opacity="0.7" stroke="#000" stroke-width="0.88"/>
<circle cx="199.0" cy="446.7" r="2.60" fill="#fff" fill-opacity="0.7" stroke="#000" stroke-width="0.88"/>
<circle cx="202.5" cy="447.8" r="2.60" fill="#fff" fill-opacity="0.7" stroke="#000" stroke-width="0.88"/>
<circle cx="188.6" cy="450.8" r="2.60" fill="#fff" fill-opacity="0.7" stroke="#000" stroke-width="0.88"/>
<circle cx="183.5" cy="458.2" r="2.60" fill="#fff" fill-opacity="0.7" stroke="#000" stroke-width="0.88"/>
<circle cx="172.6" cy="467.2" r="2.60" fill="#fff" fill-opacity="0.7" stroke="#000" stroke-width="0.88"/>
<circle cx="179.6" cy="469.7" r="2.60" fill="#fff" fill-opacity="0.7" stroke="#000" stroke-width="0.88"/>
<circle cx="170.8" cy="481.8" r="2.60" fill="#fff" fill-opacity="0.7" stroke="#000" stroke-width="0.88"/>
<use href="#star" transform="translate(194.6,386.9) scale(4.7)" fill="#fff" stroke="#0a0a0a" stroke-width="0.21"/>
<use href="#star" transform="translate(239.4,392.8) scale(4.7)" fill="#fff" stroke="#0a0a0a" stroke-width="0.21"/>
<use href="#star" transform="translate(258.8,425.3) scale(4.7)" fill="#fff" stroke="#0a0a0a" stroke-width="0.21"/>
<use href="#star" transform="translate(156.0,443.0) scale(4.7)" fill="#fff" stroke="#0a0a0a" stroke-width="0.21"/>
<rect x="462.3" y="259.8" width="285.4" height="285.4" fill="#fff" stroke="#5e5e5e" stroke-width="1"/>
<use href="#cie" transform="translate(497.05,511.10) scale(0.26920,0.26980)"/>
<path d="M669.3 422.1 L577.8 349.2 L537.4 494.9 Z" fill="none" stroke="#111" stroke-width="1.80" stroke-dasharray="6.5 3.2"/>
<line x1="517.2" y1="286.7" x2="515.8" y2="279.4" stroke="#000" stroke-width="1.05"/>
<circle cx="517.1" cy="286.1" r="1" fill="#000"/>
<line x1="501.4" y1="308.8" x2="494.1" y2="307.2" stroke="#000" stroke-width="1.05"/>
<circle cx="500.8" cy="308.7" r="1" fill="#000"/>
<line x1="499.9" y1="365.8" x2="492.4" y2="366.4" stroke="#000" stroke-width="1.05"/>
<circle cx="499.3" cy="365.8" r="1" fill="#000"/>
<line x1="509.9" y1="431.4" x2="502.6" y2="432.9" stroke="#000" stroke-width="1.05"/>
<circle cx="509.3" cy="431.5" r="1" fill="#000"/>
<line x1="522.2" y1="475.1" x2="515.2" y2="477.6" stroke="#000" stroke-width="1.05"/>
<circle cx="521.6" cy="475.3" r="1" fill="#000"/>
<line x1="531.0" y1="495.2" x2="524.4" y2="498.8" stroke="#000" stroke-width="1.05"/>
<circle cx="530.5" cy="495.5" r="1" fill="#000"/>
<line x1="536.3" y1="502.7" x2="530.7" y2="507.7" stroke="#000" stroke-width="1.05"/>
<circle cx="535.8" cy="503.1" r="1" fill="#000"/>
<line x1="544.0" y1="509.2" x2="541.6" y2="516.3" stroke="#000" stroke-width="1.05"/>
<circle cx="543.8" cy="509.8" r="1" fill="#000"/>
<line x1="558.5" y1="308.1" x2="563.1" y2="302.2" stroke="#000" stroke-width="1.05"/>
<circle cx="558.9" cy="307.6" r="1" fill="#000"/>
<line x1="597.1" y1="343.0" x2="602.3" y2="337.7" stroke="#000" stroke-width="1.05"/>
<circle cx="597.5" cy="342.6" r="1" fill="#000"/>
<line x1="634.6" y1="380.2" x2="639.9" y2="375.0" stroke="#000" stroke-width="1.05"/>
<circle cx="635.0" cy="379.8" r="1" fill="#000"/>
<line x1="665.4" y1="411.0" x2="670.7" y2="405.7" stroke="#000" stroke-width="1.05"/>
<circle cx="665.8" cy="410.6" r="1" fill="#000"/>
<line x1="682.8" y1="428.3" x2="688.0" y2="423.1" stroke="#000" stroke-width="1.05"/>
<circle cx="683.2" cy="427.9" r="1" fill="#000"/>
<line x1="694.4" y1="439.9" x2="700.0" y2="435.0" stroke="#000" stroke-width="1.05"/>
<circle cx="694.8" cy="439.5" r="1" fill="#000"/>
<line x1="460.7" y1="511.1" x2="462.3" y2="511.1" stroke="#555" stroke-width="0.8"/>
<line x1="460.7" y1="457.1" x2="462.3" y2="457.1" stroke="#555" stroke-width="0.8"/>
<line x1="460.7" y1="403.2" x2="462.3" y2="403.2" stroke="#555" stroke-width="0.8"/>
<line x1="460.7" y1="349.2" x2="462.3" y2="349.2" stroke="#555" stroke-width="0.8"/>
<line x1="460.7" y1="295.3" x2="462.3" y2="295.3" stroke="#555" stroke-width="0.8"/>
<circle cx="574.5" cy="388.5" r="2.70" fill="#fff" fill-opacity="0.7" stroke="#000" stroke-width="0.88"/>
<circle cx="577.3" cy="388.8" r="2.70" fill="#fff" fill-opacity="0.7" stroke="#000" stroke-width="0.88"/>
<circle cx="582.4" cy="397.9" r="2.70" fill="#fff" fill-opacity="0.7" stroke="#000" stroke-width="0.88"/>
<circle cx="593.7" cy="384.0" r="2.70" fill="#fff" fill-opacity="0.7" stroke="#000" stroke-width="0.88"/>
<circle cx="594.8" cy="386.8" r="2.70" fill="#fff" fill-opacity="0.7" stroke="#000" stroke-width="0.88"/>
<circle cx="598.8" cy="386.1" r="2.70" fill="#fff" fill-opacity="0.7" stroke="#000" stroke-width="0.88"/>
<circle cx="606.7" cy="385.7" r="2.70" fill="#fff" fill-opacity="0.7" stroke="#000" stroke-width="0.88"/>
<circle cx="604.4" cy="388.3" r="2.70" fill="#fff" fill-opacity="0.7" stroke="#000" stroke-width="0.88"/>
<circle cx="604.4" cy="391.0" r="2.70" fill="#fff" fill-opacity="0.7" stroke="#000" stroke-width="0.88"/>
<circle cx="612.7" cy="391.0" r="2.70" fill="#fff" fill-opacity="0.7" stroke="#000" stroke-width="0.88"/>
<circle cx="594.3" cy="405.5" r="2.70" fill="#fff" fill-opacity="0.7" stroke="#000" stroke-width="0.88"/>
<circle cx="590.3" cy="407.7" r="2.70" fill="#fff" fill-opacity="0.7" stroke="#000" stroke-width="0.88"/>
<circle cx="588.1" cy="410.0" r="2.70" fill="#fff" fill-opacity="0.7" stroke="#000" stroke-width="0.88"/>
<circle cx="585.2" cy="412.8" r="2.70" fill="#fff" fill-opacity="0.7" stroke="#000" stroke-width="0.88"/>
<circle cx="584.1" cy="415.1" r="2.70" fill="#fff" fill-opacity="0.7" stroke="#000" stroke-width="0.88"/>
<circle cx="581.8" cy="418.4" r="2.70" fill="#fff" fill-opacity="0.7" stroke="#000" stroke-width="0.88"/>
<circle cx="583.5" cy="421.3" r="2.70" fill="#fff" fill-opacity="0.7" stroke="#000" stroke-width="0.88"/>
<circle cx="586.9" cy="422.4" r="2.70" fill="#fff" fill-opacity="0.7" stroke="#000" stroke-width="0.88"/>
<circle cx="589.7" cy="420.1" r="2.70" fill="#fff" fill-opacity="0.7" stroke="#000" stroke-width="0.88"/>
<circle cx="591.4" cy="417.3" r="2.70" fill="#fff" fill-opacity="0.7" stroke="#000" stroke-width="0.88"/>
<circle cx="592.6" cy="413.9" r="2.70" fill="#fff" fill-opacity="0.7" stroke="#000" stroke-width="0.88"/>
<circle cx="594.3" cy="411.1" r="2.70" fill="#fff" fill-opacity="0.7" stroke="#000" stroke-width="0.88"/>
<circle cx="599.3" cy="411.1" r="2.70" fill="#fff" fill-opacity="0.7" stroke="#000" stroke-width="0.88"/>
<circle cx="600.5" cy="413.9" r="2.70" fill="#fff" fill-opacity="0.7" stroke="#000" stroke-width="0.88"/>
<circle cx="596.5" cy="408.9" r="2.70" fill="#fff" fill-opacity="0.7" stroke="#000" stroke-width="0.88"/>
<circle cx="585.8" cy="427.5" r="2.70" fill="#fff" fill-opacity="0.7" stroke="#000" stroke-width="0.88"/>
<circle cx="589.7" cy="429.2" r="2.70" fill="#fff" fill-opacity="0.7" stroke="#000" stroke-width="0.88"/>
<circle cx="592.6" cy="424.6" r="2.70" fill="#fff" fill-opacity="0.7" stroke="#000" stroke-width="0.88"/>
<circle cx="595.4" cy="426.3" r="2.70" fill="#fff" fill-opacity="0.7" stroke="#000" stroke-width="0.88"/>
<circle cx="597.1" cy="429.2" r="2.70" fill="#fff" fill-opacity="0.7" stroke="#000" stroke-width="0.88"/>
<circle cx="599.3" cy="431.4" r="2.70" fill="#fff" fill-opacity="0.7" stroke="#000" stroke-width="0.88"/>
<circle cx="596.0" cy="434.2" r="2.70" fill="#fff" fill-opacity="0.7" stroke="#000" stroke-width="0.88"/>
<circle cx="600.5" cy="435.9" r="2.70" fill="#fff" fill-opacity="0.7" stroke="#000" stroke-width="0.88"/>
<circle cx="603.9" cy="434.2" r="2.70" fill="#fff" fill-opacity="0.7" stroke="#000" stroke-width="0.88"/>
<circle cx="607.2" cy="435.4" r="2.70" fill="#fff" fill-opacity="0.7" stroke="#000" stroke-width="0.88"/>
<circle cx="610.6" cy="433.7" r="2.70" fill="#fff" fill-opacity="0.7" stroke="#000" stroke-width="0.88"/>
<circle cx="614.0" cy="436.5" r="2.70" fill="#fff" fill-opacity="0.7" stroke="#000" stroke-width="0.88"/>
<circle cx="618.5" cy="435.4" r="2.70" fill="#fff" fill-opacity="0.7" stroke="#000" stroke-width="0.88"/>
<circle cx="622.5" cy="435.9" r="2.70" fill="#fff" fill-opacity="0.7" stroke="#000" stroke-width="0.88"/>
<circle cx="626.4" cy="433.7" r="2.70" fill="#fff" fill-opacity="0.7" stroke="#000" stroke-width="0.88"/>
<circle cx="628.7" cy="432.0" r="2.70" fill="#fff" fill-opacity="0.7" stroke="#000" stroke-width="0.88"/>
<circle cx="631.5" cy="429.7" r="2.70" fill="#fff" fill-opacity="0.7" stroke="#000" stroke-width="0.88"/>
<circle cx="633.8" cy="427.5" r="2.70" fill="#fff" fill-opacity="0.7" stroke="#000" stroke-width="0.88"/>
<circle cx="635.4" cy="425.8" r="2.70" fill="#fff" fill-opacity="0.7" stroke="#000" stroke-width="0.88"/>
<circle cx="637.7" cy="420.1" r="2.70" fill="#fff" fill-opacity="0.7" stroke="#000" stroke-width="0.88"/>
<circle cx="636.6" cy="417.3" r="2.70" fill="#fff" fill-opacity="0.7" stroke="#000" stroke-width="0.88"/>
<circle cx="636.0" cy="413.9" r="2.70" fill="#fff" fill-opacity="0.7" stroke="#000" stroke-width="0.88"/>
<circle cx="636.6" cy="411.1" r="2.70" fill="#fff" fill-opacity="0.7" stroke="#000" stroke-width="0.88"/>
<circle cx="636.0" cy="408.3" r="2.70" fill="#fff" fill-opacity="0.7" stroke="#000" stroke-width="0.88"/>
<circle cx="633.2" cy="406.0" r="2.70" fill="#fff" fill-opacity="0.7" stroke="#000" stroke-width="0.88"/>
<circle cx="631.5" cy="404.3" r="2.70" fill="#fff" fill-opacity="0.7" stroke="#000" stroke-width="0.88"/>
<circle cx="629.2" cy="402.1" r="2.70" fill="#fff" fill-opacity="0.7" stroke="#000" stroke-width="0.88"/>
<circle cx="627.0" cy="400.4" r="2.70" fill="#fff" fill-opacity="0.7" stroke="#000" stroke-width="0.88"/>
<circle cx="625.3" cy="399.3" r="2.70" fill="#fff" fill-opacity="0.7" stroke="#000" stroke-width="0.88"/>
<circle cx="626.4" cy="407.2" r="2.70" fill="#fff" fill-opacity="0.7" stroke="#000" stroke-width="0.88"/>
<circle cx="628.7" cy="408.9" r="2.70" fill="#fff" fill-opacity="0.7" stroke="#000" stroke-width="0.88"/>
<circle cx="608.4" cy="413.4" r="2.70" fill="#fff" fill-opacity="0.7" stroke="#000" stroke-width="0.88"/>
<circle cx="615.7" cy="412.8" r="2.70" fill="#fff" fill-opacity="0.7" stroke="#000" stroke-width="0.88"/>
<circle cx="588.6" cy="413.4" r="2.70" fill="#fff" fill-opacity="0.7" stroke="#000" stroke-width="0.88"/>
<circle cx="586.9" cy="416.7" r="2.70" fill="#fff" fill-opacity="0.7" stroke="#000" stroke-width="0.88"/>
<circle cx="590.9" cy="423.5" r="2.70" fill="#fff" fill-opacity="0.7" stroke="#000" stroke-width="0.88"/>
<circle cx="588.1" cy="419.6" r="2.70" fill="#fff" fill-opacity="0.7" stroke="#000" stroke-width="0.88"/>
<circle cx="597.6" cy="412.2" r="2.70" fill="#fff" fill-opacity="0.7" stroke="#000" stroke-width="0.88"/>
<circle cx="602.7" cy="436.5" r="2.70" fill="#fff" fill-opacity="0.7" stroke="#000" stroke-width="0.88"/>
<circle cx="616.3" cy="437.1" r="2.70" fill="#fff" fill-opacity="0.7" stroke="#000" stroke-width="0.88"/>
<circle cx="624.2" cy="434.8" r="2.70" fill="#fff" fill-opacity="0.7" stroke="#000" stroke-width="0.88"/>
<circle cx="638.8" cy="421.8" r="2.70" fill="#fff" fill-opacity="0.7" stroke="#000" stroke-width="0.88"/>
<circle cx="568.6" cy="394.2" r="2.70" fill="#fff" fill-opacity="0.7" stroke="#000" stroke-width="0.88"/>
<circle cx="565.7" cy="396.4" r="2.70" fill="#fff" fill-opacity="0.7" stroke="#000" stroke-width="0.88"/>
<circle cx="563.5" cy="399.4" r="2.70" fill="#fff" fill-opacity="0.7" stroke="#000" stroke-width="0.88"/>
<circle cx="562.0" cy="401.6" r="2.70" fill="#fff" fill-opacity="0.7" stroke="#000" stroke-width="0.88"/>
<circle cx="565.0" cy="402.3" r="2.70" fill="#fff" fill-opacity="0.7" stroke="#000" stroke-width="0.88"/>
<circle cx="559.8" cy="406.7" r="2.70" fill="#fff" fill-opacity="0.7" stroke="#000" stroke-width="0.88"/>
<circle cx="562.8" cy="409.7" r="2.70" fill="#fff" fill-opacity="0.7" stroke="#000" stroke-width="0.88"/>
<circle cx="559.1" cy="417.0" r="2.70" fill="#fff" fill-opacity="0.7" stroke="#000" stroke-width="0.88"/>
<circle cx="567.2" cy="416.7" r="2.70" fill="#fff" fill-opacity="0.7" stroke="#000" stroke-width="0.88"/>
<circle cx="554.0" cy="419.9" r="2.70" fill="#fff" fill-opacity="0.7" stroke="#000" stroke-width="0.88"/>
<circle cx="558.4" cy="422.1" r="2.70" fill="#fff" fill-opacity="0.7" stroke="#000" stroke-width="0.88"/>
<circle cx="565.6" cy="439.8" r="2.70" fill="#fff" fill-opacity="0.7" stroke="#000" stroke-width="0.88"/>
<circle cx="552.2" cy="444.8" r="2.70" fill="#fff" fill-opacity="0.7" stroke="#000" stroke-width="0.88"/>
<circle cx="557.2" cy="446.5" r="2.70" fill="#fff" fill-opacity="0.7" stroke="#000" stroke-width="0.88"/>
<circle cx="558.8" cy="465.2" r="2.70" fill="#fff" fill-opacity="0.7" stroke="#000" stroke-width="0.88"/>
<circle cx="554.6" cy="421.1" r="2.70" fill="#fff" fill-opacity="0.7" stroke="#000" stroke-width="0.88"/>
<circle cx="558.8" cy="422.7" r="2.70" fill="#fff" fill-opacity="0.7" stroke="#000" stroke-width="0.88"/>
<circle cx="595.6" cy="435.0" r="2.70" fill="#fff" fill-opacity="0.7" stroke="#000" stroke-width="0.88"/>
<circle cx="599.3" cy="436.9" r="2.70" fill="#fff" fill-opacity="0.7" stroke="#000" stroke-width="0.88"/>
<circle cx="603.0" cy="438.7" r="2.70" fill="#fff" fill-opacity="0.7" stroke="#000" stroke-width="0.88"/>
<circle cx="606.8" cy="435.9" r="2.70" fill="#fff" fill-opacity="0.7" stroke="#000" stroke-width="0.88"/>
<circle cx="610.5" cy="437.8" r="2.70" fill="#fff" fill-opacity="0.7" stroke="#000" stroke-width="0.88"/>
<circle cx="614.3" cy="438.7" r="2.70" fill="#fff" fill-opacity="0.7" stroke="#000" stroke-width="0.88"/>
<circle cx="618.0" cy="435.9" r="2.70" fill="#fff" fill-opacity="0.7" stroke="#000" stroke-width="0.88"/>
<circle cx="623.6" cy="435.9" r="2.70" fill="#fff" fill-opacity="0.7" stroke="#000" stroke-width="0.88"/>
<circle cx="627.3" cy="433.1" r="2.70" fill="#fff" fill-opacity="0.7" stroke="#000" stroke-width="0.88"/>
<circle cx="631.1" cy="431.3" r="2.70" fill="#fff" fill-opacity="0.7" stroke="#000" stroke-width="0.88"/>
<circle cx="632.9" cy="428.4" r="2.70" fill="#fff" fill-opacity="0.7" stroke="#000" stroke-width="0.88"/>
<circle cx="634.8" cy="425.6" r="2.70" fill="#fff" fill-opacity="0.7" stroke="#000" stroke-width="0.88"/>
<circle cx="636.7" cy="422.8" r="2.70" fill="#fff" fill-opacity="0.7" stroke="#000" stroke-width="0.88"/>
<circle cx="638.6" cy="420.0" r="2.70" fill="#fff" fill-opacity="0.7" stroke="#000" stroke-width="0.88"/>
<circle cx="636.7" cy="418.2" r="2.70" fill="#fff" fill-opacity="0.7" stroke="#000" stroke-width="0.88"/>
<circle cx="635.7" cy="414.4" r="2.70" fill="#fff" fill-opacity="0.7" stroke="#000" stroke-width="0.88"/>
<circle cx="636.7" cy="410.7" r="2.70" fill="#fff" fill-opacity="0.7" stroke="#000" stroke-width="0.88"/>
<circle cx="634.8" cy="407.9" r="2.70" fill="#fff" fill-opacity="0.7" stroke="#000" stroke-width="0.88"/>
<circle cx="631.1" cy="406.0" r="2.70" fill="#fff" fill-opacity="0.7" stroke="#000" stroke-width="0.88"/>
<circle cx="627.3" cy="401.3" r="2.70" fill="#fff" fill-opacity="0.7" stroke="#000" stroke-width="0.88"/>
<circle cx="625.5" cy="399.5" r="2.70" fill="#fff" fill-opacity="0.7" stroke="#000" stroke-width="0.88"/>
<circle cx="629.2" cy="403.2" r="2.70" fill="#fff" fill-opacity="0.7" stroke="#000" stroke-width="0.88"/>
<circle cx="626.4" cy="407.0" r="2.70" fill="#fff" fill-opacity="0.7" stroke="#000" stroke-width="0.88"/>
<circle cx="627.3" cy="409.8" r="2.70" fill="#fff" fill-opacity="0.7" stroke="#000" stroke-width="0.88"/>
<circle cx="594.6" cy="405.1" r="2.70" fill="#fff" fill-opacity="0.7" stroke="#000" stroke-width="0.88"/>
<circle cx="590.9" cy="407.9" r="2.70" fill="#fff" fill-opacity="0.7" stroke="#000" stroke-width="0.88"/>
<circle cx="588.1" cy="409.8" r="2.70" fill="#fff" fill-opacity="0.7" stroke="#000" stroke-width="0.88"/>
<circle cx="584.3" cy="413.5" r="2.70" fill="#fff" fill-opacity="0.7" stroke="#000" stroke-width="0.88"/>
<circle cx="582.5" cy="419.1" r="2.70" fill="#fff" fill-opacity="0.7" stroke="#000" stroke-width="0.88"/>
<circle cx="585.3" cy="421.9" r="2.70" fill="#fff" fill-opacity="0.7" stroke="#000" stroke-width="0.88"/>
<circle cx="589.0" cy="420.0" r="2.70" fill="#fff" fill-opacity="0.7" stroke="#000" stroke-width="0.88"/>
<circle cx="591.8" cy="417.2" r="2.70" fill="#fff" fill-opacity="0.7" stroke="#000" stroke-width="0.88"/>
<circle cx="593.7" cy="414.4" r="2.70" fill="#fff" fill-opacity="0.7" stroke="#000" stroke-width="0.88"/>
<circle cx="600.2" cy="411.6" r="2.70" fill="#fff" fill-opacity="0.7" stroke="#000" stroke-width="0.88"/>
<circle cx="598.4" cy="414.4" r="2.70" fill="#fff" fill-opacity="0.7" stroke="#000" stroke-width="0.88"/>
<circle cx="585.3" cy="427.5" r="2.70" fill="#fff" fill-opacity="0.7" stroke="#000" stroke-width="0.88"/>
<circle cx="589.0" cy="429.4" r="2.70" fill="#fff" fill-opacity="0.7" stroke="#000" stroke-width="0.88"/>
<circle cx="592.8" cy="427.5" r="2.70" fill="#fff" fill-opacity="0.7" stroke="#000" stroke-width="0.88"/>
<circle cx="596.5" cy="426.6" r="2.70" fill="#fff" fill-opacity="0.7" stroke="#000" stroke-width="0.88"/>
<circle cx="597.4" cy="431.3" r="2.70" fill="#fff" fill-opacity="0.7" stroke="#000" stroke-width="0.88"/>
<circle cx="593.7" cy="422.8" r="2.70" fill="#fff" fill-opacity="0.7" stroke="#000" stroke-width="0.88"/>
<circle cx="590.0" cy="424.7" r="2.70" fill="#fff" fill-opacity="0.7" stroke="#000" stroke-width="0.88"/>
<use href="#star" transform="translate(586.7,385.2) scale(4.7)" fill="#fff" stroke="#0a0a0a" stroke-width="0.21"/>
<use href="#star" transform="translate(619.6,395.9) scale(4.7)" fill="#fff" stroke="#0a0a0a" stroke-width="0.21"/>
<use href="#star" transform="translate(637.7,424.6) scale(4.7)" fill="#fff" stroke="#0a0a0a" stroke-width="0.21"/>
<use href="#star" transform="translate(554.8,426.9) scale(4.7)" fill="#fff" stroke="#0a0a0a" stroke-width="0.21"/>
<g class="t"><text x="77.50" y="63.0" font-size="12" text-anchor="middle">70</text>
<text x="124.75" y="63.0" font-size="12" text-anchor="middle">100</text>
<text x="172.00" y="63.0" font-size="12" text-anchor="middle">130</text>
<text x="219.25" y="63.0" font-size="12" text-anchor="middle">160</text>
<text x="266.50" y="63.0" font-size="12" text-anchor="middle">190</text>
<text x="313.75" y="63.0" font-size="12" text-anchor="middle">220</text>
<text x="61.2" y="81.50" font-size="12" text-anchor="end">60</text>
<text x="61.2" y="128.39" font-size="12" text-anchor="end">90</text>
<text x="61.2" y="175.28" font-size="12" text-anchor="end">120</text>
<text x="473.60" y="62.4" font-size="12" text-anchor="middle">70</text>
<text x="520.70" y="62.4" font-size="12" text-anchor="middle">100</text>
<text x="567.80" y="62.4" font-size="12" text-anchor="middle">130</text>
<text x="614.90" y="62.4" font-size="12" text-anchor="middle">160</text>
<text x="662.00" y="62.4" font-size="12" text-anchor="middle">190</text>
<text x="709.10" y="62.4" font-size="12" text-anchor="middle">220</text>
<text x="457.4" y="80.70" font-size="12" text-anchor="end">60</text>
<text x="457.4" y="128.01" font-size="12" text-anchor="end">90</text>
<text x="457.4" y="175.32" font-size="12" text-anchor="end">120</text>
<text x="1.0" y="19.5" font-size="26">(a)</text>
<text x="401.4" y="19.4" font-size="26">(b)</text>
<text x="-0.2" y="242.6" font-size="26">(c)</text>
<text x="401.6" y="242.2" font-size="26">(d)</text>
<text x="210.5" y="41.7" font-size="16.8" text-anchor="middle">Diameter (nm)</text>
<text x="606.1" y="41.2" font-size="16.8" text-anchor="middle">Diameter (nm)</text>
<text transform="translate(39.2,122.3) rotate(-90)" font-size="17" text-anchor="middle">Gap (nm)</text>
<text transform="translate(434.6,122.0) rotate(-90)" font-size="17" text-anchor="middle">Gap (nm)</text>
<text x="209.0" y="219.4" font-size="25" text-anchor="middle">Simulations</text>
<text x="603.7" y="219.6" font-size="25" text-anchor="middle">Experiment</text>
<text x="123.1" y="280.1" font-size="12.5" text-anchor="end">520</text>
<text x="99.5" y="309.6" font-size="12.5" text-anchor="end">510</text>
<text x="98.3" y="368.6" font-size="12.5" text-anchor="end">500</text>
<text x="108.4" y="434.6" font-size="12.5" text-anchor="end">490</text>
<text x="120.6" y="479.2" font-size="12.5" text-anchor="end">480</text>
<text x="129.7" y="500.2" font-size="12.5" text-anchor="end">470</text>
<text x="136.5" y="509.4" font-size="12.5" text-anchor="end">460</text>
<text x="148.7" y="519.0" font-size="12.5" text-anchor="end">390</text>
<text x="170.8" y="302.8" font-size="12.5" text-anchor="start">540</text>
<text x="210.0" y="338.3" font-size="12.5" text-anchor="start">560</text>
<text x="247.0" y="375.4" font-size="12.5" text-anchor="start">580</text>
<text x="277.7" y="405.4" font-size="12.5" text-anchor="start">600</text>
<text x="293.9" y="423.1" font-size="12.5" text-anchor="start">620</text>
<text x="306.1" y="434.1" font-size="12.5" text-anchor="start">700</text>
<text x="104.4" y="556.1" font-size="15.2" text-anchor="middle">0.0</text>
<text x="67.1" y="513.0" font-size="15.2" text-anchor="end">0.0</text>
<text x="157.6" y="556.1" font-size="15.2" text-anchor="middle">0.2</text>
<text x="67.1" y="459.8" font-size="15.2" text-anchor="end">0.2</text>
<text x="210.8" y="556.1" font-size="15.2" text-anchor="middle">0.4</text>
<text x="67.1" y="406.6" font-size="15.2" text-anchor="end">0.4</text>
<text x="264.0" y="556.1" font-size="15.2" text-anchor="middle">0.6</text>
<text x="67.1" y="353.3" font-size="15.2" text-anchor="end">0.6</text>
<text x="317.2" y="556.1" font-size="15.2" text-anchor="middle">0.8</text>
<text x="67.1" y="300.1" font-size="15.2" text-anchor="end">0.8</text>
<text x="211.5" y="570.5" font-size="15.3" text-anchor="middle">CIE x</text>
<text transform="translate(42.0,400.6) rotate(-90)" font-size="15.3" text-anchor="middle">CIE y</text>
<text x="516.4" y="280.6" font-size="12.5" text-anchor="end">520</text>
<text x="492.2" y="310.1" font-size="12.5" text-anchor="end">510</text>
<text x="490.3" y="369.2" font-size="12.5" text-anchor="end">500</text>
<text x="500.4" y="436.6" font-size="12.5" text-anchor="end">490</text>
<text x="512.5" y="481.4" font-size="12.5" text-anchor="end">480</text>
<text x="522.0" y="502.8" font-size="12.5" text-anchor="end">470</text>
<text x="528.8" y="511.8" font-size="12.5" text-anchor="end">460</text>
<text x="541.5" y="521.2" font-size="12.5" text-anchor="end">390</text>
<text x="563.9" y="303.3" font-size="12.5" text-anchor="start">540</text>
<text x="603.5" y="339.1" font-size="12.5" text-anchor="start">560</text>
<text x="641.6" y="376.6" font-size="12.5" text-anchor="start">580</text>
<text x="672.1" y="407.1" font-size="12.5" text-anchor="start">600</text>
<text x="689.4" y="424.4" font-size="12.5" text-anchor="start">620</text>
<text x="701.3" y="436.3" font-size="12.5" text-anchor="start">700</text>
<text x="497.1" y="559.4" font-size="15.2" text-anchor="middle">0.0</text>
<text x="459.9" y="516.6" font-size="15.2" text-anchor="end">0.0</text>
<text x="550.9" y="559.4" font-size="15.2" text-anchor="middle">0.2</text>
<text x="459.9" y="462.6" font-size="15.2" text-anchor="end">0.2</text>
<text x="604.7" y="559.4" font-size="15.2" text-anchor="middle">0.4</text>
<text x="459.9" y="408.6" font-size="15.2" text-anchor="end">0.4</text>
<text x="658.6" y="559.4" font-size="15.2" text-anchor="middle">0.6</text>
<text x="459.9" y="354.7" font-size="15.2" text-anchor="end">0.6</text>
<text x="712.4" y="559.4" font-size="15.2" text-anchor="middle">0.8</text>
<text x="459.9" y="300.7" font-size="15.2" text-anchor="end">0.8</text>
<text x="604.2" y="574.4" font-size="15.3" text-anchor="middle">CIE x</text>
<text transform="translate(434.5,402.2) rotate(-90)" font-size="15.3" text-anchor="middle">CIE y</text></g>
</svg></body></html>
